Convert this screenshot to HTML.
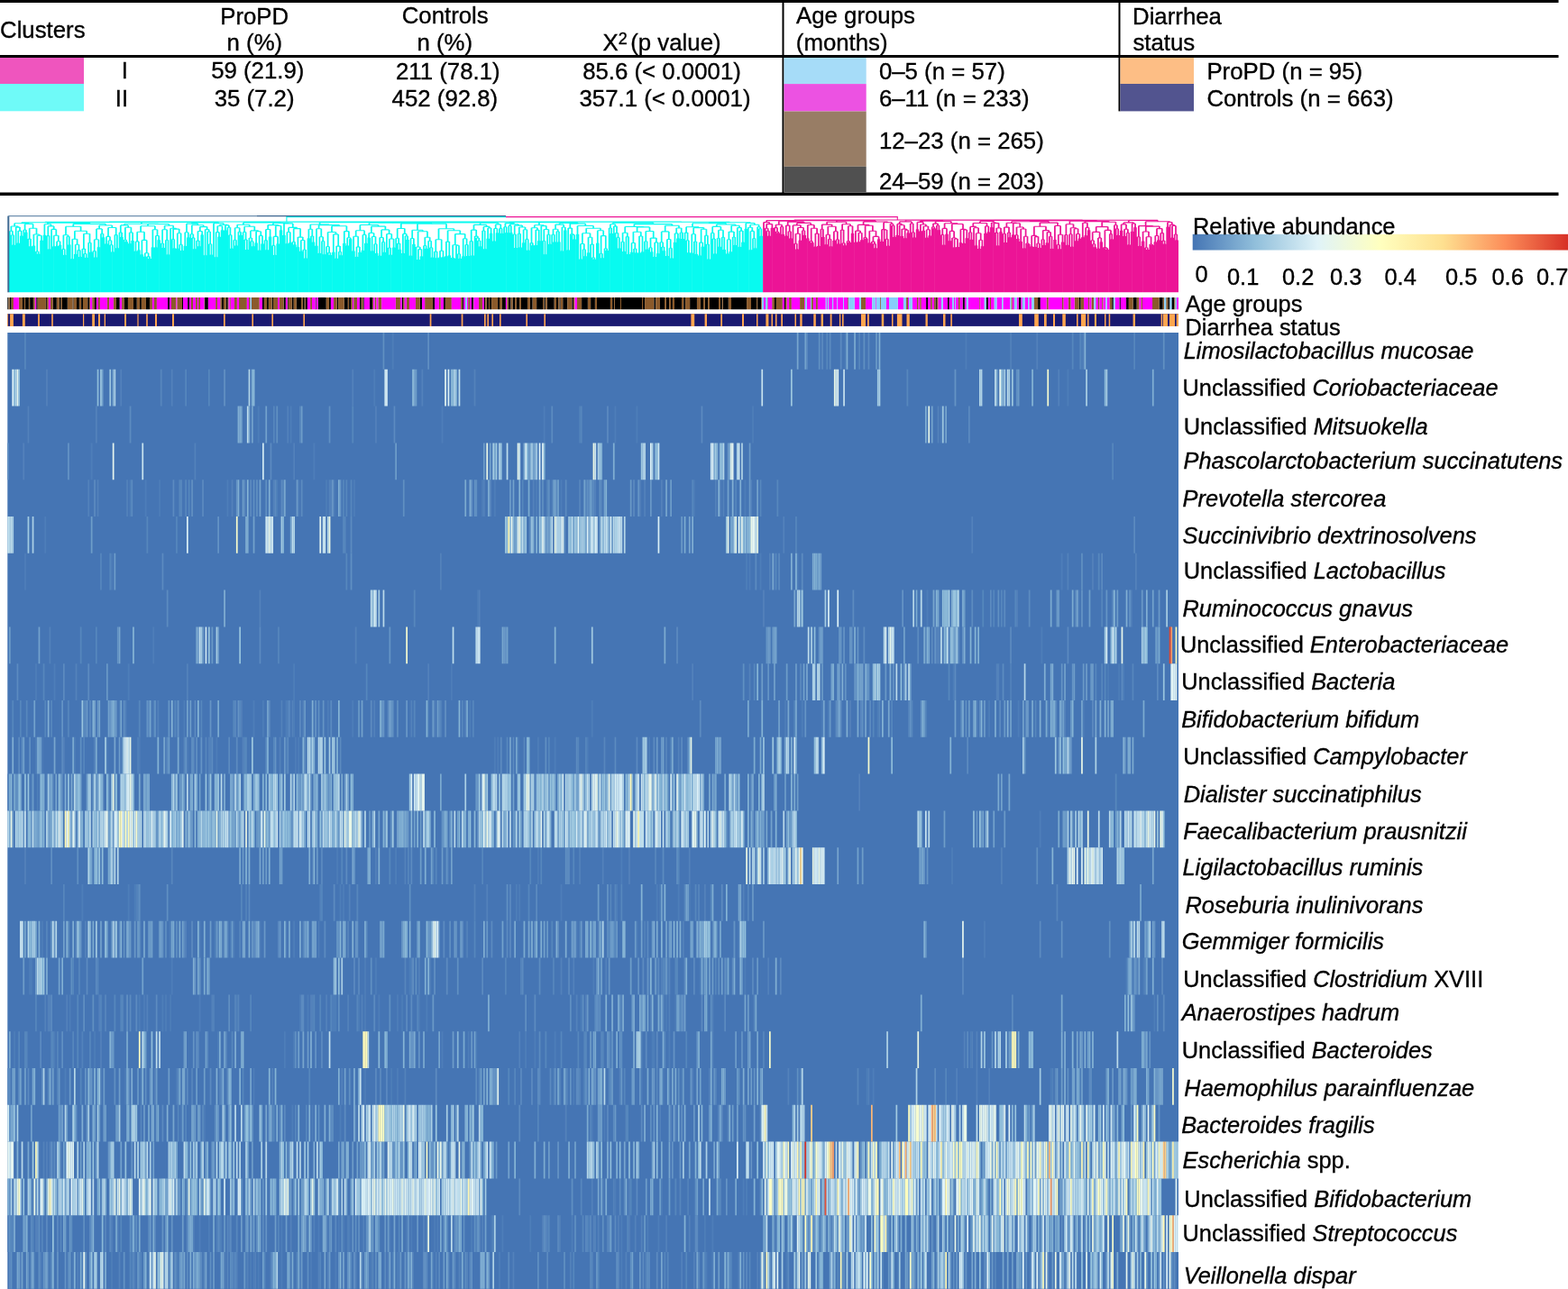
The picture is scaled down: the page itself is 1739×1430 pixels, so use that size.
<!DOCTYPE html>
<html><head><meta charset="utf-8"><title>Heatmap</title>
<style>html,body{margin:0;padding:0;background:#fff;width:1739px;height:1430px;overflow:hidden}svg text{fill:#000;stroke:#000;stroke-width:0.35px}</style>
</head><body>
<svg width="1739" height="1430" viewBox="0 0 1739 1430" style="display:block;font-family:'Liberation Sans',Arial,sans-serif;font-size:25.4px">
<rect x="0.00" y="0.00" width="1739.00" height="1430.00" fill="#fff"/>
<g font-size="25.8">
<rect x="0.00" y="0.00" width="1728.50" height="3.00" fill="#000"/>
<rect x="0.00" y="61.00" width="1728.50" height="3.00" fill="#000"/>
<rect x="0.00" y="213.50" width="1728.50" height="3.50" fill="#000"/>
<rect x="867.50" y="0.00" width="2.00" height="216.00" fill="#000"/>
<rect x="1240.50" y="0.00" width="2.00" height="123.40" fill="#000"/>
<rect x="0.00" y="64.00" width="93.00" height="29.00" fill="#ef55be"/>
<rect x="0.00" y="93.00" width="93.00" height="30.30" fill="#6ffaf8"/>
<rect x="869.50" y="64.00" width="91.20" height="29.10" fill="#a6dcf8"/>
<rect x="869.50" y="93.10" width="91.20" height="30.40" fill="#ec52e2"/>
<rect x="869.50" y="123.50" width="91.20" height="61.30" fill="#987d65"/>
<rect x="869.50" y="184.80" width="91.20" height="28.70" fill="#505050"/>
<rect x="1242.50" y="64.00" width="81.50" height="29.00" fill="#fdbe85"/>
<rect x="1242.50" y="93.00" width="81.50" height="30.40" fill="#52548f"/>
<text x="0.0" y="42.3">Clusters</text>
<text x="282.2" y="26.7" text-anchor="middle">ProPD</text>
<text x="282.4" y="56.0" text-anchor="middle">n (%)</text>
<text x="493.7" y="26.2" text-anchor="middle">Controls</text>
<text x="493.2" y="56.0" text-anchor="middle">n (%)</text>
<text x="668.5" y="56">X<tspan font-size="18" dy="-7.5">2</tspan><tspan dy="7.5" dx="3.5">(p value)</tspan></text>
<text x="138.4" y="87.1" text-anchor="middle">I</text>
<text x="135.0" y="118.2" text-anchor="middle">II</text>
<text x="285.8" y="87.1" text-anchor="middle">59 (21.9)</text>
<text x="282.1" y="118.2" text-anchor="middle">35 (7.2)</text>
<text x="496.8" y="87.8" text-anchor="middle">211 (78.1)</text>
<text x="493.4" y="117.6" text-anchor="middle">452 (92.8)</text>
<text x="734.0" y="87.8" text-anchor="middle">85.6 (&lt; 0.0001)</text>
<text x="737.5" y="117.6" text-anchor="middle">357.1 (&lt; 0.0001)</text>
<text x="883.0" y="26.3">Age groups</text>
<text x="882.8" y="56.2">(months)</text>
<text x="1256.0" y="26.9">Diarrhea</text>
<text x="1256.4" y="56.2">status</text>
<text x="974.9" y="88.0">0–5 (n = 57)</text>
<text x="974.9" y="118.0">6–11 (n = 233)</text>
<text x="974.9" y="164.9">12–23 (n = 265)</text>
<text x="974.9" y="210.0">24–59 (n = 203)</text>
<text x="1338.4" y="87.8">ProPD (n = 95)</text>
<text x="1338.4" y="118.2">Controls (n = 663)</text>
</g>
<path fill="none" stroke="#08faf0" stroke-width="1.75" d="M14.3 324.3V271.8M16.0 324.3V271.8M12.6 324.3V260.7M15.2 271.8V260.7M10.9 324.3V256.3M13.9 260.7V256.3M19.4 324.3V269.8M21.1 324.3V269.8M22.9 324.3V261.7M24.6 324.3V261.7M20.3 269.8V256.1M23.7 261.7V256.1M17.7 324.3V252.1M22.0 256.1V252.1M12.4 256.3V251.0M19.9 252.1V251.0M28.0 324.3V257.7M29.7 324.3V257.7M26.3 324.3V255.0M28.9 257.7V255.0M33.1 324.3V273.3M34.9 324.3V273.3M31.4 324.3V265.1M34.0 273.3V265.1M36.6 324.3V272.8M38.3 324.3V272.8M41.7 324.3V281.8M43.4 324.3V281.8M40.0 324.3V279.0M42.6 281.8V279.0M45.1 324.3V266.8M46.8 324.3V266.8M41.3 279.0V261.2M46.0 266.8V261.2M37.4 272.8V260.0M43.6 261.2V260.0M32.7 265.1V253.3M40.5 260.0V253.3M27.6 255.0V248.4M36.6 253.3V248.4M16.1 251.0V247.8M32.1 248.4V247.8M48.6 324.3V260.9M50.3 324.3V260.9M53.7 324.3V276.5M55.4 324.3V276.5M52.0 324.3V261.6M54.6 276.5V261.6M58.8 324.3V273.4M60.6 324.3V273.4M62.3 324.3V272.9M64.0 324.3V272.9M65.7 324.3V271.9M67.4 324.3V271.9M63.1 272.9V267.8M66.6 271.9V267.8M59.7 273.4V261.2M64.8 267.8V261.2M57.1 324.3V254.4M62.3 261.2V254.4M53.3 261.6V250.9M59.7 254.4V250.9M49.4 260.9V248.7M56.5 250.9V248.7M70.8 324.3V282.9M72.5 324.3V282.9M69.1 324.3V276.4M71.7 282.9V276.4M76.0 324.3V271.6M77.7 324.3V271.6M74.3 324.3V262.3M76.8 271.6V262.3M70.4 276.4V260.8M75.5 262.3V260.8M79.4 324.3V287.3M81.1 324.3V287.3M82.8 324.3V282.1M84.5 324.3V282.1M88.0 324.3V285.0M89.7 324.3V285.0M86.3 324.3V277.6M88.8 285.0V277.6M83.7 282.1V271.3M87.5 277.6V271.3M80.3 287.3V265.3M85.6 271.3V265.3M94.8 324.3V285.9M96.5 324.3V285.9M93.1 324.3V281.5M95.7 285.9V281.5M91.4 324.3V276.1M94.4 281.5V276.1M100.0 324.3V279.8M101.7 324.3V279.8M98.2 324.3V269.3M100.8 279.8V269.3M92.9 276.1V259.3M99.5 269.3V259.3M82.9 265.3V256.2M96.2 259.3V256.2M73.0 260.8V251.2M89.6 256.2V251.2M105.1 324.3V285.6M106.8 324.3V285.6M103.4 324.3V278.6M106.0 285.6V278.6M108.5 324.3V274.2M110.2 324.3V274.2M104.7 278.6V265.8M109.4 274.2V265.8M113.7 324.3V263.6M115.4 324.3V263.6M112.0 324.3V259.2M114.5 263.6V259.2M107.0 265.8V253.9M113.2 259.2V253.9M117.1 324.3V270.6M118.8 324.3V270.6M123.9 324.3V279.6M125.7 324.3V279.6M122.2 324.3V271.8M124.8 279.6V271.8M120.5 324.3V266.8M123.5 271.8V266.8M118.0 270.6V262.4M122.0 266.8V262.4M129.1 324.3V275.3M130.8 324.3V275.3M127.4 324.3V260.6M129.9 275.3V260.6M120.0 262.4V252.5M128.7 260.6V252.5M110.1 253.9V250.0M124.3 252.5V250.0M81.3 251.2V248.4M117.2 250.0V248.4M53.0 248.7V247.1M99.3 248.4V247.1M24.1 247.8V246.8M76.1 247.1V246.8M134.2 324.3V262.9M135.9 324.3V262.9M132.5 324.3V257.9M135.1 262.9V257.9M139.4 324.3V268.2M141.1 324.3V268.2M137.7 324.3V266.0M140.2 268.2V266.0M142.8 324.3V270.3M144.5 324.3V270.3M146.2 324.3V266.9M147.9 324.3V266.9M143.7 270.3V257.9M147.1 266.9V257.9M138.9 266.0V252.3M145.4 257.9V252.3M133.8 257.9V249.9M142.2 252.3V249.9M149.6 324.3V278.8M151.4 324.3V278.8M153.1 324.3V277.4M154.8 324.3V277.4M150.5 278.8V267.9M153.9 277.4V267.9M156.5 324.3V282.5M158.2 324.3V282.5M159.9 324.3V284.7M161.6 324.3V284.7M165.1 324.3V287.1M166.8 324.3V287.1M163.4 324.3V284.6M165.9 287.1V284.6M160.8 284.7V280.7M164.6 284.6V280.7M157.4 282.5V266.4M162.7 280.7V266.4M152.2 267.9V257.2M160.0 266.4V257.2M168.5 324.3V274.6M170.2 324.3V274.6M171.9 324.3V274.4M173.6 324.3V274.4M175.3 324.3V266.3M177.1 324.3V266.3M172.8 274.4V261.5M176.2 266.3V261.5M169.4 274.6V254.7M174.5 261.5V254.7M156.1 257.2V250.8M171.9 254.7V250.8M180.5 324.3V275.1M182.2 324.3V275.1M178.8 324.3V270.0M181.3 275.1V270.0M185.6 324.3V282.4M187.3 324.3V282.4M183.9 324.3V266.2M186.5 282.4V266.2M180.1 270.0V254.8M185.2 266.2V254.8M192.5 324.3V275.5M194.2 324.3V275.5M190.8 324.3V265.4M193.3 275.5V265.4M195.9 324.3V275.8M197.6 324.3V275.8M201.0 324.3V278.0M202.8 324.3V278.0M199.3 324.3V271.2M201.9 278.0V271.2M196.8 275.8V258.8M200.6 271.2V258.8M192.1 265.4V254.1M198.7 258.8V254.1M189.1 324.3V253.2M195.4 254.1V253.2M182.6 254.8V250.2M192.2 253.2V250.2M164.0 250.8V248.5M187.4 250.2V248.5M138.0 249.9V248.2M175.7 248.5V248.2M204.5 324.3V273.0M206.2 324.3V273.0M207.9 324.3V263.6M209.6 324.3V263.6M205.3 273.0V257.8M208.8 263.6V257.8M214.8 324.3V276.3M216.5 324.3V276.3M213.0 324.3V263.9M215.6 276.3V263.9M211.3 324.3V259.7M214.3 263.9V259.7M219.9 324.3V273.2M221.6 324.3V273.2M218.2 324.3V267.1M220.8 273.2V267.1M223.3 324.3V260.5M225.0 324.3V260.5M219.5 267.1V256.5M224.2 260.5V256.5M226.7 324.3V283.2M228.5 324.3V283.2M233.6 324.3V282.7M235.3 324.3V282.7M231.9 324.3V270.8M234.5 282.7V270.8M230.2 324.3V257.0M233.2 270.8V257.0M227.6 283.2V254.6M231.7 257.0V254.6M221.8 256.5V251.6M229.6 254.6V251.6M212.8 259.7V249.7M225.7 251.6V249.7M207.0 257.8V248.1M219.3 249.7V248.1M238.7 324.3V285.2M240.5 324.3V285.2M242.2 324.3V262.7M243.9 324.3V262.7M239.6 285.2V257.6M243.0 262.7V257.6M245.6 324.3V255.5M247.3 324.3V255.5M241.3 257.6V250.8M246.5 255.5V250.8M249.0 324.3V255.5M250.7 324.3V255.5M255.9 324.3V275.7M257.6 324.3V275.7M254.2 324.3V260.8M256.7 275.7V260.8M252.4 324.3V252.3M255.4 260.8V252.3M249.9 255.5V249.9M253.9 252.3V249.9M243.9 250.8V249.3M251.9 249.9V249.3M237.0 324.3V247.8M247.9 249.3V247.8M213.2 248.1V246.9M242.5 247.8V246.9M156.9 248.2V246.5M227.8 246.9V246.5M50.1 246.8V246.4M192.3 246.5V246.4M261.0 324.3V272.4M262.7 324.3V272.4M259.3 324.3V266.3M261.9 272.4V266.3M266.2 324.3V261.1M267.9 324.3V261.1M264.4 324.3V257.3M267.0 261.1V257.3M260.6 266.3V252.7M265.7 257.3V252.7M273.0 324.3V277.0M274.7 324.3V277.0M271.3 324.3V265.9M273.9 277.0V265.9M269.6 324.3V257.4M272.6 265.9V257.4M279.9 324.3V273.2M281.6 324.3V273.2M278.1 324.3V267.8M280.7 273.2V267.8M276.4 324.3V264.0M279.4 267.8V264.0M283.3 324.3V269.4M285.0 324.3V269.4M286.7 324.3V277.7M288.4 324.3V277.7M290.1 324.3V270.5M291.9 324.3V270.5M287.6 277.7V261.4M291.0 270.5V261.4M284.1 269.4V256.8M289.3 261.4V256.8M277.9 264.0V255.9M286.7 256.8V255.9M271.1 257.4V251.3M282.3 255.9V251.3M263.2 252.7V249.3M276.7 251.3V249.3M295.3 324.3V277.3M297.0 324.3V277.3M293.6 324.3V266.6M296.1 277.3V266.6M298.7 324.3V262.8M300.4 324.3V262.8M294.9 266.6V254.5M299.6 262.8V254.5M303.8 324.3V283.0M305.6 324.3V283.0M302.1 324.3V272.4M304.7 283.0V272.4M307.3 324.3V270.4M309.0 324.3V270.4M303.4 272.4V262.4M308.1 270.4V262.4M310.7 324.3V255.6M312.4 324.3V255.6M305.8 262.4V250.5M311.6 255.6V250.5M297.2 254.5V249.6M308.7 250.5V249.6M314.1 324.3V261.0M315.8 324.3V261.0M317.6 324.3V270.2M319.3 324.3V270.2M321.0 324.3V269.2M322.7 324.3V269.2M318.4 270.2V257.5M321.8 269.2V257.5M326.1 324.3V271.4M327.8 324.3V271.4M324.4 324.3V268.3M327.0 271.4V268.3M329.5 324.3V274.3M331.3 324.3V274.3M333.0 324.3V278.7M334.7 324.3V278.7M338.1 324.3V286.6M339.8 324.3V286.6M336.4 324.3V277.0M339.0 286.6V277.0M333.8 278.7V266.5M337.7 277.0V266.5M330.4 274.3V263.1M335.8 266.5V263.1M325.7 268.3V253.6M333.1 263.1V253.6M320.1 257.5V252.4M329.4 253.6V252.4M315.0 261.0V247.9M324.8 252.4V247.9M302.9 249.6V247.5M319.9 247.9V247.5M269.9 249.3V247.0M311.4 247.5V247.0M341.5 324.3V264.6M343.3 324.3V264.6M346.7 324.3V268.8M348.4 324.3V268.8M345.0 324.3V262.0M347.5 268.8V262.0M342.4 264.6V254.2M346.3 262.0V254.2M350.1 324.3V272.7M351.8 324.3V272.7M353.5 324.3V281.1M355.2 324.3V281.1M358.7 324.3V282.3M360.4 324.3V282.3M357.0 324.3V267.4M359.5 282.3V267.4M354.4 281.1V262.8M358.2 267.4V262.8M351.0 272.7V253.8M356.3 262.8V253.8M365.5 324.3V283.1M367.2 324.3V283.1M363.8 324.3V280.3M366.4 283.1V280.3M362.1 324.3V273.5M365.1 280.3V273.5M369.0 324.3V279.7M370.7 324.3V279.7M372.4 324.3V286.7M374.1 324.3V286.7M377.5 324.3V283.3M379.2 324.3V283.3M375.8 324.3V279.2M378.4 283.3V279.2M373.2 286.7V273.1M377.1 279.2V273.1M369.8 279.7V259.9M375.2 273.1V259.9M363.6 273.5V257.5M372.5 259.9V257.5M380.9 324.3V269.9M382.7 324.3V269.9M384.4 324.3V272.6M386.1 324.3V272.6M387.8 324.3V265.2M389.5 324.3V265.2M385.2 272.6V263.7M388.7 265.2V263.7M381.8 269.9V256.6M386.9 263.7V256.6M368.0 257.5V250.7M384.4 256.6V250.7M353.6 253.8V249.6M376.2 250.7V249.6M344.3 254.2V249.0M364.9 249.6V249.0M391.2 324.3V278.5M392.9 324.3V278.5M394.7 324.3V285.1M396.4 324.3V285.1M398.1 324.3V280.0M399.8 324.3V280.0M395.5 285.1V273.9M398.9 280.0V273.9M392.1 278.5V262.2M397.2 273.9V262.2M401.5 324.3V277.9M403.2 324.3V277.9M404.9 324.3V269.9M406.6 324.3V269.9M402.4 277.9V260.4M405.8 269.9V260.4M394.7 262.2V255.7M404.1 260.4V255.7M408.4 324.3V263.8M410.1 324.3V263.8M411.8 324.3V278.6M413.5 324.3V278.6M416.9 324.3V280.9M418.6 324.3V280.9M415.2 324.3V270.7M417.8 280.9V270.7M412.6 278.6V262.5M416.5 270.7V262.5M409.2 263.8V258.5M414.6 262.5V258.5M420.4 324.3V283.8M422.1 324.3V283.8M425.5 324.3V279.9M427.2 324.3V279.9M423.8 324.3V268.4M426.4 279.9V268.4M421.2 283.8V263.5M425.1 268.4V263.5M432.3 324.3V282.8M434.1 324.3V282.8M430.6 324.3V274.9M433.2 282.8V274.9M435.8 324.3V274.8M437.5 324.3V274.8M431.9 274.9V265.0M436.6 274.8V265.0M428.9 324.3V259.5M434.3 265.0V259.5M423.1 263.5V254.9M431.6 259.5V254.9M411.9 258.5V251.1M427.4 254.9V251.1M399.4 255.7V249.5M419.6 251.1V249.5M442.6 324.3V276.9M444.3 324.3V276.9M440.9 324.3V270.1M443.5 276.9V270.1M439.2 324.3V264.2M442.2 270.1V264.2M446.1 324.3V281.0M447.8 324.3V281.0M451.2 324.3V266.1M452.9 324.3V266.1M449.5 324.3V261.8M452.1 266.1V261.8M446.9 281.0V259.4M450.8 261.8V259.4M440.7 264.2V253.5M448.8 259.4V253.5M454.6 324.3V283.7M456.3 324.3V283.7M458.0 324.3V271.1M459.8 324.3V271.1M455.5 283.7V264.5M458.9 271.1V264.5M463.2 324.3V288.0M464.9 324.3V288.0M466.6 324.3V284.5M468.3 324.3V284.5M464.0 288.0V276.6M467.5 284.5V276.6M461.5 324.3V274.0M465.8 276.6V274.0M471.8 324.3V275.9M473.5 324.3V275.9M470.0 324.3V272.5M472.6 275.9V272.5M478.6 324.3V285.7M480.3 324.3V285.7M476.9 324.3V274.8M479.5 285.7V274.8M475.2 324.3V267.3M478.2 274.8V267.3M471.3 272.5V263.2M476.7 267.3V263.2M463.6 274.0V256.8M474.0 263.2V256.8M457.2 264.5V255.3M468.8 256.8V255.3M483.7 324.3V286.2M485.5 324.3V286.2M482.0 324.3V279.1M484.6 286.2V279.1M487.2 324.3V285.4M488.9 324.3V285.4M490.6 324.3V285.3M492.3 324.3V285.3M488.0 285.4V278.3M491.5 285.3V278.3M483.3 279.1V265.8M489.7 278.3V265.8M494.0 324.3V284.2M495.7 324.3V284.2M497.5 324.3V283.5M499.2 324.3V283.5M494.9 284.2V268.1M498.3 283.5V268.1M502.6 324.3V287.0M504.3 324.3V287.0M500.9 324.3V286.1M503.5 287.0V286.1M509.4 324.3V286.9M511.2 324.3V286.9M507.7 324.3V281.7M510.3 286.9V281.7M506.0 324.3V272.3M509.0 281.7V272.3M502.2 286.1V271.7M507.5 272.3V271.7M512.9 324.3V284.4M514.6 324.3V284.4M518.0 324.3V284.1M519.7 324.3V284.1M516.3 324.3V271.5M518.9 284.1V271.5M513.7 284.4V264.8M517.6 271.5V264.8M504.8 271.7V259.6M515.7 264.8V259.6M496.6 268.1V255.8M510.3 259.6V255.8M486.5 265.8V253.8M503.4 255.8V253.8M463.0 255.3V248.3M495.0 253.8V248.3M444.8 253.5V248.0M479.0 248.3V248.0M409.5 249.5V247.3M461.9 248.0V247.3M523.2 324.3V283.6M524.9 324.3V283.6M521.4 324.3V267.6M524.0 283.6V267.6M531.7 324.3V273.6M533.4 324.3V273.6M530.0 324.3V267.0M532.6 273.6V267.0M528.3 324.3V264.0M531.3 267.0V264.0M526.6 324.3V262.1M529.8 264.0V262.1M522.7 267.6V255.1M528.2 262.1V255.1M536.9 324.3V276.2M538.6 324.3V276.2M535.1 324.3V256.0M537.7 276.2V256.0M540.3 324.3V264.7M542.0 324.3V264.7M543.7 324.3V258.9M545.4 324.3V258.9M541.1 264.7V252.9M544.6 258.9V252.9M536.4 256.0V251.4M542.9 252.9V251.4M525.5 255.1V249.4M539.6 251.4V249.4M547.1 324.3V267.5M548.9 324.3V267.5M550.6 324.3V258.6M552.3 324.3V258.6M548.0 267.5V253.5M551.4 258.6V253.5M555.7 324.3V259.0M557.4 324.3V259.0M554.0 324.3V253.4M556.6 259.0V253.4M549.7 253.5V248.9M555.3 253.4V248.9M532.6 249.4V247.2M552.5 248.9V247.2M435.7 247.3V247.0M542.5 247.2V247.0M354.6 249.0V246.6M489.1 247.0V246.6M290.7 247.0V246.2M421.9 246.6V246.2M560.8 324.3V258.2M562.6 324.3V258.2M559.1 324.3V251.8M561.7 258.2V251.8M566.0 324.3V258.2M567.7 324.3V258.2M564.3 324.3V250.4M566.8 258.2V250.4M571.1 324.3V275.0M572.8 324.3V275.0M569.4 324.3V260.0M572.0 275.0V260.0M576.3 324.3V274.5M578.0 324.3V274.5M574.6 324.3V259.3M577.1 274.5V259.3M579.7 324.3V269.4M581.4 324.3V269.4M584.8 324.3V277.8M586.5 324.3V277.8M583.1 324.3V265.4M585.7 277.8V265.4M580.6 269.4V254.8M584.4 265.4V254.8M575.8 259.3V252.0M582.5 254.8V252.0M570.7 260.0V250.1M579.2 252.0V250.1M565.6 250.4V248.7M574.9 250.1V248.7M560.4 251.8V247.6M570.2 248.7V247.6M590.0 324.3V272.2M591.7 324.3V272.2M588.3 324.3V269.6M590.8 272.2V269.6M593.4 324.3V272.0M595.1 324.3V272.0M596.8 324.3V267.2M598.5 324.3V267.2M594.3 272.0V255.1M597.7 267.2V255.1M589.5 269.6V252.8M596.0 255.1V252.8M603.7 324.3V282.2M605.4 324.3V282.2M602.0 324.3V267.3M604.5 282.2V267.3M608.8 324.3V270.9M610.5 324.3V270.9M607.1 324.3V260.3M609.7 270.9V260.3M603.3 267.3V254.5M608.4 260.3V254.5M600.3 324.3V250.6M605.8 254.5V250.6M592.8 252.8V249.8M603.0 250.6V249.8M614.0 324.3V268.6M615.7 324.3V268.6M612.2 324.3V260.2M614.8 268.6V260.2M619.1 324.3V268.5M620.8 324.3V268.5M617.4 324.3V256.7M620.0 268.5V256.7M613.5 260.2V254.2M618.7 256.7V254.2M622.5 324.3V278.4M624.2 324.3V278.4M626.0 324.3V255.4M627.7 324.3V255.4M623.4 278.4V252.0M626.8 255.4V252.0M616.1 254.2V249.1M625.1 252.0V249.1M629.4 324.3V277.5M631.1 324.3V277.5M636.2 324.3V265.6M637.9 324.3V265.6M634.5 324.3V260.4M637.1 265.6V260.4M632.8 324.3V259.8M635.8 260.4V259.8M630.2 277.5V253.1M634.3 259.8V253.1M639.7 324.3V260.1M641.4 324.3V260.1M643.1 324.3V287.4M644.8 324.3V287.4M648.2 324.3V284.3M649.9 324.3V284.3M646.5 324.3V276.8M649.1 284.3V276.8M643.9 287.4V270.5M647.8 276.8V270.5M651.7 324.3V280.6M653.4 324.3V280.6M658.5 324.3V287.8M660.2 324.3V287.8M656.8 324.3V285.8M659.4 287.8V285.8M655.1 324.3V271.1M658.1 285.8V271.1M652.5 280.6V263.3M656.6 271.1V263.3M645.9 270.5V258.7M654.5 263.3V258.7M661.9 324.3V269.7M663.6 324.3V269.7M667.1 324.3V286.3M668.8 324.3V286.3M665.4 324.3V281.3M667.9 286.3V281.3M672.2 324.3V278.1M673.9 324.3V278.1M670.5 324.3V275.8M673.1 278.1V275.8M666.6 281.3V261.6M671.8 275.8V261.6M662.8 269.7V255.8M669.2 261.6V255.8M650.2 258.7V253.2M666.0 255.8V253.2M640.5 260.1V250.5M658.1 253.2V250.5M632.3 253.1V248.1M649.3 250.5V248.1M620.6 249.1V247.4M640.8 248.1V247.4M597.9 249.8V246.7M630.7 247.4V246.7M565.3 247.6V246.4M614.3 246.7V246.4M677.4 324.3V259.1M679.1 324.3V259.1M675.6 324.3V252.9M678.2 259.1V252.9M685.9 324.3V275.6M687.6 324.3V275.6M684.2 324.3V263.4M686.8 275.6V263.4M682.5 324.3V258.6M685.5 263.4V258.6M680.8 324.3V251.1M684.0 258.6V251.1M676.9 252.9V248.8M682.4 251.1V248.8M691.1 324.3V278.9M692.8 324.3V278.9M689.3 324.3V268.3M691.9 278.9V268.3M696.2 324.3V281.9M697.9 324.3V281.9M694.5 324.3V262.6M697.1 281.9V262.6M690.6 268.3V258.3M695.8 262.6V258.3M699.6 324.3V280.1M701.3 324.3V280.1M704.8 324.3V280.5M706.5 324.3V280.5M703.1 324.3V276.0M705.6 280.5V276.0M700.5 280.1V269.5M704.3 276.0V269.5M708.2 324.3V280.4M709.9 324.3V280.4M711.6 324.3V279.4M713.3 324.3V279.4M709.0 280.4V262.0M712.5 279.4V262.0M702.4 269.5V257.2M710.8 262.0V257.2M716.8 324.3V276.7M718.5 324.3V276.7M715.0 324.3V267.7M717.6 276.7V267.7M721.9 324.3V279.5M723.6 324.3V279.5M720.2 324.3V274.7M722.8 279.5V274.7M725.3 324.3V284.9M727.0 324.3V284.9M728.8 324.3V281.2M730.5 324.3V281.2M726.2 284.9V268.9M729.6 281.2V268.9M721.5 274.7V264.1M727.9 268.9V264.1M716.3 267.7V256.5M724.7 264.1V256.5M706.6 257.2V251.9M720.5 256.5V251.9M693.2 258.3V251.5M713.5 251.9V251.5M735.6 324.3V278.2M737.3 324.3V278.2M733.9 324.3V274.0M736.5 278.2V274.0M732.2 324.3V268.8M735.2 274.0V268.8M739.0 324.3V284.0M740.7 324.3V284.0M744.2 324.3V286.5M745.9 324.3V286.5M742.5 324.3V275.2M745.0 286.5V275.2M739.9 284.0V265.5M743.7 275.2V265.5M733.7 268.8V256.9M741.8 265.5V256.9M747.6 324.3V269.0M749.3 324.3V269.0M751.0 324.3V264.4M752.7 324.3V264.4M748.5 269.0V258.9M751.9 264.4V258.9M756.2 324.3V264.9M757.9 324.3V264.9M754.5 324.3V258.0M757.0 264.9V258.0M750.2 258.9V253.0M755.7 258.0V253.0M737.7 256.9V250.2M753.0 253.0V250.2M703.4 251.5V248.6M745.4 250.2V248.6M679.7 248.8V247.3M724.4 248.6V247.3M763.0 324.3V280.2M764.7 324.3V280.2M761.3 324.3V266.7M763.9 280.2V266.7M759.6 324.3V258.1M762.6 266.7V258.1M766.4 324.3V280.8M768.2 324.3V280.8M771.6 324.3V282.0M773.3 324.3V282.0M769.9 324.3V268.0M772.4 282.0V268.0M767.3 280.8V259.7M771.2 268.0V259.7M775.0 324.3V283.4M776.7 324.3V283.4M778.4 324.3V273.7M780.2 324.3V273.7M775.9 283.4V269.1M779.3 273.7V269.1M785.3 324.3V287.6M787.0 324.3V287.6M783.6 324.3V271.0M786.1 287.6V271.0M781.9 324.3V261.3M784.9 271.0V261.3M777.6 269.1V254.3M783.4 261.3V254.3M769.2 259.7V252.6M780.5 254.3V252.6M761.1 258.1V251.7M774.9 252.6V251.7M792.1 324.3V281.6M793.9 324.3V281.6M790.4 324.3V264.9M793.0 281.6V264.9M788.7 324.3V258.4M791.7 264.9V258.4M797.3 324.3V273.8M799.0 324.3V273.8M795.6 324.3V264.3M798.1 273.8V264.3M802.4 324.3V277.1M804.1 324.3V277.1M800.7 324.3V263.2M803.3 277.1V263.2M796.9 264.3V255.2M802.0 263.2V255.2M790.2 258.4V251.4M799.4 255.2V251.4M805.9 324.3V281.4M807.6 324.3V281.4M809.3 324.3V279.3M811.0 324.3V279.3M806.7 281.4V265.7M810.1 279.3V265.7M814.4 324.3V272.1M816.1 324.3V272.1M812.7 324.3V263.0M815.3 272.1V263.0M808.4 265.7V257.1M814.0 263.0V257.1M819.6 324.3V274.1M821.3 324.3V274.1M823.0 324.3V268.7M824.7 324.3V268.7M820.4 274.1V256.1M823.8 268.7V256.1M817.8 324.3V252.6M822.1 256.1V252.6M811.2 257.1V250.3M820.0 252.6V250.3M794.8 251.4V249.0M815.6 250.3V249.0M768.0 251.7V247.7M805.2 249.0V247.7M826.4 324.3V254.0M828.1 324.3V254.0M831.6 324.3V277.2M833.3 324.3V277.2M836.7 324.3V275.4M838.4 324.3V275.4M835.0 324.3V264.5M837.5 275.4V264.5M832.4 277.2V256.4M836.3 264.5V256.4M829.8 324.3V252.2M834.3 256.4V252.2M843.5 324.3V261.9M845.3 324.3V261.9M841.8 324.3V253.7M844.4 261.9V253.7M840.1 324.3V251.7M843.1 253.7V251.7M832.1 252.2V249.2M841.6 251.7V249.2M827.3 254.0V247.5M836.9 249.2V247.5M786.6 247.7V246.7M832.1 247.5V246.7M702.0 247.3V246.3M809.3 246.7V246.3M589.8 246.4V246.1M755.7 246.3V246.1M356.3 246.2V246.1M672.7 246.1V246.1M121.2 246.4V246.0M514.5 246.1V246.0"/>
<path fill="none" stroke="#08faf0" stroke-width="1.1" d="M14.3 271.8H16.0M12.6 260.7H15.2M10.9 256.3H13.9M19.4 269.8H21.1M22.9 261.7H24.6M20.3 256.1H23.7M17.7 252.1H22.0M12.4 251.0H19.9M28.0 257.7H29.7M26.3 255.0H28.9M33.1 273.3H34.9M31.4 265.1H34.0M36.6 272.8H38.3M41.7 281.8H43.4M40.0 279.0H42.6M45.1 266.8H46.8M41.3 261.2H46.0M37.4 260.0H43.6M32.7 253.3H40.5M27.6 248.4H36.6M16.1 247.8H32.1M48.6 260.9H50.3M53.7 276.5H55.4M52.0 261.6H54.6M58.8 273.4H60.6M62.3 272.9H64.0M65.7 271.9H67.4M63.1 267.8H66.6M59.7 261.2H64.8M57.1 254.4H62.3M53.3 250.9H59.7M49.4 248.7H56.5M70.8 282.9H72.5M69.1 276.4H71.7M76.0 271.6H77.7M74.3 262.3H76.8M70.4 260.8H75.5M79.4 287.3H81.1M82.8 282.1H84.5M88.0 285.0H89.7M86.3 277.6H88.8M83.7 271.3H87.5M80.3 265.3H85.6M94.8 285.9H96.5M93.1 281.5H95.7M91.4 276.1H94.4M100.0 279.8H101.7M98.2 269.3H100.8M92.9 259.3H99.5M82.9 256.2H96.2M73.0 251.2H89.6M105.1 285.6H106.8M103.4 278.6H106.0M108.5 274.2H110.2M104.7 265.8H109.4M113.7 263.6H115.4M112.0 259.2H114.5M107.0 253.9H113.2M117.1 270.6H118.8M123.9 279.6H125.7M122.2 271.8H124.8M120.5 266.8H123.5M118.0 262.4H122.0M129.1 275.3H130.8M127.4 260.6H129.9M120.0 252.5H128.7M110.1 250.0H124.3M81.3 248.4H117.2M53.0 247.1H99.3M24.1 246.8H76.1M134.2 262.9H135.9M132.5 257.9H135.1M139.4 268.2H141.1M137.7 266.0H140.2M142.8 270.3H144.5M146.2 266.9H147.9M143.7 257.9H147.1M138.9 252.3H145.4M133.8 249.9H142.2M149.6 278.8H151.4M153.1 277.4H154.8M150.5 267.9H153.9M156.5 282.5H158.2M159.9 284.7H161.6M165.1 287.1H166.8M163.4 284.6H165.9M160.8 280.7H164.6M157.4 266.4H162.7M152.2 257.2H160.0M168.5 274.6H170.2M171.9 274.4H173.6M175.3 266.3H177.1M172.8 261.5H176.2M169.4 254.7H174.5M156.1 250.8H171.9M180.5 275.1H182.2M178.8 270.0H181.3M185.6 282.4H187.3M183.9 266.2H186.5M180.1 254.8H185.2M192.5 275.5H194.2M190.8 265.4H193.3M195.9 275.8H197.6M201.0 278.0H202.8M199.3 271.2H201.9M196.8 258.8H200.6M192.1 254.1H198.7M189.1 253.2H195.4M182.6 250.2H192.2M164.0 248.5H187.4M138.0 248.2H175.7M204.5 273.0H206.2M207.9 263.6H209.6M205.3 257.8H208.8M214.8 276.3H216.5M213.0 263.9H215.6M211.3 259.7H214.3M219.9 273.2H221.6M218.2 267.1H220.8M223.3 260.5H225.0M219.5 256.5H224.2M226.7 283.2H228.5M233.6 282.7H235.3M231.9 270.8H234.5M230.2 257.0H233.2M227.6 254.6H231.7M221.8 251.6H229.6M212.8 249.7H225.7M207.0 248.1H219.3M238.7 285.2H240.5M242.2 262.7H243.9M239.6 257.6H243.0M245.6 255.5H247.3M241.3 250.8H246.5M249.0 255.5H250.7M255.9 275.7H257.6M254.2 260.8H256.7M252.4 252.3H255.4M249.9 249.9H253.9M243.9 249.3H251.9M237.0 247.8H247.9M213.2 246.9H242.5M156.9 246.5H227.8M50.1 246.4H192.3M261.0 272.4H262.7M259.3 266.3H261.9M266.2 261.1H267.9M264.4 257.3H267.0M260.6 252.7H265.7M273.0 277.0H274.7M271.3 265.9H273.9M269.6 257.4H272.6M279.9 273.2H281.6M278.1 267.8H280.7M276.4 264.0H279.4M283.3 269.4H285.0M286.7 277.7H288.4M290.1 270.5H291.9M287.6 261.4H291.0M284.1 256.8H289.3M277.9 255.9H286.7M271.1 251.3H282.3M263.2 249.3H276.7M295.3 277.3H297.0M293.6 266.6H296.1M298.7 262.8H300.4M294.9 254.5H299.6M303.8 283.0H305.6M302.1 272.4H304.7M307.3 270.4H309.0M303.4 262.4H308.1M310.7 255.6H312.4M305.8 250.5H311.6M297.2 249.6H308.7M314.1 261.0H315.8M317.6 270.2H319.3M321.0 269.2H322.7M318.4 257.5H321.8M326.1 271.4H327.8M324.4 268.3H327.0M329.5 274.3H331.3M333.0 278.7H334.7M338.1 286.6H339.8M336.4 277.0H339.0M333.8 266.5H337.7M330.4 263.1H335.8M325.7 253.6H333.1M320.1 252.4H329.4M315.0 247.9H324.8M302.9 247.5H319.9M269.9 247.0H311.4M341.5 264.6H343.3M346.7 268.8H348.4M345.0 262.0H347.5M342.4 254.2H346.3M350.1 272.7H351.8M353.5 281.1H355.2M358.7 282.3H360.4M357.0 267.4H359.5M354.4 262.8H358.2M351.0 253.8H356.3M365.5 283.1H367.2M363.8 280.3H366.4M362.1 273.5H365.1M369.0 279.7H370.7M372.4 286.7H374.1M377.5 283.3H379.2M375.8 279.2H378.4M373.2 273.1H377.1M369.8 259.9H375.2M363.6 257.5H372.5M380.9 269.9H382.7M384.4 272.6H386.1M387.8 265.2H389.5M385.2 263.7H388.7M381.8 256.6H386.9M368.0 250.7H384.4M353.6 249.6H376.2M344.3 249.0H364.9M391.2 278.5H392.9M394.7 285.1H396.4M398.1 280.0H399.8M395.5 273.9H398.9M392.1 262.2H397.2M401.5 277.9H403.2M404.9 269.9H406.6M402.4 260.4H405.8M394.7 255.7H404.1M408.4 263.8H410.1M411.8 278.6H413.5M416.9 280.9H418.6M415.2 270.7H417.8M412.6 262.5H416.5M409.2 258.5H414.6M420.4 283.8H422.1M425.5 279.9H427.2M423.8 268.4H426.4M421.2 263.5H425.1M432.3 282.8H434.1M430.6 274.9H433.2M435.8 274.8H437.5M431.9 265.0H436.6M428.9 259.5H434.3M423.1 254.9H431.6M411.9 251.1H427.4M399.4 249.5H419.6M442.6 276.9H444.3M440.9 270.1H443.5M439.2 264.2H442.2M446.1 281.0H447.8M451.2 266.1H452.9M449.5 261.8H452.1M446.9 259.4H450.8M440.7 253.5H448.8M454.6 283.7H456.3M458.0 271.1H459.8M455.5 264.5H458.9M463.2 288.0H464.9M466.6 284.5H468.3M464.0 276.6H467.5M461.5 274.0H465.8M471.8 275.9H473.5M470.0 272.5H472.6M478.6 285.7H480.3M476.9 274.8H479.5M475.2 267.3H478.2M471.3 263.2H476.7M463.6 256.8H474.0M457.2 255.3H468.8M483.7 286.2H485.5M482.0 279.1H484.6M487.2 285.4H488.9M490.6 285.3H492.3M488.0 278.3H491.5M483.3 265.8H489.7M494.0 284.2H495.7M497.5 283.5H499.2M494.9 268.1H498.3M502.6 287.0H504.3M500.9 286.1H503.5M509.4 286.9H511.2M507.7 281.7H510.3M506.0 272.3H509.0M502.2 271.7H507.5M512.9 284.4H514.6M518.0 284.1H519.7M516.3 271.5H518.9M513.7 264.8H517.6M504.8 259.6H515.7M496.6 255.8H510.3M486.5 253.8H503.4M463.0 248.3H495.0M444.8 248.0H479.0M409.5 247.3H461.9M523.2 283.6H524.9M521.4 267.6H524.0M531.7 273.6H533.4M530.0 267.0H532.6M528.3 264.0H531.3M526.6 262.1H529.8M522.7 255.1H528.2M536.9 276.2H538.6M535.1 256.0H537.7M540.3 264.7H542.0M543.7 258.9H545.4M541.1 252.9H544.6M536.4 251.4H542.9M525.5 249.4H539.6M547.1 267.5H548.9M550.6 258.6H552.3M548.0 253.5H551.4M555.7 259.0H557.4M554.0 253.4H556.6M549.7 248.9H555.3M532.6 247.2H552.5M435.7 247.0H542.5M354.6 246.6H489.1M290.7 246.2H421.9M560.8 258.2H562.6M559.1 251.8H561.7M566.0 258.2H567.7M564.3 250.4H566.8M571.1 275.0H572.8M569.4 260.0H572.0M576.3 274.5H578.0M574.6 259.3H577.1M579.7 269.4H581.4M584.8 277.8H586.5M583.1 265.4H585.7M580.6 254.8H584.4M575.8 252.0H582.5M570.7 250.1H579.2M565.6 248.7H574.9M560.4 247.6H570.2M590.0 272.2H591.7M588.3 269.6H590.8M593.4 272.0H595.1M596.8 267.2H598.5M594.3 255.1H597.7M589.5 252.8H596.0M603.7 282.2H605.4M602.0 267.3H604.5M608.8 270.9H610.5M607.1 260.3H609.7M603.3 254.5H608.4M600.3 250.6H605.8M592.8 249.8H603.0M614.0 268.6H615.7M612.2 260.2H614.8M619.1 268.5H620.8M617.4 256.7H620.0M613.5 254.2H618.7M622.5 278.4H624.2M626.0 255.4H627.7M623.4 252.0H626.8M616.1 249.1H625.1M629.4 277.5H631.1M636.2 265.6H637.9M634.5 260.4H637.1M632.8 259.8H635.8M630.2 253.1H634.3M639.7 260.1H641.4M643.1 287.4H644.8M648.2 284.3H649.9M646.5 276.8H649.1M643.9 270.5H647.8M651.7 280.6H653.4M658.5 287.8H660.2M656.8 285.8H659.4M655.1 271.1H658.1M652.5 263.3H656.6M645.9 258.7H654.5M661.9 269.7H663.6M667.1 286.3H668.8M665.4 281.3H667.9M672.2 278.1H673.9M670.5 275.8H673.1M666.6 261.6H671.8M662.8 255.8H669.2M650.2 253.2H666.0M640.5 250.5H658.1M632.3 248.1H649.3M620.6 247.4H640.8M597.9 246.7H630.7M565.3 246.4H614.3M677.4 259.1H679.1M675.6 252.9H678.2M685.9 275.6H687.6M684.2 263.4H686.8M682.5 258.6H685.5M680.8 251.1H684.0M676.9 248.8H682.4M691.1 278.9H692.8M689.3 268.3H691.9M696.2 281.9H697.9M694.5 262.6H697.1M690.6 258.3H695.8M699.6 280.1H701.3M704.8 280.5H706.5M703.1 276.0H705.6M700.5 269.5H704.3M708.2 280.4H709.9M711.6 279.4H713.3M709.0 262.0H712.5M702.4 257.2H710.8M716.8 276.7H718.5M715.0 267.7H717.6M721.9 279.5H723.6M720.2 274.7H722.8M725.3 284.9H727.0M728.8 281.2H730.5M726.2 268.9H729.6M721.5 264.1H727.9M716.3 256.5H724.7M706.6 251.9H720.5M693.2 251.5H713.5M735.6 278.2H737.3M733.9 274.0H736.5M732.2 268.8H735.2M739.0 284.0H740.7M744.2 286.5H745.9M742.5 275.2H745.0M739.9 265.5H743.7M733.7 256.9H741.8M747.6 269.0H749.3M751.0 264.4H752.7M748.5 258.9H751.9M756.2 264.9H757.9M754.5 258.0H757.0M750.2 253.0H755.7M737.7 250.2H753.0M703.4 248.6H745.4M679.7 247.3H724.4M763.0 280.2H764.7M761.3 266.7H763.9M759.6 258.1H762.6M766.4 280.8H768.2M771.6 282.0H773.3M769.9 268.0H772.4M767.3 259.7H771.2M775.0 283.4H776.7M778.4 273.7H780.2M775.9 269.1H779.3M785.3 287.6H787.0M783.6 271.0H786.1M781.9 261.3H784.9M777.6 254.3H783.4M769.2 252.6H780.5M761.1 251.7H774.9M792.1 281.6H793.9M790.4 264.9H793.0M788.7 258.4H791.7M797.3 273.8H799.0M795.6 264.3H798.1M802.4 277.1H804.1M800.7 263.2H803.3M796.9 255.2H802.0M790.2 251.4H799.4M805.9 281.4H807.6M809.3 279.3H811.0M806.7 265.7H810.1M814.4 272.1H816.1M812.7 263.0H815.3M808.4 257.1H814.0M819.6 274.1H821.3M823.0 268.7H824.7M820.4 256.1H823.8M817.8 252.6H822.1M811.2 250.3H820.0M794.8 249.0H815.6M768.0 247.7H805.2M826.4 254.0H828.1M831.6 277.2H833.3M836.7 275.4H838.4M835.0 264.5H837.5M832.4 256.4H836.3M829.8 252.2H834.3M843.5 261.9H845.3M841.8 253.7H844.4M840.1 251.7H843.1M832.1 249.2H841.6M827.3 247.5H836.9M786.6 246.7H832.1M702.0 246.3H809.3M589.8 246.1H755.7M356.3 246.1H672.7M121.2 246.0H514.5"/>
<path fill="none" stroke="#ec1496" stroke-width="1.75" d="M852.1 324.3V261.8M853.8 324.3V261.8M850.4 324.3V256.2M853.0 261.8V256.2M848.7 324.3V253.2M851.7 256.2V253.2M855.5 324.3V253.1M857.3 324.3V253.1M850.2 253.2V248.6M856.4 253.1V248.6M847.0 324.3V246.6M853.3 248.6V246.6M862.4 324.3V258.5M864.1 324.3V258.5M860.7 324.3V256.9M863.2 258.5V256.9M859.0 324.3V252.6M862.0 256.9V252.6M867.5 324.3V260.0M869.2 324.3V260.0M865.8 324.3V251.5M868.4 260.0V251.5M860.5 252.6V249.2M867.1 251.5V249.2M871.0 324.3V261.7M872.7 324.3V261.7M876.1 324.3V264.5M877.8 324.3V264.5M874.4 324.3V256.7M877.0 264.5V256.7M871.8 261.7V250.1M875.7 256.7V250.1M883.0 324.3V276.5M884.7 324.3V276.5M881.2 324.3V270.3M883.8 276.5V270.3M886.4 324.3V266.8M888.1 324.3V266.8M882.5 270.3V259.2M887.2 266.8V259.2M891.5 324.3V261.0M893.2 324.3V261.0M889.8 324.3V255.8M892.4 261.0V255.8M884.9 259.2V252.5M891.1 255.8V252.5M879.5 324.3V249.9M888.0 252.5V249.9M894.9 324.3V264.4M896.7 324.3V264.4M900.1 324.3V269.3M901.8 324.3V269.3M898.4 324.3V267.5M900.9 269.3V267.5M903.5 324.3V273.7M905.2 324.3V273.7M906.9 324.3V272.9M908.7 324.3V272.9M904.4 273.7V259.1M907.8 272.9V259.1M899.7 267.5V253.3M906.1 259.1V253.3M895.8 264.4V249.5M902.9 253.3V249.5M883.8 249.9V247.4M899.3 249.5V247.4M873.7 250.1V246.1M891.5 247.4V246.1M863.8 249.2V245.2M882.6 246.1V245.2M912.1 324.3V263.0M913.8 324.3V263.0M910.4 324.3V254.3M912.9 263.0V254.3M915.5 324.3V271.3M917.2 324.3V271.3M920.6 324.3V273.5M922.4 324.3V273.5M918.9 324.3V265.3M921.5 273.5V265.3M916.4 271.3V260.2M920.2 265.3V260.2M924.1 324.3V266.9M925.8 324.3V266.9M929.2 324.3V270.4M930.9 324.3V270.4M927.5 324.3V265.8M930.1 270.4V265.8M924.9 266.9V256.8M928.8 265.8V256.8M918.3 260.2V251.3M926.9 256.8V251.3M911.7 254.3V249.1M922.6 251.3V249.1M936.1 324.3V272.3M937.8 324.3V272.3M934.4 324.3V269.7M936.9 272.3V269.7M932.6 324.3V255.1M935.6 269.7V255.1M941.2 324.3V268.9M942.9 324.3V268.9M939.5 324.3V267.6M942.1 268.9V267.6M944.6 324.3V259.0M946.3 324.3V259.0M940.8 267.6V250.7M945.5 259.0V250.7M934.1 255.1V248.8M943.1 250.7V248.8M917.1 249.1V246.2M938.6 248.8V246.2M948.1 324.3V268.7M949.8 324.3V268.7M951.5 324.3V268.3M953.2 324.3V268.3M954.9 324.3V266.2M956.6 324.3V266.2M952.3 268.3V258.2M955.8 266.2V258.2M948.9 268.7V256.1M954.1 258.2V256.1M960.1 324.3V264.7M961.8 324.3V264.7M958.3 324.3V263.5M960.9 264.7V263.5M963.5 324.3V269.6M965.2 324.3V269.6M970.3 324.3V275.2M972.0 324.3V275.2M968.6 324.3V270.6M971.2 275.2V270.6M966.9 324.3V268.1M969.9 270.6V268.1M973.8 324.3V265.4M975.5 324.3V265.4M968.4 268.1V262.4M974.6 265.4V262.4M964.3 269.6V256.3M971.5 262.4V256.3M959.6 263.5V250.2M967.9 256.3V250.2M951.5 256.1V249.4M963.8 250.2V249.4M977.2 324.3V268.0M978.9 324.3V268.0M984.0 324.3V272.7M985.8 324.3V272.7M982.3 324.3V265.2M984.9 272.7V265.2M980.6 324.3V255.0M983.6 265.2V255.0M978.0 268.0V254.6M982.1 255.0V254.6M990.9 324.3V262.9M992.6 324.3V262.9M989.2 324.3V250.3M991.7 262.9V250.3M987.5 324.3V248.3M990.5 250.3V248.3M980.1 254.6V246.8M989.0 248.3V246.8M957.6 249.4V246.0M984.5 246.8V246.0M927.9 246.2V244.9M971.1 246.0V244.9M873.2 245.2V244.7M949.5 244.9V244.7M850.1 246.6V244.6M911.3 244.7V244.6M994.3 324.3V261.1M996.0 324.3V261.1M999.5 324.3V262.0M1001.2 324.3V262.0M1002.9 324.3V264.3M1004.6 324.3V264.3M1006.3 324.3V258.4M1008.0 324.3V258.4M1003.7 264.3V255.2M1007.2 258.4V255.2M1000.3 262.0V254.1M1005.5 255.2V254.1M997.7 324.3V249.8M1002.9 254.1V249.8M995.2 261.1V248.4M1000.3 249.8V248.4M1013.2 324.3V263.4M1014.9 324.3V263.4M1011.5 324.3V257.8M1014.0 263.4V257.8M1009.7 324.3V247.9M1012.7 257.8V247.9M997.7 248.4V245.9M1011.2 247.9V245.9M1016.6 324.3V254.5M1018.3 324.3V254.5M1020.0 324.3V256.6M1021.7 324.3V256.6M1023.4 324.3V256.0M1025.2 324.3V256.0M1026.9 324.3V263.7M1028.6 324.3V263.7M1030.3 324.3V261.6M1032.0 324.3V261.6M1027.7 263.7V254.7M1031.2 261.6V254.7M1024.3 256.0V251.0M1029.4 254.7V251.0M1020.9 256.6V249.0M1026.9 251.0V249.0M1017.4 254.5V246.4M1023.9 249.0V246.4M1035.4 324.3V253.5M1037.2 324.3V253.5M1033.7 324.3V251.7M1036.3 253.5V251.7M1040.6 324.3V255.3M1042.3 324.3V255.3M1038.9 324.3V250.0M1041.4 255.3V250.0M1035.0 251.7V248.1M1040.1 250.0V248.1M1045.7 324.3V271.7M1047.4 324.3V271.7M1044.0 324.3V260.4M1046.6 271.7V260.4M1049.1 324.3V259.8M1050.9 324.3V259.8M1045.3 260.4V253.4M1050.0 259.8V253.4M1052.6 324.3V267.3M1054.3 324.3V267.3M1057.7 324.3V274.5M1059.4 324.3V274.5M1061.1 324.3V274.0M1062.9 324.3V274.0M1058.6 274.5V265.0M1062.0 274.0V265.0M1056.0 324.3V264.0M1060.3 265.0V264.0M1053.4 267.3V256.4M1058.1 264.0V256.4M1064.6 324.3V269.2M1066.3 324.3V269.2M1068.0 324.3V269.9M1069.7 324.3V269.9M1071.4 324.3V264.2M1073.1 324.3V264.2M1068.8 269.9V254.9M1072.3 264.2V254.9M1065.4 269.2V254.4M1070.6 254.9V254.4M1055.8 256.4V248.5M1068.0 254.4V248.5M1047.6 253.4V247.7M1061.9 248.5V247.7M1037.6 248.1V245.5M1054.8 247.7V245.5M1020.7 246.4V245.1M1046.2 245.5V245.1M1004.5 245.9V244.3M1033.4 245.1V244.3M1076.6 324.3V265.9M1078.3 324.3V265.9M1074.8 324.3V257.7M1077.4 265.9V257.7M1081.7 324.3V272.4M1083.4 324.3V272.4M1085.1 324.3V275.9M1086.8 324.3V275.9M1088.6 324.3V273.2M1090.3 324.3V273.2M1086.0 275.9V266.3M1089.4 273.2V266.3M1082.6 272.4V258.8M1087.7 266.3V258.8M1080.0 324.3V252.8M1085.1 258.8V252.8M1076.1 257.7V251.4M1082.6 252.8V251.4M1092.0 324.3V258.9M1093.7 324.3V258.9M1095.4 324.3V257.5M1097.1 324.3V257.5M1092.8 258.9V250.9M1096.3 257.5V250.9M1079.3 251.4V247.5M1094.5 250.9V247.5M1098.8 324.3V252.2M1100.5 324.3V252.2M1105.7 324.3V272.6M1107.4 324.3V272.6M1104.0 324.3V258.1M1106.5 272.6V258.1M1109.1 324.3V257.2M1110.8 324.3V257.2M1105.3 258.1V253.0M1110.0 257.2V253.0M1102.3 324.3V247.6M1107.6 253.0V247.6M1099.7 252.2V247.0M1104.9 247.6V247.0M1086.9 247.5V245.4M1102.3 247.0V245.4M1114.3 324.3V269.1M1116.0 324.3V269.1M1112.5 324.3V259.3M1115.1 269.1V259.3M1119.4 324.3V263.3M1121.1 324.3V263.3M1117.7 324.3V257.9M1120.2 263.3V257.9M1113.8 259.3V252.1M1119.0 257.9V252.1M1122.8 324.3V260.6M1124.5 324.3V260.6M1128.0 324.3V264.9M1129.7 324.3V264.9M1126.2 324.3V260.8M1128.8 264.9V260.8M1131.4 324.3V267.9M1133.1 324.3V267.9M1134.8 324.3V275.5M1136.5 324.3V275.5M1140.0 324.3V271.0M1141.7 324.3V271.0M1138.2 324.3V270.1M1140.8 271.0V270.1M1135.7 275.5V262.3M1139.5 270.1V262.3M1132.2 267.9V254.0M1137.6 262.3V254.0M1127.5 260.8V252.0M1134.9 254.0V252.0M1123.7 260.6V247.8M1131.2 252.0V247.8M1116.4 252.1V247.2M1127.4 247.8V247.2M1143.4 324.3V273.4M1145.1 324.3V273.4M1146.8 324.3V274.1M1148.5 324.3V274.1M1151.9 324.3V275.0M1153.7 324.3V275.0M1150.2 324.3V270.0M1152.8 275.0V270.0M1147.7 274.1V262.6M1151.5 270.0V262.6M1144.2 273.4V261.4M1149.6 262.6V261.4M1157.1 324.3V272.1M1158.8 324.3V272.1M1155.4 324.3V265.7M1157.9 272.1V265.7M1160.5 324.3V269.5M1162.2 324.3V269.5M1165.7 324.3V276.1M1167.4 324.3V276.1M1163.9 324.3V262.2M1166.5 276.1V262.2M1161.4 269.5V257.6M1165.2 262.2V257.6M1156.7 265.7V255.6M1163.3 257.6V255.6M1146.9 261.4V251.2M1160.0 255.6V251.2M1169.1 324.3V266.0M1170.8 324.3V266.0M1174.2 324.3V276.3M1175.9 324.3V276.3M1172.5 324.3V271.4M1175.1 276.3V271.4M1177.6 324.3V268.8M1179.4 324.3V268.8M1173.8 271.4V260.3M1178.5 268.8V260.3M1169.9 266.0V250.5M1176.1 260.3V250.5M1153.4 251.2V247.1M1173.0 250.5V247.1M1121.9 247.2V245.8M1163.2 247.1V245.8M1182.8 324.3V271.9M1184.5 324.3V271.9M1181.1 324.3V260.5M1183.6 271.9V260.5M1187.9 324.3V273.8M1189.6 324.3V273.8M1186.2 324.3V259.7M1188.8 273.8V259.7M1193.1 324.3V267.2M1194.8 324.3V267.2M1196.5 324.3V264.8M1198.2 324.3V264.8M1193.9 267.2V259.5M1197.3 264.8V259.5M1191.4 324.3V253.7M1195.6 259.5V253.7M1187.5 259.7V252.7M1193.5 253.7V252.7M1182.4 260.5V248.7M1190.5 252.7V248.7M1199.9 324.3V263.2M1201.6 324.3V263.2M1203.3 324.3V261.2M1205.1 324.3V261.2M1206.8 324.3V255.5M1208.5 324.3V255.5M1204.2 261.2V252.4M1207.6 255.5V252.4M1200.8 263.2V247.3M1205.9 252.4V247.3M1213.6 324.3V274.3M1215.3 324.3V274.3M1211.9 324.3V270.8M1214.5 274.3V270.8M1210.2 324.3V266.7M1213.2 270.8V266.7M1217.1 324.3V275.7M1218.8 324.3V275.7M1220.5 324.3V268.4M1222.2 324.3V268.4M1217.9 275.7V263.9M1221.3 268.4V263.9M1211.7 266.7V257.4M1219.6 263.9V257.4M1227.3 324.3V276.7M1229.0 324.3V276.7M1225.6 324.3V275.3M1228.2 276.7V275.3M1223.9 324.3V274.6M1226.9 275.3V274.6M1232.5 324.3V265.5M1234.2 324.3V265.5M1230.8 324.3V259.6M1233.3 265.5V259.6M1225.4 274.6V255.4M1232.0 259.6V255.4M1215.7 257.4V251.6M1228.7 255.4V251.6M1239.3 324.3V260.9M1241.0 324.3V260.9M1237.6 324.3V253.8M1240.2 260.9V253.8M1235.9 324.3V249.7M1238.9 253.8V249.7M1222.2 251.6V246.3M1237.4 249.7V246.3M1203.3 247.3V245.6M1229.8 246.3V245.6M1186.4 248.7V245.3M1216.6 245.6V245.3M1142.6 245.8V244.8M1201.5 245.3V244.8M1094.6 245.4V244.5M1172.0 244.8V244.5M1242.8 324.3V255.9M1244.5 324.3V255.9M1246.2 324.3V262.1M1247.9 324.3V262.1M1251.3 324.3V271.6M1253.0 324.3V271.6M1249.6 324.3V258.3M1252.2 271.6V258.3M1247.0 262.1V254.2M1250.9 258.3V254.2M1243.6 255.9V248.9M1249.0 254.2V248.9M1254.7 324.3V257.1M1256.5 324.3V257.1M1258.2 324.3V252.3M1259.9 324.3V252.3M1255.6 257.1V248.0M1259.0 252.3V248.0M1246.3 248.9V246.9M1257.3 248.0V246.9M1263.3 324.3V273.0M1265.0 324.3V273.0M1261.6 324.3V262.8M1264.2 273.0V262.8M1266.7 324.3V267.7M1268.5 324.3V267.7M1271.9 324.3V277.0M1273.6 324.3V277.0M1270.2 324.3V274.8M1272.7 277.0V274.8M1277.0 324.3V272.0M1278.7 324.3V272.0M1275.3 324.3V271.1M1277.9 272.0V271.1M1271.4 274.8V262.7M1276.6 271.1V262.7M1267.6 267.7V257.0M1274.0 262.7V257.0M1280.4 324.3V268.5M1282.2 324.3V268.5M1283.9 324.3V266.4M1285.6 324.3V266.4M1281.3 268.5V261.5M1284.7 266.4V261.5M1290.7 324.3V270.7M1292.4 324.3V270.7M1289.0 324.3V267.1M1291.6 270.7V267.1M1287.3 324.3V258.6M1290.3 267.1V258.6M1283.0 261.5V253.6M1288.8 258.6V253.6M1270.8 257.0V251.1M1285.9 253.6V251.1M1262.9 262.8V250.6M1278.4 251.1V250.6M1294.2 324.3V251.8M1295.9 324.3V251.8M1299.3 324.3V263.8M1301.0 324.3V263.8M1304.4 324.3V266.6M1306.1 324.3V266.6M1302.7 324.3V259.9M1305.3 266.6V259.9M1300.1 263.8V250.4M1304.0 259.9V250.4M1297.6 324.3V249.3M1302.1 250.4V249.3M1295.0 251.8V246.5M1299.8 249.3V246.5M1270.6 250.6V245.7M1297.4 246.5V245.7M1251.8 246.9V244.4M1284.0 245.7V244.4M1133.3 244.5V244.2M1267.9 244.4V244.2M1019.0 244.3V244.1M1200.6 244.2V244.1M880.7 244.6V244.0M1109.8 244.1V244.0"/>
<path fill="none" stroke="#ec1496" stroke-width="1.1" d="M852.1 261.8H853.8M850.4 256.2H853.0M848.7 253.2H851.7M855.5 253.1H857.3M850.2 248.6H856.4M847.0 246.6H853.3M862.4 258.5H864.1M860.7 256.9H863.2M859.0 252.6H862.0M867.5 260.0H869.2M865.8 251.5H868.4M860.5 249.2H867.1M871.0 261.7H872.7M876.1 264.5H877.8M874.4 256.7H877.0M871.8 250.1H875.7M883.0 276.5H884.7M881.2 270.3H883.8M886.4 266.8H888.1M882.5 259.2H887.2M891.5 261.0H893.2M889.8 255.8H892.4M884.9 252.5H891.1M879.5 249.9H888.0M894.9 264.4H896.7M900.1 269.3H901.8M898.4 267.5H900.9M903.5 273.7H905.2M906.9 272.9H908.7M904.4 259.1H907.8M899.7 253.3H906.1M895.8 249.5H902.9M883.8 247.4H899.3M873.7 246.1H891.5M863.8 245.2H882.6M912.1 263.0H913.8M910.4 254.3H912.9M915.5 271.3H917.2M920.6 273.5H922.4M918.9 265.3H921.5M916.4 260.2H920.2M924.1 266.9H925.8M929.2 270.4H930.9M927.5 265.8H930.1M924.9 256.8H928.8M918.3 251.3H926.9M911.7 249.1H922.6M936.1 272.3H937.8M934.4 269.7H936.9M932.6 255.1H935.6M941.2 268.9H942.9M939.5 267.6H942.1M944.6 259.0H946.3M940.8 250.7H945.5M934.1 248.8H943.1M917.1 246.2H938.6M948.1 268.7H949.8M951.5 268.3H953.2M954.9 266.2H956.6M952.3 258.2H955.8M948.9 256.1H954.1M960.1 264.7H961.8M958.3 263.5H960.9M963.5 269.6H965.2M970.3 275.2H972.0M968.6 270.6H971.2M966.9 268.1H969.9M973.8 265.4H975.5M968.4 262.4H974.6M964.3 256.3H971.5M959.6 250.2H967.9M951.5 249.4H963.8M977.2 268.0H978.9M984.0 272.7H985.8M982.3 265.2H984.9M980.6 255.0H983.6M978.0 254.6H982.1M990.9 262.9H992.6M989.2 250.3H991.7M987.5 248.3H990.5M980.1 246.8H989.0M957.6 246.0H984.5M927.9 244.9H971.1M873.2 244.7H949.5M850.1 244.6H911.3M994.3 261.1H996.0M999.5 262.0H1001.2M1002.9 264.3H1004.6M1006.3 258.4H1008.0M1003.7 255.2H1007.2M1000.3 254.1H1005.5M997.7 249.8H1002.9M995.2 248.4H1000.3M1013.2 263.4H1014.9M1011.5 257.8H1014.0M1009.7 247.9H1012.7M997.7 245.9H1011.2M1016.6 254.5H1018.3M1020.0 256.6H1021.7M1023.4 256.0H1025.2M1026.9 263.7H1028.6M1030.3 261.6H1032.0M1027.7 254.7H1031.2M1024.3 251.0H1029.4M1020.9 249.0H1026.9M1017.4 246.4H1023.9M1035.4 253.5H1037.2M1033.7 251.7H1036.3M1040.6 255.3H1042.3M1038.9 250.0H1041.4M1035.0 248.1H1040.1M1045.7 271.7H1047.4M1044.0 260.4H1046.6M1049.1 259.8H1050.9M1045.3 253.4H1050.0M1052.6 267.3H1054.3M1057.7 274.5H1059.4M1061.1 274.0H1062.9M1058.6 265.0H1062.0M1056.0 264.0H1060.3M1053.4 256.4H1058.1M1064.6 269.2H1066.3M1068.0 269.9H1069.7M1071.4 264.2H1073.1M1068.8 254.9H1072.3M1065.4 254.4H1070.6M1055.8 248.5H1068.0M1047.6 247.7H1061.9M1037.6 245.5H1054.8M1020.7 245.1H1046.2M1004.5 244.3H1033.4M1076.6 265.9H1078.3M1074.8 257.7H1077.4M1081.7 272.4H1083.4M1085.1 275.9H1086.8M1088.6 273.2H1090.3M1086.0 266.3H1089.4M1082.6 258.8H1087.7M1080.0 252.8H1085.1M1076.1 251.4H1082.6M1092.0 258.9H1093.7M1095.4 257.5H1097.1M1092.8 250.9H1096.3M1079.3 247.5H1094.5M1098.8 252.2H1100.5M1105.7 272.6H1107.4M1104.0 258.1H1106.5M1109.1 257.2H1110.8M1105.3 253.0H1110.0M1102.3 247.6H1107.6M1099.7 247.0H1104.9M1086.9 245.4H1102.3M1114.3 269.1H1116.0M1112.5 259.3H1115.1M1119.4 263.3H1121.1M1117.7 257.9H1120.2M1113.8 252.1H1119.0M1122.8 260.6H1124.5M1128.0 264.9H1129.7M1126.2 260.8H1128.8M1131.4 267.9H1133.1M1134.8 275.5H1136.5M1140.0 271.0H1141.7M1138.2 270.1H1140.8M1135.7 262.3H1139.5M1132.2 254.0H1137.6M1127.5 252.0H1134.9M1123.7 247.8H1131.2M1116.4 247.2H1127.4M1143.4 273.4H1145.1M1146.8 274.1H1148.5M1151.9 275.0H1153.7M1150.2 270.0H1152.8M1147.7 262.6H1151.5M1144.2 261.4H1149.6M1157.1 272.1H1158.8M1155.4 265.7H1157.9M1160.5 269.5H1162.2M1165.7 276.1H1167.4M1163.9 262.2H1166.5M1161.4 257.6H1165.2M1156.7 255.6H1163.3M1146.9 251.2H1160.0M1169.1 266.0H1170.8M1174.2 276.3H1175.9M1172.5 271.4H1175.1M1177.6 268.8H1179.4M1173.8 260.3H1178.5M1169.9 250.5H1176.1M1153.4 247.1H1173.0M1121.9 245.8H1163.2M1182.8 271.9H1184.5M1181.1 260.5H1183.6M1187.9 273.8H1189.6M1186.2 259.7H1188.8M1193.1 267.2H1194.8M1196.5 264.8H1198.2M1193.9 259.5H1197.3M1191.4 253.7H1195.6M1187.5 252.7H1193.5M1182.4 248.7H1190.5M1199.9 263.2H1201.6M1203.3 261.2H1205.1M1206.8 255.5H1208.5M1204.2 252.4H1207.6M1200.8 247.3H1205.9M1213.6 274.3H1215.3M1211.9 270.8H1214.5M1210.2 266.7H1213.2M1217.1 275.7H1218.8M1220.5 268.4H1222.2M1217.9 263.9H1221.3M1211.7 257.4H1219.6M1227.3 276.7H1229.0M1225.6 275.3H1228.2M1223.9 274.6H1226.9M1232.5 265.5H1234.2M1230.8 259.6H1233.3M1225.4 255.4H1232.0M1215.7 251.6H1228.7M1239.3 260.9H1241.0M1237.6 253.8H1240.2M1235.9 249.7H1238.9M1222.2 246.3H1237.4M1203.3 245.6H1229.8M1186.4 245.3H1216.6M1142.6 244.8H1201.5M1094.6 244.5H1172.0M1242.8 255.9H1244.5M1246.2 262.1H1247.9M1251.3 271.6H1253.0M1249.6 258.3H1252.2M1247.0 254.2H1250.9M1243.6 248.9H1249.0M1254.7 257.1H1256.5M1258.2 252.3H1259.9M1255.6 248.0H1259.0M1246.3 246.9H1257.3M1263.3 273.0H1265.0M1261.6 262.8H1264.2M1266.7 267.7H1268.5M1271.9 277.0H1273.6M1270.2 274.8H1272.7M1277.0 272.0H1278.7M1275.3 271.1H1277.9M1271.4 262.7H1276.6M1267.6 257.0H1274.0M1280.4 268.5H1282.2M1283.9 266.4H1285.6M1281.3 261.5H1284.7M1290.7 270.7H1292.4M1289.0 267.1H1291.6M1287.3 258.6H1290.3M1283.0 253.6H1288.8M1270.8 251.1H1285.9M1262.9 250.6H1278.4M1294.2 251.8H1295.9M1299.3 263.8H1301.0M1304.4 266.6H1306.1M1302.7 259.9H1305.3M1300.1 250.4H1304.0M1297.6 249.3H1302.1M1295.0 246.5H1299.8M1270.6 245.7H1297.4M1251.8 244.4H1284.0M1133.3 244.2H1267.9M1019.0 244.1H1200.6M880.7 244.0H1109.8"/>
<path fill="none" stroke="#08faf0" stroke-width="1.1" d="M317.9 246.0V240.6H561"/>
<path fill="none" stroke="#ec1496" stroke-width="1.1" d="M561 240.6H995.3V244.0"/>
<path fill="none" stroke="#3f6a92" stroke-width="2" d="M9.3 324.3V239.6"/>
<path fill="none" stroke="#3d6590" stroke-width="1.1" d="M285 239.6H561"/>
<path fill="none" stroke="#6f8fae" stroke-width="1.2" d="M9.2 239.6H285"/>
<path fill="#000000" d="M8.3 330h1.19v13.2h-1.19zM10.8 330h1.90v13.2h-1.90zM24.9 330h2.02v13.2h-2.02zM28.1 330h3.80v13.2h-3.80zM33.1 330h3.80v13.2h-3.80zM40.2 330h1.52v13.2h-1.52zM51.0 330h0.89v13.2h-0.89zM58.8 330h4.05v13.2h-4.05zM65.8 330h1.90v13.2h-1.90zM68.9 330h5.95v13.2h-5.95zM80.6 330h1.01v13.2h-1.01zM85.0 330h2.91v13.2h-2.91zM90.1 330h1.90v13.2h-1.90zM97.2 330h1.90v13.2h-1.90zM105.0 330h1.90v13.2h-1.90zM129.0 330h3.80v13.2h-3.80zM137.9 330h4.05v13.2h-4.05zM148.0 330h3.80v13.2h-3.80zM155.0 330h1.90v13.2h-1.90zM161.9 330h4.05v13.2h-4.05zM186.0 330h2.15v13.2h-2.15zM202.0 330h1.01v13.2h-1.01zM208.1 330h1.90v13.2h-1.90zM227.1 330h3.80v13.2h-3.80zM245.8 330h2.15v13.2h-2.15zM250.7 330h2.02v13.2h-2.02zM291.0 330h1.90v13.2h-1.90zM296.0 330h1.90v13.2h-1.90zM301.7 330h1.27v13.2h-1.27zM314.7 330h2.15v13.2h-2.15zM318.8 330h1.01v13.2h-1.01zM323.9 330h1.90v13.2h-1.90zM328.9 330h5.06v13.2h-5.06zM335.9 330h1.90v13.2h-1.90zM338.8 330h2.15v13.2h-2.15zM349.8 330h0.89v13.2h-0.89zM352.7 330h9.11v13.2h-9.11zM365.0 330h1.90v13.2h-1.90zM373.8 330h1.27v13.2h-1.27zM381.8 330h4.05v13.2h-4.05zM387.1 330h1.90v13.2h-1.90zM398.7 330h2.02v13.2h-2.02zM402.5 330h1.27v13.2h-1.27zM409.9 330h3.16v13.2h-3.16zM445.8 330h1.27v13.2h-1.27zM465.8 330h2.15v13.2h-2.15zM480.0 330h2.15v13.2h-2.15zM492.0 330h1.90v13.2h-1.90zM512.9 330h1.27v13.2h-1.27zM523.0 330h1.90v13.2h-1.90zM536.9 330h1.27v13.2h-1.27zM539.8 330h2.15v13.2h-2.15zM543.0 330h2.15v13.2h-2.15zM552.1 330h1.90v13.2h-1.90zM556.9 330h4.05v13.2h-4.05zM563.8 330h2.78v13.2h-2.78zM568.5 330h2.53v13.2h-2.53zM572.9 330h3.16v13.2h-3.16zM578.0 330h6.96v13.2h-6.96zM587.9 330h2.78v13.2h-2.78zM595.1 330h6.96v13.2h-6.96zM603.3 330h1.52v13.2h-1.52zM606.9 330h7.84v13.2h-7.84zM617.0 330h2.15v13.2h-2.15zM620.4 330h1.27v13.2h-1.27zM624.2 330h5.06v13.2h-5.06zM634.3 330h1.64v13.2h-1.64zM645.1 330h4.93v13.2h-4.93zM650.0 330h1.90v13.2h-1.90zM655.1 330h4.81v13.2h-4.81zM662.0 330h14.93v13.2h-14.93zM679.1 330h1.90v13.2h-1.90zM681.9 330h6.07v13.2h-6.07zM689.0 330h23.02v13.2h-23.02zM713.0 330h2.15v13.2h-2.15zM725.3 330h1.90v13.2h-1.90zM732.0 330h5.06v13.2h-5.06zM738.9 330h3.16v13.2h-3.16zM744.0 330h1.90v13.2h-1.90zM748.0 330h7.97v13.2h-7.97zM758.2 330h1.90v13.2h-1.90zM765.1 330h7.84v13.2h-7.84zM776.9 330h3.16v13.2h-3.16zM781.9 330h3.16v13.2h-3.16zM787.0 330h9.99v13.2h-9.99zM799.0 330h1.90v13.2h-1.90zM801.8 330h6.07v13.2h-6.07zM811.0 330h17.08v13.2h-17.08zM833.0 330h6.07v13.2h-6.07zM840.1 330h4.05v13.2h-4.05zM859.0 330h1.90v13.2h-1.90zM870.0 330h1.01v13.2h-1.01zM1027.1 330h1.90v13.2h-1.90zM1037.6 330h1.27v13.2h-1.27zM1050.9 330h1.90v13.2h-1.90zM1067.6 330h2.28v13.2h-2.28zM1093.8 330h2.07v13.2h-2.07zM1129.7 330h2.48v13.2h-2.48zM1151.1 330h2.76v13.2h-2.76zM1196.6 330h2.07v13.2h-2.07zM1233.2 330h1.66v13.2h-1.66zM1241.5 330h1.38v13.2h-1.38zM1249.1 330h2.76v13.2h-2.76zM1256.6 330h4.14v13.2h-4.14zM1285.6 330h4.14v13.2h-4.14zM1295.3 330h2.07v13.2h-2.07zM1299.4 330h2.76v13.2h-2.76z"/>
<path fill="#8b5a2b" d="M9.5 330h1.27v13.2h-1.27zM12.7 330h2.28v13.2h-2.28zM20.9 330h4.05v13.2h-4.05zM26.9 330h1.14v13.2h-1.14zM31.9 330h1.27v13.2h-1.27zM36.9 330h1.90v13.2h-1.90zM41.7 330h9.23v13.2h-9.23zM51.9 330h1.90v13.2h-1.90zM55.9 330h2.91v13.2h-2.91zM62.9 330h2.91v13.2h-2.91zM67.7 330h1.27v13.2h-1.27zM74.9 330h5.69v13.2h-5.69zM81.6 330h3.42v13.2h-3.42zM87.9 330h2.15v13.2h-2.15zM92.0 330h5.19v13.2h-5.19zM99.1 330h0.89v13.2h-0.89zM102.2 330h2.78v13.2h-2.78zM109.0 330h1.90v13.2h-1.90zM118.9 330h2.15v13.2h-2.15zM125.9 330h3.16v13.2h-3.16zM135.1 330h2.78v13.2h-2.78zM141.9 330h6.07v13.2h-6.07zM151.8 330h3.16v13.2h-3.16zM156.9 330h5.06v13.2h-5.06zM166.0 330h2.91v13.2h-2.91zM171.0 330h2.91v13.2h-2.91zM190.0 330h5.44v13.2h-5.44zM196.3 330h5.69v13.2h-5.69zM211.9 330h2.15v13.2h-2.15zM217.0 330h1.90v13.2h-1.90zM220.1 330h1.90v13.2h-1.90zM226.4 330h0.63v13.2h-0.63zM239.1 330h1.90v13.2h-1.90zM244.2 330h1.64v13.2h-1.64zM248.0 330h2.78v13.2h-2.78zM252.8 330h0.89v13.2h-0.89zM254.9 330h0.89v13.2h-0.89zM260.0 330h2.91v13.2h-2.91zM265.0 330h8.86v13.2h-8.86zM276.0 330h1.64v13.2h-1.64zM278.9 330h8.86v13.2h-8.86zM292.9 330h3.16v13.2h-3.16zM297.9 330h3.80v13.2h-3.80zM303.0 330h5.06v13.2h-5.06zM309.9 330h4.81v13.2h-4.81zM319.8 330h4.05v13.2h-4.05zM325.7 330h3.16v13.2h-3.16zM334.0 330h1.90v13.2h-1.90zM337.8 330h1.01v13.2h-1.01zM344.1 330h1.90v13.2h-1.90zM361.8 330h3.16v13.2h-3.16zM370.0 330h3.80v13.2h-3.80zM375.1 330h6.70v13.2h-6.70zM385.8 330h1.27v13.2h-1.27zM389.0 330h1.90v13.2h-1.90zM392.2 330h3.80v13.2h-3.80zM400.8 330h1.77v13.2h-1.77zM413.0 330h0.89v13.2h-0.89zM415.6 330h1.90v13.2h-1.90zM419.4 330h3.80v13.2h-3.80zM438.9 330h5.06v13.2h-5.06zM447.1 330h1.64v13.2h-1.64zM450.9 330h3.16v13.2h-3.16zM461.0 330h4.81v13.2h-4.81zM471.1 330h8.86v13.2h-8.86zM486.9 330h1.90v13.2h-1.90zM493.9 330h6.96v13.2h-6.96zM511.0 330h1.90v13.2h-1.90zM519.2 330h1.90v13.2h-1.90zM524.9 330h0.63v13.2h-0.63zM530.9 330h4.05v13.2h-4.05zM538.2 330h1.64v13.2h-1.64zM542.0 330h1.01v13.2h-1.01zM545.1 330h6.96v13.2h-6.96zM554.0 330h2.91v13.2h-2.91zM562.2 330h1.64v13.2h-1.64zM566.6 330h1.90v13.2h-1.90zM571.0 330h1.90v13.2h-1.90zM576.1 330h1.90v13.2h-1.90zM585.0 330h2.91v13.2h-2.91zM590.7 330h4.43v13.2h-4.43zM602.0 330h1.27v13.2h-1.27zM604.8 330h2.02v13.2h-2.02zM614.7 330h2.28v13.2h-2.28zM619.1 330h1.27v13.2h-1.27zM621.7 330h2.53v13.2h-2.53zM629.2 330h5.06v13.2h-5.06zM635.9 330h1.52v13.2h-1.52zM640.0 330h5.06v13.2h-5.06zM651.9 330h3.16v13.2h-3.16zM659.9 330h2.15v13.2h-2.15zM676.9 330h2.15v13.2h-2.15zM681.0 330h0.89v13.2h-0.89zM688.0 330h1.01v13.2h-1.01zM712.0 330h1.01v13.2h-1.01zM715.1 330h10.12v13.2h-10.12zM727.2 330h4.81v13.2h-4.81zM737.0 330h1.90v13.2h-1.90zM742.1 330h1.90v13.2h-1.90zM745.9 330h2.15v13.2h-2.15zM756.0 330h2.15v13.2h-2.15zM760.1 330h5.06v13.2h-5.06zM773.0 330h3.92v13.2h-3.92zM780.0 330h1.90v13.2h-1.90zM785.1 330h1.90v13.2h-1.90zM797.0 330h2.02v13.2h-2.02zM800.9 330h0.89v13.2h-0.89zM807.9 330h3.16v13.2h-3.16zM828.1 330h4.93v13.2h-4.93zM839.1 330h1.01v13.2h-1.01zM844.2 330h0.89v13.2h-0.89zM851.1 330h0.63v13.2h-0.63zM856.2 330h2.78v13.2h-2.78zM860.9 330h6.96v13.2h-6.96zM871.0 330h1.77v13.2h-1.77zM875.1 330h2.78v13.2h-2.78zM887.1 330h5.06v13.2h-5.06zM900.0 330h1.90v13.2h-1.90zM905.0 330h1.90v13.2h-1.90zM940.2 330h0.89v13.2h-0.89zM955.0 330h5.06v13.2h-5.06zM976.0 330h0.89v13.2h-0.89zM1005.1 330h1.90v13.2h-1.90zM1017.0 330h1.64v13.2h-1.64zM1020.2 330h1.64v13.2h-1.64zM1031.9 330h1.90v13.2h-1.90zM1036.0 330h1.64v13.2h-1.64zM1038.9 330h1.64v13.2h-1.64zM1062.9 330h1.90v13.2h-1.90zM1086.2 330h0.97v13.2h-0.97zM1097.9 330h1.10v13.2h-1.10zM1121.4 330h1.38v13.2h-1.38zM1146.9 330h4.14v13.2h-4.14zM1160.7 330h2.07v13.2h-2.07zM1178.0 330h1.66v13.2h-1.66zM1184.9 330h2.76v13.2h-2.76zM1191.8 330h4.83v13.2h-4.83zM1198.7 330h3.45v13.2h-3.45zM1207.0 330h1.38v13.2h-1.38zM1210.4 330h2.76v13.2h-2.76zM1218.0 330h1.38v13.2h-1.38zM1222.1 330h1.38v13.2h-1.38zM1230.4 330h2.76v13.2h-2.76zM1251.8 330h4.83v13.2h-4.83zM1260.8 330h2.76v13.2h-2.76zM1265.6 330h1.38v13.2h-1.38zM1278.0 330h7.59v13.2h-7.59zM1289.8 330h1.38v13.2h-1.38zM1293.2 330h2.07v13.2h-2.07zM1302.2 330h1.38v13.2h-1.38z"/>
<path fill="#ff00ff" d="M14.9 330h5.95v13.2h-5.95zM38.8 330h1.39v13.2h-1.39zM53.8 330h2.15v13.2h-2.15zM99.9 330h2.28v13.2h-2.28zM106.9 330h2.15v13.2h-2.15zM110.9 330h7.97v13.2h-7.97zM121.1 330h4.81v13.2h-4.81zM132.8 330h2.28v13.2h-2.28zM168.9 330h2.15v13.2h-2.15zM173.9 330h12.02v13.2h-12.02zM188.1 330h1.90v13.2h-1.90zM195.4 330h0.89v13.2h-0.89zM203.0 330h5.06v13.2h-5.06zM210.0 330h0.01v13.2h-0.01zM210.0 330h1.90v13.2h-1.90zM214.0 330h2.91v13.2h-2.91zM218.9 330h1.27v13.2h-1.27zM222.0 330h4.43v13.2h-4.43zM230.9 330h8.22v13.2h-8.22zM241.0 330h3.16v13.2h-3.16zM253.6 330h1.27v13.2h-1.27zM255.8 330h4.17v13.2h-4.17zM262.9 330h2.15v13.2h-2.15zM273.9 330h2.15v13.2h-2.15zM287.8 330h3.16v13.2h-3.16zM308.0 330h1.90v13.2h-1.90zM316.9 330h1.90v13.2h-1.90zM340.9 330h3.16v13.2h-3.16zM346.0 330h3.80v13.2h-3.80zM350.7 330h2.02v13.2h-2.02zM366.9 330h3.16v13.2h-3.16zM390.9 330h1.27v13.2h-1.27zM396.0 330h2.78v13.2h-2.78zM403.8 330h6.07v13.2h-6.07zM413.9 330h1.64v13.2h-1.64zM417.5 330h1.90v13.2h-1.90zM423.2 330h6.83v13.2h-6.83zM430.0 330h8.86v13.2h-8.86zM443.9 330h1.90v13.2h-1.90zM448.7 330h2.15v13.2h-2.15zM454.0 330h6.96v13.2h-6.96zM468.0 330h3.16v13.2h-3.16zM482.1 330h4.81v13.2h-4.81zM488.8 330h3.16v13.2h-3.16zM500.8 330h10.12v13.2h-10.12zM514.1 330h1.90v13.2h-1.90zM517.9 330h1.27v13.2h-1.27zM521.1 330h1.90v13.2h-1.90zM525.5 330h5.44v13.2h-5.44zM535.0 330h1.90v13.2h-1.90zM560.9 330h1.27v13.2h-1.27zM637.5 330h2.53v13.2h-2.53zM847.0 330h2.02v13.2h-2.02zM851.8 330h4.43v13.2h-4.43zM867.8 330h2.15v13.2h-2.15zM872.8 330h2.28v13.2h-2.28zM877.8 330h9.23v13.2h-9.23zM892.1 330h0.89v13.2h-0.89zM894.9 330h4.17v13.2h-4.17zM901.9 330h3.16v13.2h-3.16zM906.9 330h8.86v13.2h-8.86zM917.1 330h1.01v13.2h-1.01zM919.1 330h4.05v13.2h-4.05zM924.1 330h4.05v13.2h-4.05zM928.8 330h6.33v13.2h-6.33zM936.0 330h4.17v13.2h-4.17zM947.8 330h5.31v13.2h-5.31zM960.1 330h7.08v13.2h-7.08zM971.2 330h0.76v13.2h-0.76zM983.0 330h3.04v13.2h-3.04zM995.9 330h6.07v13.2h-6.07zM1007.0 330h1.14v13.2h-1.14zM1011.9 330h5.06v13.2h-5.06zM1018.6 330h1.52v13.2h-1.52zM1021.8 330h5.31v13.2h-5.31zM1029.0 330h2.91v13.2h-2.91zM1033.8 330h2.15v13.2h-2.15zM1040.5 330h3.42v13.2h-3.42zM1045.8 330h5.06v13.2h-5.06zM1052.8 330h3.16v13.2h-3.16zM1057.9 330h1.27v13.2h-1.27zM1060.0 330h2.91v13.2h-2.91zM1064.8 330h2.78v13.2h-2.78zM1069.9 330h1.90v13.2h-1.90zM1073.7 330h6.33v13.2h-6.33zM1080.0 330h6.21v13.2h-6.21zM1087.2 330h4.55v13.2h-4.55zM1095.9 330h2.07v13.2h-2.07zM1099.0 330h3.73v13.2h-3.73zM1105.5 330h5.52v13.2h-5.52zM1112.4 330h7.59v13.2h-7.59zM1122.8 330h2.07v13.2h-2.07zM1127.6 330h2.07v13.2h-2.07zM1132.2 330h1.66v13.2h-1.66zM1136.6 330h3.45v13.2h-3.45zM1141.4 330h2.76v13.2h-2.76zM1153.8 330h6.90v13.2h-6.90zM1162.8 330h15.18v13.2h-15.18zM1179.6 330h5.24v13.2h-5.24zM1187.6 330h4.14v13.2h-4.14zM1202.1 330h4.83v13.2h-4.83zM1208.3 330h2.07v13.2h-2.07zM1215.2 330h2.76v13.2h-2.76zM1219.4 330h2.76v13.2h-2.76zM1223.5 330h2.76v13.2h-2.76zM1227.7 330h2.76v13.2h-2.76zM1236.6 330h4.83v13.2h-4.83zM1242.8 330h6.21v13.2h-6.21zM1263.5 330h2.07v13.2h-2.07zM1267.0 330h11.04v13.2h-11.04zM1305.0 330h2.05v13.2h-2.05z"/>
<path fill="#87cefa" d="M277.7 330h1.27v13.2h-1.27zM516.0 330h1.90v13.2h-1.90zM845.1 330h1.90v13.2h-1.90zM849.0 330h2.15v13.2h-2.15zM893.0 330h1.90v13.2h-1.90zM899.1 330h0.89v13.2h-0.89zM915.8 330h1.27v13.2h-1.27zM918.1 330h1.01v13.2h-1.01zM923.1 330h1.01v13.2h-1.01zM928.2 330h0.63v13.2h-0.63zM935.1 330h0.89v13.2h-0.89zM941.1 330h6.70v13.2h-6.70zM953.1 330h1.90v13.2h-1.90zM967.2 330h4.05v13.2h-4.05zM972.0 330h4.05v13.2h-4.05zM976.9 330h6.07v13.2h-6.07zM986.0 330h9.87v13.2h-9.87zM1001.9 330h3.16v13.2h-3.16zM1008.1 330h3.80v13.2h-3.80zM1043.9 330h1.90v13.2h-1.90zM1056.0 330h1.90v13.2h-1.90zM1059.1 330h0.89v13.2h-0.89zM1071.8 330h1.90v13.2h-1.90zM1091.7 330h2.07v13.2h-2.07zM1102.8 330h2.76v13.2h-2.76zM1111.1 330h1.38v13.2h-1.38zM1120.0 330h1.38v13.2h-1.38zM1124.9 330h2.76v13.2h-2.76zM1133.8 330h2.76v13.2h-2.76zM1140.0 330h1.38v13.2h-1.38zM1144.2 330h2.76v13.2h-2.76zM1213.2 330h2.07v13.2h-2.07zM1226.3 330h1.38v13.2h-1.38zM1234.8 330h1.79v13.2h-1.79zM1291.2 330h2.07v13.2h-2.07zM1297.4 330h2.07v13.2h-2.07zM1303.6 330h1.38v13.2h-1.38z"/>
<rect x="8.30" y="348.20" width="1298.70" height="13.70" fill="#191970"/>
<path fill="#ffa54f" d="M8.2 348.2h0.90v13.7h-0.90zM11.1 348.2h3.80v13.7h-3.80zM24.9 348.2h2.90v13.7h-2.90zM42.1 348.2h1.80v13.7h-1.80zM57.2 348.2h1.60v13.7h-1.60zM92.0 348.2h1.20v13.7h-1.20zM102.2 348.2h2.80v13.7h-2.80zM109.0 348.2h2.00v13.7h-2.00zM115.7 348.2h1.30v13.7h-1.30zM138.1 348.2h1.90v13.7h-1.90zM152.4 348.2h1.20v13.7h-1.20zM162.2 348.2h1.60v13.7h-1.60zM172.0 348.2h2.00v13.7h-2.00zM191.0 348.2h2.00v13.7h-2.00zM248.0 348.2h1.70v13.7h-1.70zM279.4 348.2h1.60v13.7h-1.60zM301.4 348.2h1.60v13.7h-1.60zM336.4 348.2h1.60v13.7h-1.60zM476.7 348.2h1.70v13.7h-1.70zM511.7 348.2h1.70v13.7h-1.70zM537.0 348.2h1.70v13.7h-1.70zM540.4 348.2h1.60v13.7h-1.60zM545.4 348.2h1.60v13.7h-1.60zM554.0 348.2h1.60v13.7h-1.60zM583.4 348.2h1.60v13.7h-1.60zM603.4 348.2h1.60v13.7h-1.60zM766.4 348.2h3.80v13.7h-3.80zM781.6 348.2h2.40v13.7h-2.40zM799.3 348.2h1.70v13.7h-1.70zM823.0 348.2h2.00v13.7h-2.00zM839.0 348.2h1.50v13.7h-1.50zM849.4 348.2h3.00v13.7h-3.00zM855.5 348.2h1.50v13.7h-1.50zM860.0 348.2h1.50v13.7h-1.50zM866.3 348.2h1.70v13.7h-1.70zM881.5 348.2h1.50v13.7h-1.50zM887.3 348.2h2.30v13.7h-2.30zM902.3 348.2h2.50v13.7h-2.50zM910.6 348.2h2.40v13.7h-2.40zM920.7 348.2h1.80v13.7h-1.80zM930.9 348.2h1.40v13.7h-1.40zM934.0 348.2h1.60v13.7h-1.60zM955.0 348.2h5.00v13.7h-5.00zM962.0 348.2h1.80v13.7h-1.80zM977.7 348.2h2.50v13.7h-2.50zM989.0 348.2h1.50v13.7h-1.50zM994.9 348.2h5.60v13.7h-5.60zM1005.5 348.2h3.30v13.7h-3.30zM1026.5 348.2h2.30v13.7h-2.30zM1046.0 348.2h2.50v13.7h-2.50zM1054.3 348.2h1.60v13.7h-1.60zM1130.0 348.2h3.80v13.7h-3.80zM1147.2 348.2h4.60v13.7h-4.60zM1158.0 348.2h2.70v13.7h-2.70zM1168.0 348.2h2.00v13.7h-2.00zM1178.3 348.2h3.50v13.7h-3.50zM1194.0 348.2h1.60v13.7h-1.60zM1199.0 348.2h5.20v13.7h-5.20zM1206.0 348.2h1.50v13.7h-1.50zM1213.9 348.2h2.10v13.7h-2.10zM1225.0 348.2h1.50v13.7h-1.50zM1229.7 348.2h1.50v13.7h-1.50zM1256.6 348.2h2.40v13.7h-2.40zM1287.7 348.2h1.50v13.7h-1.50zM1290.0 348.2h5.00v13.7h-5.00zM1297.0 348.2h6.00v13.7h-6.00zM1304.7 348.2h2.30v13.7h-2.30z"/>
<rect x="8.30" y="369.00" width="1298.70" height="1061.00" fill="#4575B4"/>
<defs><filter id="hb" x="0" y="0" width="1" height="1"><feGaussianBlur stdDeviation="0.6 0"/></filter></defs>
<g filter="url(#hb)">
<path fill="#4e7eb9" d="M434.9 369.0h1.71v40.8h-1.71zM936.9 369.0h1.71v40.8h-1.71zM1070.6 369.0h1.71v40.8h-1.71zM1199.1 369.0h1.71v40.8h-1.71zM414.4 409.8h1.71v40.8h-1.71zM1183.6 409.8h1.71v40.8h-1.71zM285.9 450.6h1.71v40.8h-1.71zM321.8 450.6h1.71v40.8h-1.71zM489.7 450.6h1.71v40.8h-1.71zM602.8 450.6h1.71v40.8h-1.71zM681.6 450.6h1.71v40.8h-1.71zM705.6 450.6h1.71v40.8h-1.71zM834.1 450.6h1.71v40.8h-1.71zM1043.1 450.6h1.71v40.8h-1.71zM100.8 491.4h1.71v40.8h-1.71zM347.5 491.4h1.71v40.8h-1.71zM143.7 532.2h1.71v40.8h-1.71zM160.8 532.2h1.71v40.8h-1.71zM176.2 532.2h1.71v40.8h-1.71zM251.6 532.2h1.71v40.8h-1.71zM306.4 532.2h1.71v40.8h-1.71zM330.4 532.2h1.71v40.8h-1.71zM361.2 532.2h1.71v40.8h-1.71zM369.8 532.2h1.71v40.8h-1.71zM392.1 532.2h1.71v40.8h-1.71zM534.3 532.2h1.71v40.8h-1.71zM548.0 532.2h1.71v40.8h-1.71zM594.3 532.2h1.71v40.8h-1.71zM611.4 532.2h1.71v40.8h-1.71zM621.7 532.2h1.71v40.8h-1.71zM769.0 532.2h1.71v40.8h-1.71zM825.6 532.2h1.71v40.8h-1.71zM49.4 573.0h1.71v40.8h-1.71zM27.1 613.8h1.71v40.8h-1.71zM123.1 613.8h1.71v40.8h-1.71zM827.3 613.8h1.71v40.8h-1.71zM830.7 613.8h1.71v40.8h-1.71zM842.7 613.8h1.71v40.8h-1.71zM858.1 613.8h1.71v40.8h-1.71zM883.8 613.8h1.71v40.8h-1.71zM1176.8 613.8h1.71v40.8h-1.71zM529.2 654.6h1.71v40.8h-1.71zM1019.2 654.6h1.71v40.8h-1.71zM1027.7 654.6h1.71v40.8h-1.71zM1195.6 654.6h1.71v40.8h-1.71zM169.4 695.4h1.71v40.8h-1.71zM1154.5 695.4h1.71v40.8h-1.71zM39.1 736.2h1.71v40.8h-1.71zM59.7 736.2h1.71v40.8h-1.71zM141.9 736.2h1.71v40.8h-1.71zM325.3 736.2h1.71v40.8h-1.71zM500.0 736.2h1.71v40.8h-1.71zM1056.9 736.2h1.71v40.8h-1.71zM1228.2 736.2h1.71v40.8h-1.71zM1240.2 736.2h1.71v40.8h-1.71zM1245.3 736.2h1.71v40.8h-1.71zM131.7 777.0h1.71v40.8h-1.71zM169.4 777.0h1.71v40.8h-1.71zM195.1 777.0h1.71v40.8h-1.71zM203.6 777.0h1.71v40.8h-1.71zM280.7 777.0h1.71v40.8h-1.71zM291.0 777.0h1.71v40.8h-1.71zM316.7 777.0h1.71v40.8h-1.71zM325.3 777.0h1.71v40.8h-1.71zM363.0 777.0h1.71v40.8h-1.71zM390.4 777.0h1.71v40.8h-1.71zM474.3 777.0h1.71v40.8h-1.71zM520.6 777.0h1.71v40.8h-1.71zM655.9 777.0h1.71v40.8h-1.71zM870.1 777.0h1.71v40.8h-1.71zM888.9 777.0h1.71v40.8h-1.71zM911.2 777.0h1.71v40.8h-1.71zM918.1 777.0h1.71v40.8h-1.71zM972.9 777.0h1.71v40.8h-1.71zM1096.3 777.0h1.71v40.8h-1.71zM1128.8 777.0h1.71v40.8h-1.71zM1161.4 777.0h1.71v40.8h-1.71zM1200.8 777.0h1.71v40.8h-1.71zM39.1 817.8h1.71v40.8h-1.71zM46.0 817.8h1.71v40.8h-1.71zM82.0 817.8h1.71v40.8h-1.71zM118.0 817.8h1.71v40.8h-1.71zM153.9 817.8h1.71v40.8h-1.71zM183.1 817.8h1.71v40.8h-1.71zM207.0 817.8h1.71v40.8h-1.71zM239.6 817.8h1.71v40.8h-1.71zM316.7 817.8h1.71v40.8h-1.71zM327.0 817.8h1.71v40.8h-1.71zM330.4 817.8h1.71v40.8h-1.71zM548.0 817.8h1.71v40.8h-1.71zM551.4 817.8h1.71v40.8h-1.71zM573.7 817.8h1.71v40.8h-1.71zM596.0 817.8h1.71v40.8h-1.71zM614.8 817.8h1.71v40.8h-1.71zM650.8 817.8h1.71v40.8h-1.71zM719.3 817.8h1.71v40.8h-1.71zM34.0 858.6h1.71v40.8h-1.71zM40.9 858.6h1.71v40.8h-1.71zM51.1 858.6h1.71v40.8h-1.71zM1152.8 899.4h1.71v40.8h-1.71zM373.2 940.2h1.71v40.8h-1.71zM438.3 940.2h1.71v40.8h-1.71zM493.2 940.2h1.71v40.8h-1.71zM496.6 940.2h1.71v40.8h-1.71zM596.0 940.2h1.71v40.8h-1.71zM688.5 940.2h1.71v40.8h-1.71zM1055.1 940.2h1.71v40.8h-1.71zM90.5 981.0h1.71v40.8h-1.71zM141.9 981.0h1.71v40.8h-1.71zM148.8 981.0h1.71v40.8h-1.71zM376.7 981.0h1.71v40.8h-1.71zM380.1 981.0h1.71v40.8h-1.71zM572.0 981.0h1.71v40.8h-1.71zM575.4 981.0h1.71v40.8h-1.71zM621.7 981.0h1.71v40.8h-1.71zM683.3 981.0h1.71v40.8h-1.71zM727.9 981.0h1.71v40.8h-1.71zM731.3 981.0h1.71v40.8h-1.71zM751.9 981.0h1.71v40.8h-1.71zM763.9 981.0h1.71v40.8h-1.71zM46.0 1021.8h1.71v40.8h-1.71zM220.8 1021.8h1.71v40.8h-1.71zM237.9 1021.8h1.71v40.8h-1.71zM255.0 1021.8h1.71v40.8h-1.71zM258.4 1021.8h1.71v40.8h-1.71zM287.6 1021.8h1.71v40.8h-1.71zM316.7 1021.8h1.71v40.8h-1.71zM325.3 1021.8h1.71v40.8h-1.71zM352.7 1021.8h1.71v40.8h-1.71zM587.4 1021.8h1.71v40.8h-1.71zM638.8 1021.8h1.71v40.8h-1.71zM705.6 1021.8h1.71v40.8h-1.71zM818.7 1021.8h1.71v40.8h-1.71zM1091.1 1021.8h1.71v40.8h-1.71zM32.3 1062.6h3.43v40.8h-3.43zM189.9 1062.6h1.71v40.8h-1.71zM404.1 1062.6h1.71v40.8h-1.71zM416.1 1062.6h1.71v40.8h-1.71zM453.8 1062.6h1.71v40.8h-1.71zM657.6 1062.6h1.71v40.8h-1.71zM664.5 1062.6h1.71v40.8h-1.71zM719.3 1062.6h1.71v40.8h-1.71zM727.9 1062.6h1.71v40.8h-1.71zM739.9 1062.6h1.71v40.8h-1.71zM775.9 1062.6h1.71v40.8h-1.71zM825.6 1062.6h1.71v40.8h-1.71zM1248.7 1062.6h1.71v40.8h-1.71zM1267.6 1062.6h1.71v40.8h-1.71zM76.8 1103.4h1.71v40.8h-1.71zM153.9 1103.4h1.71v40.8h-1.71zM159.1 1103.4h1.71v40.8h-1.71zM179.6 1103.4h1.71v40.8h-1.71zM183.1 1103.4h1.71v40.8h-1.71zM188.2 1103.4h1.71v40.8h-1.71zM220.8 1103.4h1.71v40.8h-1.71zM261.9 1103.4h1.71v40.8h-1.71zM332.1 1103.4h1.71v40.8h-1.71zM340.7 1103.4h1.71v40.8h-1.71zM368.1 1103.4h5.14v40.8h-5.14zM397.2 1103.4h1.71v40.8h-1.71zM404.1 1103.4h1.71v40.8h-1.71zM419.5 1103.4h1.71v40.8h-1.71zM440.1 1103.4h1.71v40.8h-1.71zM445.2 1103.4h1.71v40.8h-1.71zM464.0 1103.4h1.71v40.8h-1.71zM472.6 1103.4h1.71v40.8h-1.71zM643.9 1103.4h1.71v40.8h-1.71zM738.2 1103.4h1.71v40.8h-1.71zM748.5 1103.4h1.71v40.8h-1.71zM1279.6 1103.4h1.71v40.8h-1.71zM15.2 1144.2h1.71v40.8h-1.71zM59.7 1144.2h1.71v40.8h-1.71zM104.2 1144.2h1.71v40.8h-1.71zM241.3 1144.2h1.71v40.8h-1.71zM315.0 1144.2h1.71v40.8h-1.71zM325.3 1144.2h1.71v40.8h-1.71zM489.7 1144.2h1.71v40.8h-1.71zM518.9 1144.2h1.71v40.8h-1.71zM527.4 1144.2h1.71v40.8h-1.71zM582.3 1144.2h1.71v40.8h-1.71zM592.5 1144.2h1.71v40.8h-1.71zM614.8 1144.2h1.71v40.8h-1.71zM676.5 1144.2h1.71v40.8h-1.71zM722.8 1144.2h3.43v40.8h-3.43zM741.6 1144.2h1.71v40.8h-1.71zM1075.7 1144.2h1.71v40.8h-1.71zM71.7 1185.0h1.71v40.8h-1.71zM138.5 1185.0h1.71v40.8h-1.71zM155.6 1185.0h1.71v40.8h-1.71zM195.1 1185.0h1.71v40.8h-1.71zM280.7 1185.0h1.71v40.8h-1.71zM404.1 1185.0h1.71v40.8h-1.71zM433.2 1185.0h1.71v40.8h-1.71zM440.1 1185.0h1.71v40.8h-1.71zM613.1 1185.0h1.71v40.8h-1.71zM635.4 1185.0h1.71v40.8h-1.71zM650.8 1185.0h1.71v40.8h-1.71zM710.8 1185.0h1.71v40.8h-1.71zM734.7 1185.0h1.71v40.8h-1.71zM755.3 1185.0h1.71v40.8h-1.71zM960.9 1185.0h1.71v40.8h-1.71zM967.8 1185.0h1.71v40.8h-1.71zM1164.8 1185.0h1.71v40.8h-1.71zM1197.3 1185.0h1.71v40.8h-1.71zM200.2 1225.8h1.71v40.8h-1.71zM225.9 1225.8h1.71v40.8h-1.71zM323.6 1225.8h1.71v40.8h-1.71zM345.8 1225.8h1.71v40.8h-1.71zM376.7 1225.8h1.71v40.8h-1.71zM655.9 1225.8h1.71v40.8h-1.71zM669.6 1225.8h1.71v40.8h-1.71zM42.6 1266.6h1.71v40.8h-1.71zM58.0 1266.6h1.71v40.8h-1.71zM71.7 1266.6h1.71v40.8h-1.71zM681.6 1307.4h1.71v40.8h-1.71zM733.0 1307.4h1.71v40.8h-1.71zM823.8 1307.4h1.71v40.8h-1.71zM827.3 1307.4h1.71v40.8h-1.71zM220.8 1348.2h1.71v40.8h-1.71zM231.0 1348.2h1.71v40.8h-1.71zM239.6 1348.2h1.71v40.8h-1.71zM244.7 1348.2h1.71v40.8h-1.71zM311.6 1348.2h1.71v40.8h-1.71zM352.7 1348.2h1.71v40.8h-1.71zM375.0 1348.2h1.71v40.8h-1.71zM380.1 1348.2h1.71v40.8h-1.71zM386.9 1348.2h1.71v40.8h-1.71zM431.5 1348.2h1.71v40.8h-1.71zM450.3 1348.2h1.71v40.8h-1.71zM455.5 1348.2h1.71v40.8h-1.71zM481.2 1348.2h1.71v40.8h-1.71zM484.6 1348.2h1.71v40.8h-1.71zM522.3 1348.2h1.71v40.8h-1.71zM544.6 1348.2h1.71v40.8h-1.71zM556.6 1348.2h1.71v40.8h-1.71zM587.4 1348.2h1.71v40.8h-1.71zM633.7 1348.2h1.71v40.8h-1.71zM652.5 1348.2h1.71v40.8h-1.71zM688.5 1348.2h1.71v40.8h-1.71zM717.6 1348.2h1.71v40.8h-1.71zM729.6 1348.2h1.71v40.8h-1.71zM781.0 1348.2h1.71v40.8h-1.71zM789.6 1348.2h1.71v40.8h-1.71zM1034.6 1348.2h1.71v40.8h-1.71zM1135.7 1348.2h1.71v40.8h-1.71zM1152.8 1348.2h1.71v40.8h-1.71zM37.4 1389.0h1.71v40.8h-1.71zM80.3 1389.0h1.71v40.8h-1.71zM90.5 1389.0h1.71v40.8h-1.71zM123.1 1389.0h1.71v40.8h-1.71zM145.4 1389.0h1.71v40.8h-1.71zM148.8 1389.0h1.71v40.8h-1.71zM272.2 1389.0h1.71v40.8h-1.71zM277.3 1389.0h1.71v40.8h-1.71zM280.7 1389.0h1.71v40.8h-1.71zM285.9 1389.0h1.71v40.8h-1.71zM311.6 1389.0h1.71v40.8h-1.71zM332.1 1389.0h1.71v40.8h-1.71zM344.1 1389.0h1.71v40.8h-1.71zM371.5 1389.0h1.71v40.8h-1.71zM410.9 1389.0h1.71v40.8h-1.71zM434.9 1389.0h1.71v40.8h-1.71zM440.1 1389.0h3.43v40.8h-3.43zM450.3 1389.0h1.71v40.8h-1.71zM479.5 1389.0h1.71v40.8h-1.71zM510.3 1389.0h1.71v40.8h-1.71zM553.1 1389.0h1.71v40.8h-1.71zM688.5 1389.0h1.71v40.8h-1.71zM782.7 1389.0h1.71v40.8h-1.71zM789.6 1389.0h1.71v40.8h-1.71zM871.8 1389.0h1.71v40.8h-1.71zM890.7 1389.0h1.71v40.8h-1.71zM947.2 1389.0h1.71v40.8h-1.71zM995.2 1389.0h1.71v40.8h-1.71zM1068.8 1389.0h1.71v40.8h-1.71zM1157.9 1389.0h1.71v40.8h-1.71zM1193.9 1389.0h1.71v40.8h-1.71zM1295.0 1389.0h1.71v40.8h-1.71z"/>
<path fill="#5382bb" d="M1120.2 369.0h1.71v40.8h-1.71zM1149.4 369.0h1.71v40.8h-1.71zM1200.8 369.0h1.71v40.8h-1.71zM51.1 409.8h1.71v40.8h-1.71zM133.4 409.8h1.71v40.8h-1.71zM189.9 409.8h1.71v40.8h-1.71zM390.4 409.8h1.71v40.8h-1.71zM467.5 409.8h1.71v40.8h-1.71zM525.7 409.8h1.71v40.8h-1.71zM1173.4 409.8h1.71v40.8h-1.71zM30.6 450.6h1.71v40.8h-1.71zM106.0 450.6h1.71v40.8h-1.71zM318.4 450.6h1.71v40.8h-1.71zM416.1 450.6h1.71v40.8h-1.71zM642.2 450.6h1.71v40.8h-1.71zM1039.7 450.6h1.71v40.8h-1.71zM25.4 491.4h1.71v40.8h-1.71zM215.6 491.4h1.71v40.8h-1.71zM325.3 491.4h1.71v40.8h-1.71zM97.4 532.2h1.71v40.8h-1.71zM107.7 532.2h1.71v40.8h-1.71zM140.2 532.2h1.71v40.8h-1.71zM256.7 532.2h1.71v40.8h-1.71zM303.0 532.2h1.71v40.8h-1.71zM364.7 532.2h3.43v40.8h-3.43zM536.0 532.2h1.71v40.8h-1.71zM590.8 532.2h1.71v40.8h-1.71zM659.4 532.2h1.71v40.8h-1.71zM709.0 532.2h1.71v40.8h-1.71zM714.2 532.2h1.71v40.8h-1.71zM733.0 532.2h1.71v40.8h-1.71zM793.0 532.2h1.71v40.8h-1.71zM798.1 532.2h1.71v40.8h-1.71zM801.6 532.2h1.71v40.8h-1.71zM832.4 532.2h1.71v40.8h-1.71zM868.4 573.0h1.71v40.8h-1.71zM1077.4 573.0h1.71v40.8h-1.71zM488.0 613.8h1.71v40.8h-1.71zM853.0 613.8h1.71v40.8h-1.71zM1183.6 613.8h1.71v40.8h-1.71zM1211.1 613.8h1.71v40.8h-1.71zM1259.0 613.8h1.71v40.8h-1.71zM287.6 654.6h1.71v40.8h-1.71zM530.9 654.6h1.71v40.8h-1.71zM846.1 654.6h1.71v40.8h-1.71zM1036.3 654.6h1.71v40.8h-1.71zM1127.1 654.6h1.71v40.8h-1.71zM1253.9 654.6h1.71v40.8h-1.71zM54.6 695.4h1.71v40.8h-1.71zM393.8 695.4h1.71v40.8h-1.71zM1038.0 695.4h5.14v40.8h-5.14zM83.7 736.2h1.71v40.8h-1.71zM207.0 736.2h1.71v40.8h-1.71zM474.3 736.2h1.71v40.8h-1.71zM767.3 736.2h1.71v40.8h-1.71zM830.7 736.2h1.71v40.8h-1.71zM1104.8 736.2h3.43v40.8h-3.43zM1120.2 736.2h1.71v40.8h-1.71zM138.5 777.0h1.71v40.8h-1.71zM174.5 777.0h1.71v40.8h-1.71zM267.0 777.0h1.71v40.8h-1.71zM311.6 777.0h1.71v40.8h-1.71zM318.4 777.0h1.71v40.8h-1.71zM323.6 777.0h1.71v40.8h-1.71zM335.5 777.0h1.71v40.8h-1.71zM414.4 777.0h1.71v40.8h-1.71zM455.5 777.0h1.71v40.8h-1.71zM481.2 777.0h1.71v40.8h-1.71zM515.4 777.0h1.71v40.8h-1.71zM942.1 777.0h1.71v40.8h-1.71zM1082.6 777.0h1.71v40.8h-1.71zM1180.2 777.0h1.71v40.8h-1.71zM70.0 817.8h1.71v40.8h-1.71zM152.2 817.8h1.71v40.8h-1.71zM231.0 817.8h3.43v40.8h-3.43zM268.7 817.8h1.71v40.8h-1.71zM309.8 817.8h1.71v40.8h-1.71zM751.9 817.8h1.71v40.8h-1.71zM8.3 858.6h1.71v40.8h-1.71zM952.3 858.6h1.71v40.8h-1.71zM27.1 940.2h1.71v40.8h-1.71zM345.8 940.2h1.71v40.8h-1.71zM416.1 940.2h1.71v40.8h-1.71zM448.6 940.2h1.71v40.8h-1.71zM642.2 940.2h1.71v40.8h-1.71zM667.9 940.2h1.71v40.8h-1.71zM697.1 940.2h1.71v40.8h-1.71zM763.9 940.2h1.71v40.8h-1.71zM1110.0 940.2h1.71v40.8h-1.71zM150.5 981.0h1.71v40.8h-1.71zM272.2 981.0h1.71v40.8h-1.71zM354.4 981.0h1.71v40.8h-1.71zM386.9 981.0h1.71v40.8h-1.71zM525.7 981.0h1.71v40.8h-1.71zM539.4 981.0h1.71v40.8h-1.71zM781.0 981.0h1.71v40.8h-1.71zM823.8 981.0h1.71v40.8h-1.71zM94.0 1021.8h1.71v40.8h-1.71zM188.2 1021.8h1.71v40.8h-1.71zM205.3 1021.8h1.71v40.8h-1.71zM517.2 1021.8h1.71v40.8h-1.71zM642.2 1021.8h1.71v40.8h-1.71zM662.8 1021.8h1.71v40.8h-1.71zM714.2 1021.8h1.71v40.8h-1.71zM757.0 1021.8h1.71v40.8h-1.71zM455.5 1062.6h1.71v40.8h-1.71zM464.0 1062.6h1.71v40.8h-1.71zM476.0 1062.6h1.71v40.8h-1.71zM621.7 1062.6h1.71v40.8h-1.71zM635.4 1062.6h1.71v40.8h-1.71zM671.4 1062.6h1.71v40.8h-1.71zM733.0 1062.6h1.71v40.8h-1.71zM851.3 1062.6h1.71v40.8h-1.71zM1260.7 1062.6h1.71v40.8h-1.71zM49.4 1103.4h1.71v40.8h-1.71zM52.8 1103.4h3.43v40.8h-3.43zM73.4 1103.4h1.71v40.8h-1.71zM109.4 1103.4h1.71v40.8h-1.71zM162.5 1103.4h1.71v40.8h-1.71zM234.5 1103.4h3.43v40.8h-3.43zM344.1 1103.4h3.43v40.8h-3.43zM361.2 1103.4h1.71v40.8h-1.71zM385.2 1103.4h1.71v40.8h-1.71zM400.7 1103.4h1.71v40.8h-1.71zM638.8 1103.4h1.71v40.8h-1.71zM649.1 1103.4h1.71v40.8h-1.71zM688.5 1103.4h1.71v40.8h-1.71zM721.0 1103.4h1.71v40.8h-1.71zM741.6 1103.4h1.71v40.8h-1.71zM789.6 1103.4h1.71v40.8h-1.71zM90.5 1144.2h1.71v40.8h-1.71zM111.1 1144.2h1.71v40.8h-1.71zM575.4 1144.2h1.71v40.8h-1.71zM710.8 1144.2h1.71v40.8h-1.71zM789.6 1144.2h1.71v40.8h-1.71zM1068.8 1144.2h1.71v40.8h-1.71zM1077.4 1144.2h1.71v40.8h-1.71zM1082.6 1144.2h1.71v40.8h-1.71zM56.3 1185.0h1.71v40.8h-1.71zM111.1 1185.0h1.71v40.8h-1.71zM171.1 1185.0h1.71v40.8h-1.71zM243.0 1185.0h1.71v40.8h-1.71zM301.3 1185.0h1.71v40.8h-1.71zM378.4 1185.0h1.71v40.8h-1.71zM448.6 1185.0h1.71v40.8h-1.71zM628.5 1185.0h1.71v40.8h-1.71zM686.8 1185.0h1.71v40.8h-1.71zM767.3 1185.0h1.71v40.8h-1.71zM786.1 1185.0h1.71v40.8h-1.71zM873.5 1185.0h1.71v40.8h-1.71zM962.6 1185.0h1.71v40.8h-1.71zM1060.3 1185.0h1.71v40.8h-1.71zM1082.6 1185.0h1.71v40.8h-1.71zM1096.3 1185.0h1.71v40.8h-1.71zM1166.5 1185.0h1.71v40.8h-1.71zM393.8 1225.8h1.71v40.8h-1.71zM626.8 1225.8h1.71v40.8h-1.71zM731.3 1225.8h1.71v40.8h-1.71zM743.3 1225.8h1.71v40.8h-1.71zM748.5 1225.8h1.71v40.8h-1.71zM806.7 1225.8h1.71v40.8h-1.71zM47.7 1266.6h1.71v40.8h-1.71zM51.1 1266.6h1.71v40.8h-1.71zM54.6 1266.6h1.71v40.8h-1.71zM66.6 1266.6h1.71v40.8h-1.71zM655.9 1307.4h1.71v40.8h-1.71zM667.9 1307.4h1.71v40.8h-1.71zM679.9 1307.4h1.71v40.8h-1.71zM697.1 1307.4h1.71v40.8h-1.71zM762.2 1307.4h1.71v40.8h-1.71zM8.3 1348.2h1.71v40.8h-1.71zM39.1 1348.2h3.43v40.8h-3.43zM123.1 1348.2h1.71v40.8h-1.71zM129.9 1348.2h1.71v40.8h-1.71zM148.8 1348.2h1.71v40.8h-1.71zM213.9 1348.2h1.71v40.8h-1.71zM253.3 1348.2h1.71v40.8h-1.71zM321.8 1348.2h1.71v40.8h-1.71zM347.5 1348.2h1.71v40.8h-1.71zM385.2 1348.2h1.71v40.8h-1.71zM402.4 1348.2h1.71v40.8h-1.71zM527.4 1348.2h1.71v40.8h-1.71zM534.3 1348.2h1.71v40.8h-1.71zM601.1 1348.2h1.71v40.8h-1.71zM606.3 1348.2h1.71v40.8h-1.71zM620.0 1348.2h1.71v40.8h-1.71zM657.6 1348.2h3.43v40.8h-3.43zM662.8 1348.2h1.71v40.8h-1.71zM685.1 1348.2h1.71v40.8h-1.71zM697.1 1348.2h1.71v40.8h-1.71zM703.9 1348.2h1.71v40.8h-1.71zM710.8 1348.2h1.71v40.8h-1.71zM738.2 1348.2h1.71v40.8h-1.71zM763.9 1348.2h1.71v40.8h-1.71zM921.5 1348.2h1.71v40.8h-1.71zM22.0 1389.0h1.71v40.8h-1.71zM44.3 1389.0h1.71v40.8h-1.71zM52.8 1389.0h1.71v40.8h-1.71zM85.4 1389.0h1.71v40.8h-1.71zM131.7 1389.0h1.71v40.8h-1.71zM155.6 1389.0h1.71v40.8h-1.71zM164.2 1389.0h1.71v40.8h-1.71zM248.2 1389.0h1.71v40.8h-1.71zM258.4 1389.0h1.71v40.8h-1.71zM261.9 1389.0h1.71v40.8h-1.71zM273.9 1389.0h1.71v40.8h-1.71zM282.4 1389.0h1.71v40.8h-1.71zM299.6 1389.0h1.71v40.8h-1.71zM352.7 1389.0h1.71v40.8h-1.71zM363.0 1389.0h1.71v40.8h-1.71zM393.8 1389.0h1.71v40.8h-1.71zM429.8 1389.0h1.71v40.8h-1.71zM457.2 1389.0h1.71v40.8h-1.71zM482.9 1389.0h1.71v40.8h-1.71zM508.6 1389.0h1.71v40.8h-1.71zM568.6 1389.0h1.71v40.8h-1.71zM632.0 1389.0h1.71v40.8h-1.71zM693.6 1389.0h1.71v40.8h-1.71zM755.3 1389.0h1.71v40.8h-1.71zM769.0 1389.0h1.71v40.8h-1.71zM818.7 1389.0h1.71v40.8h-1.71zM839.3 1389.0h1.71v40.8h-1.71zM1007.2 1389.0h1.71v40.8h-1.71zM1229.9 1389.0h1.71v40.8h-1.71zM1300.1 1389.0h1.71v40.8h-1.71z"/>
<path fill="#5787bd" d="M27.1 369.0h1.71v40.8h-1.71zM916.4 369.0h1.71v40.8h-1.71zM952.3 369.0h1.71v40.8h-1.71zM1188.8 369.0h1.71v40.8h-1.71zM1197.3 369.0h1.71v40.8h-1.71zM1257.3 369.0h1.71v40.8h-1.71zM177.9 409.8h1.71v40.8h-1.71zM205.3 409.8h1.71v40.8h-1.71zM231.0 409.8h1.71v40.8h-1.71zM1005.5 409.8h1.71v40.8h-1.71zM303.0 450.6h1.71v40.8h-1.71zM332.1 450.6h1.71v40.8h-1.71zM390.4 450.6h1.71v40.8h-1.71zM643.9 450.6h1.71v40.8h-1.71zM1233.3 491.4h1.71v40.8h-1.71zM198.5 532.2h3.43v40.8h-3.43zM205.3 532.2h1.71v40.8h-1.71zM208.8 532.2h1.71v40.8h-1.71zM313.3 532.2h1.71v40.8h-1.71zM380.1 532.2h1.71v40.8h-1.71zM383.5 532.2h1.71v40.8h-1.71zM388.7 532.2h1.71v40.8h-1.71zM578.8 532.2h1.71v40.8h-1.71zM606.3 532.2h1.71v40.8h-1.71zM642.2 532.2h1.71v40.8h-1.71zM649.1 532.2h1.71v40.8h-1.71zM666.2 532.2h1.71v40.8h-1.71zM767.3 532.2h1.71v40.8h-1.71zM815.3 532.2h1.71v40.8h-1.71zM842.7 532.2h1.71v40.8h-1.71zM861.5 532.2h1.71v40.8h-1.71zM162.5 573.0h1.71v40.8h-1.71zM195.1 573.0h1.71v40.8h-1.71zM380.1 573.0h3.43v40.8h-3.43zM882.1 573.0h1.71v40.8h-1.71zM111.1 613.8h1.71v40.8h-1.71zM121.4 613.8h1.71v40.8h-1.71zM383.5 613.8h1.71v40.8h-1.71zM859.8 613.8h1.71v40.8h-1.71zM1217.9 613.8h1.71v40.8h-1.71zM458.9 654.6h1.71v40.8h-1.71zM1089.4 654.6h1.71v40.8h-1.71zM1101.4 654.6h1.71v40.8h-1.71zM1110.0 654.6h1.71v40.8h-1.71zM1125.4 654.6h1.71v40.8h-1.71zM1221.3 654.6h1.71v40.8h-1.71zM88.8 695.4h1.71v40.8h-1.71zM106.0 695.4h1.71v40.8h-1.71zM308.1 695.4h1.71v40.8h-1.71zM1026.0 695.4h1.71v40.8h-1.71zM47.7 736.2h1.71v40.8h-1.71zM405.8 736.2h1.71v40.8h-1.71zM835.8 736.2h1.71v40.8h-1.71zM1051.7 736.2h1.71v40.8h-1.71zM1214.5 736.2h1.71v40.8h-1.71zM1221.3 736.2h1.71v40.8h-1.71zM1224.8 736.2h1.71v40.8h-1.71zM1255.6 736.2h1.71v40.8h-1.71zM13.4 777.0h1.71v40.8h-1.71zM22.0 777.0h1.71v40.8h-1.71zM28.9 777.0h1.71v40.8h-1.71zM49.4 777.0h1.71v40.8h-1.71zM56.3 777.0h1.71v40.8h-1.71zM75.1 777.0h1.71v40.8h-1.71zM92.3 777.0h1.71v40.8h-1.71zM153.9 777.0h1.71v40.8h-1.71zM193.3 777.0h1.71v40.8h-1.71zM222.5 777.0h1.71v40.8h-1.71zM258.4 777.0h1.71v40.8h-1.71zM265.3 777.0h1.71v40.8h-1.71zM458.9 777.0h1.71v40.8h-1.71zM488.0 777.0h1.71v40.8h-1.71zM512.0 777.0h1.71v40.8h-1.71zM524.0 777.0h1.71v40.8h-1.71zM880.4 777.0h1.71v40.8h-1.71zM967.8 777.0h1.71v40.8h-1.71zM974.6 777.0h1.71v40.8h-1.71zM988.3 777.0h1.71v40.8h-1.71zM1007.2 777.0h1.71v40.8h-1.71zM1010.6 777.0h1.71v40.8h-1.71zM1026.0 777.0h1.71v40.8h-1.71zM1147.7 777.0h1.71v40.8h-1.71zM92.3 817.8h1.71v40.8h-1.71zM104.2 817.8h1.71v40.8h-1.71zM203.6 817.8h1.71v40.8h-1.71zM227.6 817.8h1.71v40.8h-1.71zM270.4 817.8h3.43v40.8h-3.43zM303.0 817.8h1.71v40.8h-1.71zM561.7 817.8h1.71v40.8h-1.71zM580.6 817.8h1.71v40.8h-1.71zM608.0 817.8h1.71v40.8h-1.71zM640.5 817.8h1.71v40.8h-1.71zM649.1 817.8h1.71v40.8h-1.71zM669.6 817.8h1.71v40.8h-1.71zM738.2 817.8h1.71v40.8h-1.71zM743.3 817.8h1.71v40.8h-1.71zM80.3 858.6h1.71v40.8h-1.71zM1236.8 858.6h1.71v40.8h-1.71zM189.9 940.2h1.71v40.8h-1.71zM378.4 940.2h1.71v40.8h-1.71zM431.5 940.2h1.71v40.8h-1.71zM452.1 940.2h1.71v40.8h-1.71zM479.5 940.2h1.71v40.8h-1.71zM482.9 940.2h1.71v40.8h-1.71zM534.3 940.2h1.71v40.8h-1.71zM587.4 940.2h1.71v40.8h-1.71zM599.4 940.2h1.71v40.8h-1.71zM635.4 940.2h1.71v40.8h-1.71zM726.2 940.2h1.71v40.8h-1.71zM751.9 940.2h1.71v40.8h-1.71zM70.0 981.0h1.71v40.8h-1.71zM152.2 981.0h1.71v40.8h-1.71zM267.0 981.0h1.71v40.8h-1.71zM356.1 981.0h1.71v40.8h-1.71zM395.5 981.0h1.71v40.8h-1.71zM585.7 981.0h1.71v40.8h-1.71zM676.5 981.0h1.71v40.8h-1.71zM681.6 981.0h1.71v40.8h-1.71zM688.5 981.0h1.71v40.8h-1.71zM758.7 981.0h1.71v40.8h-1.71zM770.7 981.0h1.71v40.8h-1.71zM774.2 981.0h1.71v40.8h-1.71zM787.9 981.0h1.71v40.8h-1.71zM829.0 981.0h1.71v40.8h-1.71zM1171.6 981.0h1.71v40.8h-1.71zM25.4 1021.8h1.71v40.8h-1.71zM51.1 1021.8h1.71v40.8h-1.71zM241.3 1021.8h1.71v40.8h-1.71zM265.3 1021.8h1.71v40.8h-1.71zM335.5 1021.8h1.71v40.8h-1.71zM385.2 1021.8h1.71v40.8h-1.71zM525.7 1021.8h1.71v40.8h-1.71zM611.4 1021.8h1.71v40.8h-1.71zM674.8 1021.8h1.71v40.8h-1.71zM681.6 1021.8h1.71v40.8h-1.71zM789.6 1021.8h1.71v40.8h-1.71zM794.7 1021.8h1.71v40.8h-1.71zM80.3 1062.6h1.71v40.8h-1.71zM87.1 1062.6h1.71v40.8h-1.71zM107.7 1062.6h1.71v40.8h-1.71zM448.6 1062.6h1.71v40.8h-1.71zM560.0 1062.6h1.71v40.8h-1.71zM577.1 1062.6h1.71v40.8h-1.71zM613.1 1062.6h1.71v40.8h-1.71zM734.7 1062.6h3.43v40.8h-3.43zM741.6 1062.6h1.71v40.8h-1.71zM748.5 1062.6h3.43v40.8h-3.43zM779.3 1062.6h1.71v40.8h-1.71zM793.0 1062.6h1.71v40.8h-1.71zM805.0 1062.6h1.71v40.8h-1.71zM1269.3 1062.6h1.71v40.8h-1.71zM39.1 1103.4h1.71v40.8h-1.71zM85.4 1103.4h1.71v40.8h-1.71zM111.1 1103.4h1.71v40.8h-1.71zM116.2 1103.4h1.71v40.8h-1.71zM126.5 1103.4h1.71v40.8h-1.71zM133.4 1103.4h3.43v40.8h-3.43zM260.2 1103.4h1.71v40.8h-1.71zM263.6 1103.4h1.71v40.8h-1.71zM277.3 1103.4h1.71v40.8h-1.71zM347.5 1103.4h1.71v40.8h-1.71zM354.4 1103.4h1.71v40.8h-1.71zM366.4 1103.4h1.71v40.8h-1.71zM395.5 1103.4h1.71v40.8h-1.71zM462.3 1103.4h1.71v40.8h-1.71zM731.3 1103.4h1.71v40.8h-1.71zM753.6 1103.4h1.71v40.8h-1.71zM835.8 1103.4h1.71v40.8h-1.71zM20.3 1144.2h1.71v40.8h-1.71zM27.1 1144.2h3.43v40.8h-3.43zM56.3 1144.2h3.43v40.8h-3.43zM63.1 1144.2h1.71v40.8h-1.71zM80.3 1144.2h1.71v40.8h-1.71zM85.4 1144.2h1.71v40.8h-1.71zM99.1 1144.2h1.71v40.8h-1.71zM256.7 1144.2h1.71v40.8h-1.71zM604.5 1144.2h1.71v40.8h-1.71zM621.7 1144.2h1.71v40.8h-1.71zM640.5 1144.2h1.71v40.8h-1.71zM647.4 1144.2h3.43v40.8h-3.43zM666.2 1144.2h3.43v40.8h-3.43zM736.5 1144.2h1.71v40.8h-1.71zM760.4 1144.2h1.71v40.8h-1.71zM846.1 1144.2h1.71v40.8h-1.71zM52.8 1185.0h1.71v40.8h-1.71zM63.1 1185.0h1.71v40.8h-1.71zM88.8 1185.0h1.71v40.8h-1.71zM212.2 1185.0h1.71v40.8h-1.71zM268.7 1185.0h1.71v40.8h-1.71zM342.4 1185.0h1.71v40.8h-1.71zM530.9 1185.0h1.71v40.8h-1.71zM563.4 1185.0h1.71v40.8h-1.71zM570.3 1185.0h1.71v40.8h-1.71zM620.0 1185.0h1.71v40.8h-1.71zM642.2 1185.0h1.71v40.8h-1.71zM647.4 1185.0h1.71v40.8h-1.71zM674.8 1185.0h1.71v40.8h-1.71zM691.9 1185.0h1.71v40.8h-1.71zM727.9 1185.0h1.71v40.8h-1.71zM741.6 1185.0h1.71v40.8h-1.71zM793.0 1185.0h1.71v40.8h-1.71zM887.2 1185.0h1.71v40.8h-1.71zM950.6 1185.0h1.71v40.8h-1.71zM1048.3 1185.0h1.71v40.8h-1.71zM155.6 1225.8h1.71v40.8h-1.71zM196.8 1225.8h1.71v40.8h-1.71zM205.3 1225.8h1.71v40.8h-1.71zM301.3 1225.8h3.43v40.8h-3.43zM327.0 1225.8h1.71v40.8h-1.71zM339.0 1225.8h1.71v40.8h-1.71zM596.0 1225.8h1.71v40.8h-1.71zM654.2 1225.8h1.71v40.8h-1.71zM693.6 1225.8h3.43v40.8h-3.43zM643.9 1307.4h1.71v40.8h-1.71zM698.8 1307.4h1.71v40.8h-1.71zM748.5 1307.4h1.71v40.8h-1.71zM753.6 1307.4h1.71v40.8h-1.71zM796.4 1307.4h3.43v40.8h-3.43zM11.7 1348.2h3.43v40.8h-3.43zM35.7 1348.2h1.71v40.8h-1.71zM46.0 1348.2h1.71v40.8h-1.71zM66.6 1348.2h1.71v40.8h-1.71zM116.2 1348.2h1.71v40.8h-1.71zM133.4 1348.2h1.71v40.8h-1.71zM145.4 1348.2h1.71v40.8h-1.71zM243.0 1348.2h1.71v40.8h-1.71zM251.6 1348.2h1.71v40.8h-1.71zM261.9 1348.2h1.71v40.8h-1.71zM279.0 1348.2h1.71v40.8h-1.71zM308.1 1348.2h1.71v40.8h-1.71zM441.8 1348.2h1.71v40.8h-1.71zM469.2 1348.2h1.71v40.8h-1.71zM472.6 1348.2h1.71v40.8h-1.71zM546.3 1348.2h1.71v40.8h-1.71zM608.0 1348.2h1.71v40.8h-1.71zM645.7 1348.2h1.71v40.8h-1.71zM650.8 1348.2h1.71v40.8h-1.71zM673.1 1348.2h1.71v40.8h-1.71zM695.3 1348.2h1.71v40.8h-1.71zM878.7 1348.2h1.71v40.8h-1.71zM907.8 1348.2h3.43v40.8h-3.43zM1075.7 1348.2h1.71v40.8h-1.71zM143.7 1389.0h1.71v40.8h-1.71zM195.1 1389.0h1.71v40.8h-1.71zM251.6 1389.0h1.71v40.8h-1.71zM292.7 1389.0h1.71v40.8h-1.71zM328.7 1389.0h1.71v40.8h-1.71zM354.4 1389.0h1.71v40.8h-1.71zM388.7 1389.0h1.71v40.8h-1.71zM400.7 1389.0h1.71v40.8h-1.71zM412.6 1389.0h1.71v40.8h-1.71zM517.2 1389.0h1.71v40.8h-1.71zM635.4 1389.0h1.71v40.8h-1.71zM655.9 1389.0h1.71v40.8h-1.71zM662.8 1389.0h1.71v40.8h-1.71zM715.9 1389.0h1.71v40.8h-1.71zM736.5 1389.0h1.71v40.8h-1.71zM739.9 1389.0h1.71v40.8h-1.71zM760.4 1389.0h1.71v40.8h-1.71zM774.2 1389.0h1.71v40.8h-1.71zM781.0 1389.0h1.71v40.8h-1.71zM805.0 1389.0h1.71v40.8h-1.71zM810.1 1389.0h1.71v40.8h-1.71zM830.7 1389.0h1.71v40.8h-1.71zM928.4 1389.0h1.71v40.8h-1.71zM978.0 1389.0h1.71v40.8h-1.71zM1038.0 1389.0h1.71v40.8h-1.71zM1103.1 1389.0h1.71v40.8h-1.71zM1151.1 1389.0h1.71v40.8h-1.71z"/>
<path fill="#5c8bc0" d="M894.1 369.0h1.71v40.8h-1.71zM911.2 369.0h1.71v40.8h-1.71zM919.8 369.0h1.71v40.8h-1.71zM931.8 369.0h1.71v40.8h-1.71zM962.6 369.0h1.71v40.8h-1.71zM143.7 450.6h1.71v40.8h-1.71zM436.6 450.6h1.71v40.8h-1.71zM611.4 450.6h1.71v40.8h-1.71zM673.1 450.6h1.71v40.8h-1.71zM777.6 450.6h1.71v40.8h-1.71zM1074.0 450.6h1.71v40.8h-1.71zM8.3 491.4h1.71v40.8h-1.71zM299.6 491.4h1.71v40.8h-1.71zM104.2 532.2h1.71v40.8h-1.71zM145.4 532.2h1.71v40.8h-1.71zM191.6 532.2h1.71v40.8h-1.71zM224.2 532.2h1.71v40.8h-1.71zM270.4 532.2h1.71v40.8h-1.71zM277.3 532.2h1.71v40.8h-1.71zM304.7 532.2h1.71v40.8h-1.71zM311.6 532.2h1.71v40.8h-1.71zM333.8 532.2h1.71v40.8h-1.71zM542.9 532.2h1.71v40.8h-1.71zM616.5 532.2h1.71v40.8h-1.71zM626.8 532.2h1.71v40.8h-1.71zM652.5 532.2h1.71v40.8h-1.71zM657.6 532.2h1.71v40.8h-1.71zM702.2 532.2h1.71v40.8h-1.71zM388.7 573.0h1.71v40.8h-1.71zM1257.3 573.0h1.71v40.8h-1.71zM179.6 613.8h1.71v40.8h-1.71zM837.5 613.8h1.71v40.8h-1.71zM863.2 613.8h1.71v40.8h-1.71zM888.9 613.8h1.71v40.8h-1.71zM1221.3 613.8h1.71v40.8h-1.71zM184.8 654.6h1.71v40.8h-1.71zM945.5 654.6h1.71v40.8h-1.71zM1077.4 654.6h1.71v40.8h-1.71zM1098.0 654.6h1.71v40.8h-1.71zM1113.4 654.6h1.71v40.8h-1.71zM1140.8 654.6h1.71v40.8h-1.71zM1192.2 654.6h1.71v40.8h-1.71zM1233.3 654.6h1.71v40.8h-1.71zM287.6 695.4h1.71v40.8h-1.71zM750.2 695.4h1.71v40.8h-1.71zM957.5 695.4h1.71v40.8h-1.71zM1017.4 695.4h1.71v40.8h-1.71zM1032.9 695.4h1.71v40.8h-1.71zM1120.2 695.4h1.71v40.8h-1.71zM1183.6 695.4h1.71v40.8h-1.71zM18.6 736.2h1.71v40.8h-1.71zM70.0 736.2h1.71v40.8h-1.71zM97.4 736.2h1.71v40.8h-1.71zM887.2 736.2h1.71v40.8h-1.71zM1058.6 736.2h1.71v40.8h-1.71zM1111.7 736.2h1.71v40.8h-1.71zM1243.6 736.2h1.71v40.8h-1.71zM1283.0 736.2h1.71v40.8h-1.71zM94.0 777.0h1.71v40.8h-1.71zM99.1 777.0h1.71v40.8h-1.71zM164.2 777.0h1.71v40.8h-1.71zM215.6 777.0h1.71v40.8h-1.71zM260.2 777.0h1.71v40.8h-1.71zM297.9 777.0h1.71v40.8h-1.71zM320.1 777.0h1.71v40.8h-1.71zM332.1 777.0h1.71v40.8h-1.71zM366.4 777.0h1.71v40.8h-1.71zM410.9 777.0h1.71v40.8h-1.71zM429.8 777.0h1.71v40.8h-1.71zM486.3 777.0h1.71v40.8h-1.71zM775.9 777.0h1.71v40.8h-1.71zM926.6 777.0h1.71v40.8h-1.71zM931.8 777.0h1.71v40.8h-1.71zM954.1 777.0h1.71v40.8h-1.71zM964.3 777.0h1.71v40.8h-1.71zM1086.0 777.0h1.71v40.8h-1.71zM1108.3 777.0h1.71v40.8h-1.71zM1211.1 777.0h1.71v40.8h-1.71zM20.3 817.8h1.71v40.8h-1.71zM23.7 817.8h1.71v40.8h-1.71zM68.3 817.8h1.71v40.8h-1.71zM184.8 817.8h1.71v40.8h-1.71zM213.9 817.8h1.71v40.8h-1.71zM234.5 817.8h1.71v40.8h-1.71zM253.3 817.8h1.71v40.8h-1.71zM261.9 817.8h1.71v40.8h-1.71zM294.4 817.8h1.71v40.8h-1.71zM318.4 817.8h1.71v40.8h-1.71zM337.3 817.8h1.71v40.8h-1.71zM376.7 817.8h1.71v40.8h-1.71zM554.9 817.8h1.71v40.8h-1.71zM568.6 817.8h1.71v40.8h-1.71zM638.8 817.8h1.71v40.8h-1.71zM681.6 817.8h1.71v40.8h-1.71zM705.6 817.8h1.71v40.8h-1.71zM724.5 817.8h1.71v40.8h-1.71zM755.3 817.8h1.71v40.8h-1.71zM762.2 817.8h1.71v40.8h-1.71zM1072.3 817.8h1.71v40.8h-1.71zM58.0 858.6h1.71v40.8h-1.71zM68.3 858.6h1.71v40.8h-1.71zM356.1 940.2h1.71v40.8h-1.71zM383.5 940.2h1.71v40.8h-1.71zM455.5 940.2h1.71v40.8h-1.71zM628.5 940.2h3.43v40.8h-3.43zM734.7 940.2h1.71v40.8h-1.71zM275.6 981.0h1.71v40.8h-1.71zM369.8 981.0h1.71v40.8h-1.71zM565.1 981.0h1.71v40.8h-1.71zM594.3 981.0h1.71v40.8h-1.71zM799.9 981.0h1.71v40.8h-1.71zM83.7 1021.8h1.71v40.8h-1.71zM131.7 1021.8h1.71v40.8h-1.71zM203.6 1021.8h1.71v40.8h-1.71zM212.2 1021.8h1.71v40.8h-1.71zM251.6 1021.8h1.71v40.8h-1.71zM280.7 1021.8h1.71v40.8h-1.71zM308.1 1021.8h1.71v40.8h-1.71zM359.5 1021.8h1.71v40.8h-1.71zM405.8 1021.8h1.71v40.8h-1.71zM491.5 1021.8h1.71v40.8h-1.71zM544.6 1021.8h1.71v40.8h-1.71zM561.7 1021.8h1.71v40.8h-1.71zM565.1 1021.8h1.71v40.8h-1.71zM655.9 1021.8h1.71v40.8h-1.71zM717.6 1021.8h1.71v40.8h-1.71zM1152.8 1021.8h1.71v40.8h-1.71zM95.7 1062.6h1.71v40.8h-1.71zM106.0 1062.6h1.71v40.8h-1.71zM392.1 1062.6h1.71v40.8h-1.71zM397.2 1062.6h1.71v40.8h-1.71zM494.9 1062.6h1.71v40.8h-1.71zM534.3 1062.6h1.71v40.8h-1.71zM578.8 1062.6h1.71v40.8h-1.71zM597.7 1062.6h1.71v40.8h-1.71zM630.2 1062.6h1.71v40.8h-1.71zM712.5 1062.6h1.71v40.8h-1.71zM729.6 1062.6h1.71v40.8h-1.71zM758.7 1062.6h1.71v40.8h-1.71zM769.0 1062.6h1.71v40.8h-1.71zM811.8 1062.6h1.71v40.8h-1.71zM834.1 1062.6h1.71v40.8h-1.71zM865.0 1062.6h1.71v40.8h-1.71zM1067.1 1062.6h1.71v40.8h-1.71zM1288.2 1062.6h1.71v40.8h-1.71zM56.3 1103.4h1.71v40.8h-1.71zM143.7 1103.4h1.71v40.8h-1.71zM150.5 1103.4h1.71v40.8h-1.71zM172.8 1103.4h1.71v40.8h-1.71zM333.8 1103.4h3.43v40.8h-3.43zM414.4 1103.4h1.71v40.8h-1.71zM450.3 1103.4h1.71v40.8h-1.71zM455.5 1103.4h1.71v40.8h-1.71zM592.5 1103.4h1.71v40.8h-1.71zM659.4 1103.4h1.71v40.8h-1.71zM662.8 1103.4h1.71v40.8h-1.71zM734.7 1103.4h1.71v40.8h-1.71zM757.0 1103.4h1.71v40.8h-1.71zM777.6 1103.4h1.71v40.8h-1.71zM803.3 1103.4h1.71v40.8h-1.71zM1122.0 1103.4h1.71v40.8h-1.71zM1289.9 1103.4h1.71v40.8h-1.71zM44.3 1144.2h1.71v40.8h-1.71zM219.0 1144.2h1.71v40.8h-1.71zM229.3 1144.2h1.71v40.8h-1.71zM249.9 1144.2h1.71v40.8h-1.71zM356.1 1144.2h1.71v40.8h-1.71zM597.7 1144.2h1.71v40.8h-1.71zM715.9 1144.2h1.71v40.8h-1.71zM727.9 1144.2h1.71v40.8h-1.71zM1072.3 1144.2h1.71v40.8h-1.71zM8.3 1185.0h3.43v40.8h-3.43zM30.6 1185.0h1.71v40.8h-1.71zM46.0 1185.0h1.71v40.8h-1.71zM196.8 1185.0h1.71v40.8h-1.71zM207.0 1185.0h1.71v40.8h-1.71zM232.7 1185.0h1.71v40.8h-1.71zM244.7 1185.0h1.71v40.8h-1.71zM251.6 1185.0h1.71v40.8h-1.71zM416.1 1185.0h1.71v40.8h-1.71zM421.2 1185.0h1.71v40.8h-1.71zM428.1 1185.0h1.71v40.8h-1.71zM482.9 1185.0h1.71v40.8h-1.71zM527.4 1185.0h1.71v40.8h-1.71zM577.1 1185.0h1.71v40.8h-1.71zM589.1 1185.0h1.71v40.8h-1.71zM596.0 1185.0h3.43v40.8h-3.43zM609.7 1185.0h1.71v40.8h-1.71zM638.8 1185.0h3.43v40.8h-3.43zM1036.3 1185.0h1.71v40.8h-1.71zM1169.9 1185.0h1.71v40.8h-1.71zM1207.6 1185.0h3.43v40.8h-3.43zM179.6 1225.8h1.71v40.8h-1.71zM224.2 1225.8h1.71v40.8h-1.71zM237.9 1225.8h1.71v40.8h-1.71zM309.8 1225.8h1.71v40.8h-1.71zM315.0 1225.8h1.71v40.8h-1.71zM366.4 1225.8h1.71v40.8h-1.71zM381.8 1225.8h1.71v40.8h-1.71zM575.4 1225.8h1.71v40.8h-1.71zM673.1 1225.8h1.71v40.8h-1.71zM679.9 1225.8h1.71v40.8h-1.71zM710.8 1225.8h1.71v40.8h-1.71zM796.4 1225.8h1.71v40.8h-1.71zM799.9 1225.8h1.71v40.8h-1.71zM842.7 1225.8h1.71v40.8h-1.71zM59.7 1266.6h1.71v40.8h-1.71zM575.4 1307.4h1.71v40.8h-1.71zM686.8 1307.4h1.71v40.8h-1.71zM691.9 1307.4h1.71v40.8h-1.71zM705.6 1307.4h1.71v40.8h-1.71zM842.7 1307.4h1.71v40.8h-1.71zM34.0 1348.2h1.71v40.8h-1.71zM51.1 1348.2h1.71v40.8h-1.71zM63.1 1348.2h1.71v40.8h-1.71zM99.1 1348.2h1.71v40.8h-1.71zM121.4 1348.2h1.71v40.8h-1.71zM164.2 1348.2h1.71v40.8h-1.71zM171.1 1348.2h1.71v40.8h-1.71zM207.0 1348.2h1.71v40.8h-1.71zM241.3 1348.2h1.71v40.8h-1.71zM255.0 1348.2h1.71v40.8h-1.71zM291.0 1348.2h1.71v40.8h-1.71zM339.0 1348.2h1.71v40.8h-1.71zM371.5 1348.2h1.71v40.8h-1.71zM503.5 1348.2h1.71v40.8h-1.71zM530.9 1348.2h1.71v40.8h-1.71zM604.5 1348.2h1.71v40.8h-1.71zM618.2 1348.2h1.71v40.8h-1.71zM649.1 1348.2h1.71v40.8h-1.71zM654.2 1348.2h1.71v40.8h-1.71zM674.8 1348.2h1.71v40.8h-1.71zM681.6 1348.2h1.71v40.8h-1.71zM770.7 1348.2h3.43v40.8h-3.43zM858.1 1348.2h1.71v40.8h-1.71zM895.8 1348.2h1.71v40.8h-1.71zM948.9 1348.2h1.71v40.8h-1.71zM1176.8 1348.2h1.71v40.8h-1.71zM1202.5 1348.2h1.71v40.8h-1.71zM10.0 1389.0h1.71v40.8h-1.71zM147.1 1389.0h1.71v40.8h-1.71zM153.9 1389.0h1.71v40.8h-1.71zM207.0 1389.0h1.71v40.8h-1.71zM222.5 1389.0h1.71v40.8h-1.71zM225.9 1389.0h1.71v40.8h-1.71zM256.7 1389.0h1.71v40.8h-1.71zM260.2 1389.0h1.71v40.8h-1.71zM426.4 1389.0h1.71v40.8h-1.71zM472.6 1389.0h1.71v40.8h-1.71zM486.3 1389.0h1.71v40.8h-1.71zM496.6 1389.0h1.71v40.8h-1.71zM503.5 1389.0h1.71v40.8h-1.71zM515.4 1389.0h1.71v40.8h-1.71zM520.6 1389.0h1.71v40.8h-1.71zM563.4 1389.0h1.71v40.8h-1.71zM606.3 1389.0h1.71v40.8h-1.71zM654.2 1389.0h1.71v40.8h-1.71zM685.1 1389.0h1.71v40.8h-1.71zM712.5 1389.0h1.71v40.8h-1.71zM719.3 1389.0h1.71v40.8h-1.71zM727.9 1389.0h1.71v40.8h-1.71zM808.4 1389.0h1.71v40.8h-1.71zM827.3 1389.0h1.71v40.8h-1.71zM873.5 1389.0h1.71v40.8h-1.71zM882.1 1389.0h1.71v40.8h-1.71zM986.6 1389.0h1.71v40.8h-1.71zM1091.1 1389.0h3.43v40.8h-3.43zM1142.5 1389.0h1.71v40.8h-1.71zM1161.4 1389.0h1.71v40.8h-1.71zM1301.9 1389.0h1.71v40.8h-1.71z"/>
<path fill="#6190c2" d="M424.6 369.0h1.71v40.8h-1.71zM474.3 369.0h1.71v40.8h-1.71zM907.8 369.0h1.71v40.8h-1.71zM957.5 369.0h1.71v40.8h-1.71zM1289.9 369.0h1.71v40.8h-1.71zM248.2 409.8h1.71v40.8h-1.71zM306.4 450.6h1.71v40.8h-1.71zM364.7 450.6h1.71v40.8h-1.71zM212.2 532.2h1.71v40.8h-1.71zM280.7 532.2h1.71v40.8h-1.71zM284.1 532.2h1.71v40.8h-1.71zM294.4 532.2h1.71v40.8h-1.71zM446.9 532.2h1.71v40.8h-1.71zM525.7 532.2h3.43v40.8h-3.43zM601.1 532.2h1.71v40.8h-1.71zM608.0 532.2h1.71v40.8h-1.71zM650.8 532.2h1.71v40.8h-1.71zM655.9 532.2h1.71v40.8h-1.71zM664.5 532.2h1.71v40.8h-1.71zM388.7 613.8h1.71v40.8h-1.71zM1199.1 613.8h1.71v40.8h-1.71zM1106.5 654.6h1.71v40.8h-1.71zM823.8 736.2h1.71v40.8h-1.71zM136.8 777.0h1.71v40.8h-1.71zM352.7 777.0h1.71v40.8h-1.71zM434.9 777.0h1.71v40.8h-1.71zM440.1 777.0h1.71v40.8h-1.71zM493.2 777.0h1.71v40.8h-1.71zM955.8 777.0h1.71v40.8h-1.71zM1065.4 777.0h1.71v40.8h-1.71zM1070.6 777.0h1.71v40.8h-1.71zM32.3 817.8h1.71v40.8h-1.71zM88.8 817.8h1.71v40.8h-1.71zM212.2 817.8h1.71v40.8h-1.71zM217.3 817.8h1.71v40.8h-1.71zM604.5 817.8h1.71v40.8h-1.71zM16.9 858.6h3.43v40.8h-3.43zM56.3 940.2h1.71v40.8h-1.71zM85.4 940.2h1.71v40.8h-1.71zM626.8 940.2h1.71v40.8h-1.71zM750.2 940.2h1.71v40.8h-1.71zM1149.4 940.2h1.71v40.8h-1.71zM153.9 981.0h1.71v40.8h-1.71zM184.8 981.0h1.71v40.8h-1.71zM453.8 981.0h1.71v40.8h-1.71zM561.7 981.0h1.71v40.8h-1.71zM75.1 1021.8h1.71v40.8h-1.71zM136.8 1021.8h1.71v40.8h-1.71zM183.1 1021.8h1.71v40.8h-1.71zM195.1 1021.8h1.71v40.8h-1.71zM375.0 1021.8h1.71v40.8h-1.71zM486.3 1021.8h1.71v40.8h-1.71zM498.3 1021.8h1.71v40.8h-1.71zM618.2 1021.8h1.71v40.8h-1.71zM673.1 1021.8h1.71v40.8h-1.71zM1229.9 1021.8h1.71v40.8h-1.71zM78.5 1062.6h1.71v40.8h-1.71zM410.9 1062.6h1.71v40.8h-1.71zM457.2 1062.6h1.71v40.8h-1.71zM460.6 1062.6h1.71v40.8h-1.71zM481.2 1062.6h1.71v40.8h-1.71zM506.9 1062.6h1.71v40.8h-1.71zM796.4 1062.6h1.71v40.8h-1.71zM803.3 1062.6h1.71v40.8h-1.71zM92.3 1103.4h1.71v40.8h-1.71zM102.5 1103.4h1.71v40.8h-1.71zM140.2 1103.4h1.71v40.8h-1.71zM253.3 1103.4h1.71v40.8h-1.71zM375.0 1103.4h1.71v40.8h-1.71zM431.5 1103.4h1.71v40.8h-1.71zM582.3 1103.4h1.71v40.8h-1.71zM632.0 1103.4h1.71v40.8h-1.71zM645.7 1103.4h1.71v40.8h-1.71zM664.5 1103.4h1.71v40.8h-1.71zM686.8 1103.4h1.71v40.8h-1.71zM787.9 1103.4h1.71v40.8h-1.71zM1257.3 1103.4h1.71v40.8h-1.71zM1283.0 1103.4h1.71v40.8h-1.71zM68.3 1144.2h1.71v40.8h-1.71zM217.3 1144.2h1.71v40.8h-1.71zM327.0 1144.2h1.71v40.8h-1.71zM674.8 1144.2h1.71v40.8h-1.71zM688.5 1144.2h1.71v40.8h-1.71zM20.3 1185.0h1.71v40.8h-1.71zM126.5 1185.0h1.71v40.8h-1.71zM160.8 1185.0h1.71v40.8h-1.71zM386.9 1185.0h1.71v40.8h-1.71zM626.8 1185.0h1.71v40.8h-1.71zM676.5 1185.0h1.71v40.8h-1.71zM751.9 1185.0h1.71v40.8h-1.71zM818.7 1185.0h1.71v40.8h-1.71zM883.8 1185.0h1.71v40.8h-1.71zM1183.6 1185.0h1.71v40.8h-1.71zM352.7 1225.8h1.71v40.8h-1.71zM368.1 1225.8h1.71v40.8h-1.71zM721.0 1225.8h1.71v40.8h-1.71zM755.3 1225.8h1.71v40.8h-1.71zM825.6 1225.8h1.71v40.8h-1.71zM56.3 1266.6h1.71v40.8h-1.71zM633.7 1307.4h1.71v40.8h-1.71zM770.7 1307.4h1.71v40.8h-1.71zM10.0 1348.2h1.71v40.8h-1.71zM42.6 1348.2h1.71v40.8h-1.71zM78.5 1348.2h1.71v40.8h-1.71zM92.3 1348.2h1.71v40.8h-1.71zM143.7 1348.2h1.71v40.8h-1.71zM150.5 1348.2h1.71v40.8h-1.71zM284.1 1348.2h1.71v40.8h-1.71zM364.7 1348.2h1.71v40.8h-1.71zM378.4 1348.2h1.71v40.8h-1.71zM393.8 1348.2h1.71v40.8h-1.71zM397.2 1348.2h1.71v40.8h-1.71zM419.5 1348.2h1.71v40.8h-1.71zM491.5 1348.2h1.71v40.8h-1.71zM494.9 1348.2h1.71v40.8h-1.71zM506.9 1348.2h1.71v40.8h-1.71zM513.7 1348.2h1.71v40.8h-1.71zM525.7 1348.2h1.71v40.8h-1.71zM602.8 1348.2h1.71v40.8h-1.71zM637.1 1348.2h1.71v40.8h-1.71zM667.9 1348.2h1.71v40.8h-1.71zM984.9 1348.2h1.71v40.8h-1.71zM1053.4 1348.2h1.71v40.8h-1.71zM11.7 1389.0h1.71v40.8h-1.71zM30.6 1389.0h1.71v40.8h-1.71zM42.6 1389.0h1.71v40.8h-1.71zM56.3 1389.0h1.71v40.8h-1.71zM75.1 1389.0h1.71v40.8h-1.71zM193.3 1389.0h1.71v40.8h-1.71zM232.7 1389.0h1.71v40.8h-1.71zM255.0 1389.0h1.71v40.8h-1.71zM340.7 1389.0h1.71v40.8h-1.71zM416.1 1389.0h1.71v40.8h-1.71zM453.8 1389.0h1.71v40.8h-1.71zM469.2 1389.0h1.71v40.8h-1.71zM596.0 1389.0h1.71v40.8h-1.71zM625.1 1389.0h1.71v40.8h-1.71zM683.3 1389.0h1.71v40.8h-1.71zM698.8 1389.0h1.71v40.8h-1.71zM717.6 1389.0h1.71v40.8h-1.71zM842.7 1389.0h1.71v40.8h-1.71zM933.5 1389.0h1.71v40.8h-1.71zM1014.0 1389.0h1.71v40.8h-1.71zM1056.9 1389.0h1.71v40.8h-1.71z"/>
<path fill="#6594c5" d="M1058.6 409.8h1.71v40.8h-1.71zM1127.1 409.8h1.71v40.8h-1.71zM75.1 491.4h1.71v40.8h-1.71zM585.7 491.4h1.71v40.8h-1.71zM806.7 491.4h1.71v40.8h-1.71zM261.9 532.2h1.71v40.8h-1.71zM376.7 532.2h1.71v40.8h-1.71zM522.3 532.2h1.71v40.8h-1.71zM707.3 532.2h1.71v40.8h-1.71zM241.3 573.0h1.71v40.8h-1.71zM1000.3 654.6h1.71v40.8h-1.71zM1199.1 654.6h1.71v40.8h-1.71zM1226.5 654.6h1.71v40.8h-1.71zM1252.2 654.6h1.71v40.8h-1.71zM129.9 695.4h1.71v40.8h-1.71zM431.5 695.4h1.71v40.8h-1.71zM560.0 695.4h1.71v40.8h-1.71zM849.5 695.4h1.71v40.8h-1.71zM907.8 695.4h1.71v40.8h-1.71zM930.1 695.4h3.43v40.8h-3.43zM935.2 695.4h1.71v40.8h-1.71zM943.8 695.4h1.71v40.8h-1.71zM950.6 695.4h1.71v40.8h-1.71zM1036.3 695.4h1.71v40.8h-1.71zM1062.0 695.4h1.71v40.8h-1.71zM1067.1 695.4h1.71v40.8h-1.71zM1283.0 695.4h1.71v40.8h-1.71zM851.3 736.2h1.71v40.8h-1.71zM936.9 736.2h1.71v40.8h-1.71zM947.2 736.2h3.43v40.8h-3.43zM962.6 736.2h1.71v40.8h-1.71zM990.0 736.2h1.71v40.8h-1.71zM1002.0 736.2h1.71v40.8h-1.71zM1176.8 736.2h1.71v40.8h-1.71zM1188.8 736.2h1.71v40.8h-1.71zM68.3 777.0h1.71v40.8h-1.71zM107.7 777.0h1.71v40.8h-1.71zM121.4 777.0h1.71v40.8h-1.71zM128.2 777.0h1.71v40.8h-1.71zM162.5 777.0h1.71v40.8h-1.71zM171.1 777.0h1.71v40.8h-1.71zM186.5 777.0h1.71v40.8h-1.71zM196.8 777.0h1.71v40.8h-1.71zM232.7 777.0h1.71v40.8h-1.71zM263.6 777.0h1.71v40.8h-1.71zM349.3 777.0h1.71v40.8h-1.71zM357.8 777.0h1.71v40.8h-1.71zM422.9 777.0h3.43v40.8h-3.43zM892.4 777.0h1.71v40.8h-1.71zM1008.9 777.0h1.71v40.8h-1.71zM1020.9 777.0h1.71v40.8h-1.71zM1169.9 777.0h1.71v40.8h-1.71zM205.3 817.8h1.71v40.8h-1.71zM222.5 817.8h1.71v40.8h-1.71zM304.7 817.8h1.71v40.8h-1.71zM1173.4 817.8h1.71v40.8h-1.71zM1187.1 817.8h1.71v40.8h-1.71zM119.7 858.6h1.71v40.8h-1.71zM126.5 858.6h1.71v40.8h-1.71zM198.5 858.6h1.71v40.8h-1.71zM203.6 858.6h1.71v40.8h-1.71zM231.0 858.6h1.71v40.8h-1.71zM258.4 858.6h1.71v40.8h-1.71zM323.6 858.6h1.71v40.8h-1.71zM344.1 858.6h1.71v40.8h-1.71zM832.4 858.6h1.71v40.8h-1.71zM124.8 899.4h1.71v40.8h-1.71zM172.8 899.4h1.71v40.8h-1.71zM323.6 899.4h1.71v40.8h-1.71zM375.0 899.4h1.71v40.8h-1.71zM433.2 899.4h1.71v40.8h-1.71zM452.1 899.4h1.71v40.8h-1.71zM489.7 899.4h1.71v40.8h-1.71zM498.3 899.4h1.71v40.8h-1.71zM529.2 899.4h1.71v40.8h-1.71zM691.9 899.4h1.71v40.8h-1.71zM745.0 899.4h1.71v40.8h-1.71zM808.4 899.4h1.71v40.8h-1.71zM1082.6 899.4h1.71v40.8h-1.71zM1087.7 899.4h1.71v40.8h-1.71zM494.9 940.2h1.71v40.8h-1.71zM1024.3 940.2h1.71v40.8h-1.71zM1027.7 940.2h1.71v40.8h-1.71zM673.1 981.0h1.71v40.8h-1.71zM59.7 1021.8h1.71v40.8h-1.71zM88.8 1021.8h1.71v40.8h-1.71zM123.1 1021.8h1.71v40.8h-1.71zM153.9 1021.8h1.71v40.8h-1.71zM179.6 1021.8h1.71v40.8h-1.71zM282.4 1021.8h1.71v40.8h-1.71zM393.8 1021.8h3.43v40.8h-3.43zM476.0 1021.8h1.71v40.8h-1.71zM505.2 1021.8h1.71v40.8h-1.71zM512.0 1021.8h1.71v40.8h-1.71zM666.2 1021.8h1.71v40.8h-1.71zM679.9 1021.8h1.71v40.8h-1.71zM813.6 1021.8h1.71v40.8h-1.71zM1176.8 1021.8h1.71v40.8h-1.71zM1271.0 1021.8h1.71v40.8h-1.71zM1279.6 1021.8h1.71v40.8h-1.71zM215.6 1062.6h1.71v40.8h-1.71zM220.8 1062.6h1.71v40.8h-1.71zM661.1 1062.6h1.71v40.8h-1.71zM707.3 1062.6h1.71v40.8h-1.71zM717.6 1062.6h1.71v40.8h-1.71zM1257.3 1062.6h3.43v40.8h-3.43zM661.1 1103.4h1.71v40.8h-1.71zM755.3 1103.4h1.71v40.8h-1.71zM213.9 1144.2h1.71v40.8h-1.71zM349.3 1144.2h1.71v40.8h-1.71zM455.5 1144.2h3.43v40.8h-3.43zM464.0 1144.2h1.71v40.8h-1.71zM678.2 1144.2h1.71v40.8h-1.71zM686.8 1144.2h1.71v40.8h-1.71zM746.7 1144.2h1.71v40.8h-1.71zM772.4 1144.2h1.71v40.8h-1.71zM822.1 1144.2h1.71v40.8h-1.71zM1099.7 1144.2h1.71v40.8h-1.71zM1269.3 1144.2h1.71v40.8h-1.71zM1274.4 1144.2h1.71v40.8h-1.71zM94.0 1185.0h1.71v40.8h-1.71zM99.1 1185.0h3.43v40.8h-3.43zM546.3 1185.0h3.43v40.8h-3.43zM614.8 1185.0h1.71v40.8h-1.71zM632.0 1185.0h1.71v40.8h-1.71zM649.1 1185.0h1.71v40.8h-1.71zM659.4 1185.0h1.71v40.8h-1.71zM791.3 1185.0h1.71v40.8h-1.71zM835.8 1185.0h1.71v40.8h-1.71zM1248.7 1185.0h1.71v40.8h-1.71zM1281.3 1185.0h1.71v40.8h-1.71zM10.0 1225.8h1.71v40.8h-1.71zM66.6 1225.8h1.71v40.8h-1.71zM83.7 1225.8h1.71v40.8h-1.71zM95.7 1225.8h1.71v40.8h-1.71zM241.3 1225.8h1.71v40.8h-1.71zM270.4 1225.8h1.71v40.8h-1.71zM275.6 1225.8h1.71v40.8h-1.71zM724.5 1225.8h1.71v40.8h-1.71zM823.8 1225.8h1.71v40.8h-1.71zM1139.1 1225.8h1.71v40.8h-1.71zM1253.9 1225.8h1.71v40.8h-1.71zM1284.7 1225.8h1.71v40.8h-1.71zM145.4 1266.6h1.71v40.8h-1.71zM248.2 1266.6h1.71v40.8h-1.71zM434.9 1266.6h3.43v40.8h-3.43zM443.5 1266.6h3.43v40.8h-3.43zM477.8 1266.6h3.43v40.8h-3.43zM498.3 1266.6h1.71v40.8h-1.71zM618.2 1266.6h1.71v40.8h-1.71zM745.0 1266.6h1.71v40.8h-1.71zM753.6 1266.6h1.71v40.8h-1.71zM832.4 1266.6h1.71v40.8h-1.71zM954.1 1266.6h1.71v40.8h-1.71zM1169.9 1266.6h1.71v40.8h-1.71zM1252.2 1266.6h1.71v40.8h-1.71zM1296.7 1266.6h1.71v40.8h-1.71zM10.0 1307.4h1.71v40.8h-1.71zM34.0 1307.4h1.71v40.8h-1.71zM39.1 1307.4h1.71v40.8h-1.71zM63.1 1307.4h1.71v40.8h-1.71zM193.3 1307.4h1.71v40.8h-1.71zM196.8 1307.4h3.43v40.8h-3.43zM210.5 1307.4h1.71v40.8h-1.71zM232.7 1307.4h1.71v40.8h-1.71zM291.0 1307.4h1.71v40.8h-1.71zM366.4 1307.4h1.71v40.8h-1.71zM805.0 1307.4h1.71v40.8h-1.71zM1015.7 1307.4h1.71v40.8h-1.71zM1056.9 1307.4h1.71v40.8h-1.71zM1094.5 1307.4h1.71v40.8h-1.71zM179.6 1348.2h1.71v40.8h-1.71zM189.9 1348.2h1.71v40.8h-1.71zM294.4 1348.2h1.71v40.8h-1.71zM361.2 1348.2h1.71v40.8h-1.71zM390.4 1348.2h1.71v40.8h-1.71zM405.8 1348.2h1.71v40.8h-1.71zM452.1 1348.2h1.71v40.8h-1.71zM902.7 1348.2h1.71v40.8h-1.71zM928.4 1348.2h1.71v40.8h-1.71zM1029.4 1348.2h1.71v40.8h-1.71zM1032.9 1348.2h1.71v40.8h-1.71zM1055.1 1348.2h1.71v40.8h-1.71zM1116.8 1348.2h1.71v40.8h-1.71zM1183.6 1348.2h1.71v40.8h-1.71zM1197.3 1348.2h1.71v40.8h-1.71zM1269.3 1348.2h1.71v40.8h-1.71zM47.7 1389.0h1.71v40.8h-1.71zM63.1 1389.0h1.71v40.8h-1.71zM71.7 1389.0h1.71v40.8h-1.71zM136.8 1389.0h1.71v40.8h-1.71zM181.3 1389.0h1.71v40.8h-1.71zM198.5 1389.0h1.71v40.8h-1.71zM201.9 1389.0h1.71v40.8h-1.71zM215.6 1389.0h1.71v40.8h-1.71zM375.0 1389.0h1.71v40.8h-1.71zM392.1 1389.0h1.71v40.8h-1.71zM448.6 1389.0h1.71v40.8h-1.71zM470.9 1389.0h1.71v40.8h-1.71zM522.3 1389.0h1.71v40.8h-1.71zM823.8 1389.0h1.71v40.8h-1.71zM935.2 1389.0h1.71v40.8h-1.71zM1019.2 1389.0h1.71v40.8h-1.71zM1070.6 1389.0h1.71v40.8h-1.71zM1132.2 1389.0h1.71v40.8h-1.71zM1137.4 1389.0h1.71v40.8h-1.71zM1284.7 1389.0h1.71v40.8h-1.71zM1289.9 1389.0h1.71v40.8h-1.71z"/>
<path fill="#6a99c7" d="M971.2 369.0h1.71v40.8h-1.71zM1128.8 409.8h1.71v40.8h-1.71zM830.7 491.4h1.71v40.8h-1.71zM368.1 532.2h1.71v40.8h-1.71zM698.8 532.2h1.71v40.8h-1.71zM721.0 532.2h1.71v40.8h-1.71zM830.7 532.2h1.71v40.8h-1.71zM587.4 573.0h1.71v40.8h-1.71zM604.5 573.0h1.71v40.8h-1.71zM608.0 573.0h1.71v40.8h-1.71zM625.1 573.0h1.71v40.8h-1.71zM664.5 573.0h1.71v40.8h-1.71zM674.8 573.0h1.71v40.8h-1.71zM755.3 573.0h1.71v40.8h-1.71zM887.2 654.6h1.71v40.8h-1.71zM1171.6 654.6h3.43v40.8h-3.43zM1265.9 654.6h1.71v40.8h-1.71zM1284.7 654.6h1.71v40.8h-1.71zM234.5 695.4h1.71v40.8h-1.71zM558.3 695.4h1.71v40.8h-1.71zM853.0 695.4h1.71v40.8h-1.71zM856.4 695.4h1.71v40.8h-1.71zM942.1 695.4h1.71v40.8h-1.71zM118.0 736.2h1.71v40.8h-1.71zM911.2 736.2h1.71v40.8h-1.71zM981.5 736.2h1.71v40.8h-1.71zM1200.8 736.2h1.71v40.8h-1.71zM1209.3 736.2h1.71v40.8h-1.71zM95.7 777.0h1.71v40.8h-1.71zM337.3 777.0h1.71v40.8h-1.71zM397.2 777.0h1.71v40.8h-1.71zM433.2 777.0h1.71v40.8h-1.71zM450.3 777.0h1.71v40.8h-1.71zM919.8 777.0h1.71v40.8h-1.71zM928.4 777.0h1.71v40.8h-1.71zM1113.4 777.0h1.71v40.8h-1.71zM1137.4 777.0h1.71v40.8h-1.71zM1176.8 777.0h1.71v40.8h-1.71zM1187.1 777.0h1.71v40.8h-1.71zM315.0 817.8h1.71v40.8h-1.71zM727.9 817.8h1.71v40.8h-1.71zM733.0 817.8h1.71v40.8h-1.71zM1135.7 817.8h1.71v40.8h-1.71zM1247.0 817.8h1.71v40.8h-1.71zM102.5 858.6h1.71v40.8h-1.71zM106.0 858.6h1.71v40.8h-1.71zM332.1 858.6h1.71v40.8h-1.71zM363.0 858.6h1.71v40.8h-1.71zM381.8 858.6h1.71v40.8h-1.71zM527.4 858.6h1.71v40.8h-1.71zM608.0 858.6h1.71v40.8h-1.71zM753.6 858.6h1.71v40.8h-1.71zM791.3 858.6h1.71v40.8h-1.71zM13.4 899.4h1.71v40.8h-1.71zM25.4 899.4h1.71v40.8h-1.71zM34.0 899.4h1.71v40.8h-1.71zM207.0 899.4h1.71v40.8h-1.71zM284.1 899.4h1.71v40.8h-1.71zM297.9 899.4h1.71v40.8h-1.71zM356.1 899.4h1.71v40.8h-1.71zM409.2 899.4h1.71v40.8h-1.71zM426.4 899.4h1.71v40.8h-1.71zM465.8 899.4h1.71v40.8h-1.71zM568.6 899.4h1.71v40.8h-1.71zM625.1 899.4h1.71v40.8h-1.71zM664.5 899.4h1.71v40.8h-1.71zM805.0 899.4h1.71v40.8h-1.71zM834.1 899.4h1.71v40.8h-1.71zM875.2 899.4h1.71v40.8h-1.71zM1113.4 899.4h1.71v40.8h-1.71zM1181.9 899.4h1.71v40.8h-1.71zM1188.8 899.4h1.71v40.8h-1.71zM1236.8 899.4h1.71v40.8h-1.71zM268.7 940.2h1.71v40.8h-1.71zM351.0 940.2h1.71v40.8h-1.71zM392.1 940.2h1.71v40.8h-1.71zM834.1 981.0h1.71v40.8h-1.71zM56.3 1021.8h1.71v40.8h-1.71zM143.7 1021.8h1.71v40.8h-1.71zM148.8 1021.8h1.71v40.8h-1.71zM164.2 1021.8h1.71v40.8h-1.71zM239.6 1021.8h1.71v40.8h-1.71zM279.0 1021.8h1.71v40.8h-1.71zM292.7 1021.8h1.71v40.8h-1.71zM309.8 1021.8h1.71v40.8h-1.71zM339.0 1021.8h1.71v40.8h-1.71zM373.2 1021.8h1.71v40.8h-1.71zM445.2 1021.8h1.71v40.8h-1.71zM474.3 1021.8h1.71v40.8h-1.71zM503.5 1021.8h1.71v40.8h-1.71zM539.4 1021.8h1.71v40.8h-1.71zM592.5 1021.8h1.71v40.8h-1.71zM606.3 1021.8h1.71v40.8h-1.71zM635.4 1021.8h1.71v40.8h-1.71zM643.9 1021.8h1.71v40.8h-1.71zM683.3 1021.8h1.71v40.8h-1.71zM774.2 1021.8h1.71v40.8h-1.71zM846.1 1021.8h1.71v40.8h-1.71zM1026.0 1021.8h1.71v40.8h-1.71zM674.8 1062.6h1.71v40.8h-1.71zM839.3 1062.6h1.71v40.8h-1.71zM479.5 1103.4h1.71v40.8h-1.71zM650.8 1103.4h1.71v40.8h-1.71zM710.8 1103.4h1.71v40.8h-1.71zM123.1 1144.2h3.43v40.8h-3.43zM522.3 1144.2h1.71v40.8h-1.71zM673.1 1144.2h1.71v40.8h-1.71zM829.0 1144.2h1.71v40.8h-1.71zM64.8 1185.0h1.71v40.8h-1.71zM76.8 1185.0h1.71v40.8h-1.71zM141.9 1185.0h1.71v40.8h-1.71zM152.2 1185.0h1.71v40.8h-1.71zM165.9 1185.0h1.71v40.8h-1.71zM549.7 1185.0h1.71v40.8h-1.71zM657.6 1185.0h1.71v40.8h-1.71zM688.5 1185.0h1.71v40.8h-1.71zM709.0 1185.0h1.71v40.8h-1.71zM724.5 1185.0h1.71v40.8h-1.71zM765.6 1185.0h1.71v40.8h-1.71zM803.3 1185.0h1.71v40.8h-1.71zM1171.6 1185.0h1.71v40.8h-1.71zM1226.5 1185.0h1.71v40.8h-1.71zM1233.3 1185.0h1.71v40.8h-1.71zM1283.0 1185.0h1.71v40.8h-1.71zM172.8 1225.8h1.71v40.8h-1.71zM215.6 1225.8h1.71v40.8h-1.71zM279.0 1225.8h1.71v40.8h-1.71zM662.8 1225.8h3.43v40.8h-3.43zM681.6 1225.8h1.71v40.8h-1.71zM769.0 1225.8h1.71v40.8h-1.71zM1140.8 1225.8h1.71v40.8h-1.71zM119.7 1266.6h1.71v40.8h-1.71zM227.6 1266.6h1.71v40.8h-1.71zM234.5 1266.6h1.71v40.8h-1.71zM320.1 1266.6h1.71v40.8h-1.71zM398.9 1266.6h1.71v40.8h-1.71zM402.4 1266.6h1.71v40.8h-1.71zM422.9 1266.6h1.71v40.8h-1.71zM520.6 1266.6h1.71v40.8h-1.71zM549.7 1266.6h1.71v40.8h-1.71zM990.0 1266.6h1.71v40.8h-1.71zM1108.3 1266.6h1.71v40.8h-1.71zM1175.1 1266.6h1.71v40.8h-1.71zM85.4 1307.4h1.71v40.8h-1.71zM224.2 1307.4h1.71v40.8h-1.71zM267.0 1307.4h1.71v40.8h-1.71zM282.4 1307.4h1.71v40.8h-1.71zM321.8 1307.4h1.71v40.8h-1.71zM325.3 1307.4h1.71v40.8h-1.71zM375.0 1307.4h1.71v40.8h-1.71zM858.1 1307.4h1.71v40.8h-1.71zM952.3 1307.4h1.71v40.8h-1.71zM1086.0 1307.4h1.71v40.8h-1.71zM1176.8 1307.4h1.71v40.8h-1.71zM1204.2 1307.4h1.71v40.8h-1.71zM1207.6 1307.4h1.71v40.8h-1.71zM1276.2 1307.4h1.71v40.8h-1.71zM76.8 1348.2h1.71v40.8h-1.71zM100.8 1348.2h1.71v40.8h-1.71zM165.9 1348.2h1.71v40.8h-1.71zM183.1 1348.2h1.71v40.8h-1.71zM248.2 1348.2h1.71v40.8h-1.71zM272.2 1348.2h1.71v40.8h-1.71zM344.1 1348.2h1.71v40.8h-1.71zM366.4 1348.2h1.71v40.8h-1.71zM412.6 1348.2h1.71v40.8h-1.71zM426.4 1348.2h1.71v40.8h-1.71zM462.3 1348.2h1.71v40.8h-1.71zM529.2 1348.2h1.71v40.8h-1.71zM714.2 1348.2h1.71v40.8h-1.71zM900.9 1348.2h1.71v40.8h-1.71zM919.8 1348.2h1.71v40.8h-1.71zM954.1 1348.2h1.71v40.8h-1.71zM1017.4 1348.2h1.71v40.8h-1.71zM1257.3 1348.2h1.71v40.8h-1.71zM34.0 1389.0h1.71v40.8h-1.71zM76.8 1389.0h1.71v40.8h-1.71zM152.2 1389.0h1.71v40.8h-1.71zM167.6 1389.0h1.71v40.8h-1.71zM220.8 1389.0h1.71v40.8h-1.71zM270.4 1389.0h1.71v40.8h-1.71zM301.3 1389.0h1.71v40.8h-1.71zM333.8 1389.0h1.71v40.8h-1.71zM385.2 1389.0h1.71v40.8h-1.71zM407.5 1389.0h1.71v40.8h-1.71zM443.5 1389.0h1.71v40.8h-1.71zM661.1 1389.0h1.71v40.8h-1.71zM709.0 1389.0h1.71v40.8h-1.71zM779.3 1389.0h1.71v40.8h-1.71zM853.0 1389.0h1.71v40.8h-1.71zM923.2 1389.0h1.71v40.8h-1.71zM984.9 1389.0h1.71v40.8h-1.71zM1005.5 1389.0h1.71v40.8h-1.71zM1053.4 1389.0h1.71v40.8h-1.71zM1060.3 1389.0h1.71v40.8h-1.71zM1099.7 1389.0h1.71v40.8h-1.71zM1166.5 1389.0h1.71v40.8h-1.71zM1181.9 1389.0h1.71v40.8h-1.71zM1298.4 1389.0h1.71v40.8h-1.71z"/>
<path fill="#6e9dc9" d="M460.6 409.8h1.71v40.8h-1.71zM333.8 450.6h1.71v40.8h-1.71zM438.3 491.4h1.71v40.8h-1.71zM536.0 491.4h1.71v40.8h-1.71zM268.7 532.2h1.71v40.8h-1.71zM328.7 532.2h1.71v40.8h-1.71zM565.1 532.2h1.71v40.8h-1.71zM613.1 532.2h1.71v40.8h-1.71zM743.3 532.2h1.71v40.8h-1.71zM100.8 573.0h1.71v40.8h-1.71zM570.3 573.0h1.71v40.8h-1.71zM678.2 573.0h1.71v40.8h-1.71zM126.5 613.8h1.71v40.8h-1.71zM906.1 613.8h1.71v40.8h-1.71zM909.5 613.8h1.71v40.8h-1.71zM1068.8 654.6h1.71v40.8h-1.71zM1207.6 654.6h1.71v40.8h-1.71zM1238.5 654.6h1.71v40.8h-1.71zM10.0 695.4h1.71v40.8h-1.71zM224.2 695.4h1.71v40.8h-1.71zM241.3 695.4h1.71v40.8h-1.71zM851.3 695.4h1.71v40.8h-1.71zM911.2 695.4h1.71v40.8h-1.71zM1281.3 695.4h1.71v40.8h-1.71zM844.4 736.2h1.71v40.8h-1.71zM871.8 736.2h1.71v40.8h-1.71zM882.1 736.2h1.71v40.8h-1.71zM930.1 736.2h1.71v40.8h-1.71zM952.3 736.2h1.71v40.8h-1.71zM960.9 736.2h1.71v40.8h-1.71zM1190.5 736.2h1.71v40.8h-1.71zM1204.2 736.2h1.71v40.8h-1.71zM1211.1 736.2h1.71v40.8h-1.71zM210.5 777.0h1.71v40.8h-1.71zM479.5 777.0h1.71v40.8h-1.71zM484.6 777.0h1.71v40.8h-1.71zM1024.3 777.0h1.71v40.8h-1.71zM1074.0 777.0h1.71v40.8h-1.71zM1091.1 777.0h1.71v40.8h-1.71zM1139.1 777.0h1.71v40.8h-1.71zM131.7 817.8h1.71v40.8h-1.71zM135.1 817.8h1.71v40.8h-1.71zM186.5 817.8h1.71v40.8h-1.71zM796.4 817.8h1.71v40.8h-1.71zM35.7 858.6h1.71v40.8h-1.71zM95.7 858.6h1.71v40.8h-1.71zM107.7 858.6h1.71v40.8h-1.71zM200.2 858.6h1.71v40.8h-1.71zM220.8 858.6h1.71v40.8h-1.71zM261.9 858.6h1.71v40.8h-1.71zM330.4 858.6h1.71v40.8h-1.71zM335.5 858.6h1.71v40.8h-1.71zM364.7 858.6h1.71v40.8h-1.71zM529.2 858.6h1.71v40.8h-1.71zM587.4 858.6h1.71v40.8h-1.71zM647.4 858.6h1.71v40.8h-1.71zM739.9 858.6h1.71v40.8h-1.71zM745.0 858.6h1.71v40.8h-1.71zM817.0 858.6h1.71v40.8h-1.71zM858.1 858.6h1.71v40.8h-1.71zM870.1 858.6h1.71v40.8h-1.71zM883.8 858.6h1.71v40.8h-1.71zM119.7 899.4h1.71v40.8h-1.71zM212.2 899.4h1.71v40.8h-1.71zM241.3 899.4h1.71v40.8h-1.71zM260.2 899.4h1.71v40.8h-1.71zM285.9 899.4h1.71v40.8h-1.71zM291.0 899.4h1.71v40.8h-1.71zM400.7 899.4h1.71v40.8h-1.71zM570.3 899.4h1.71v40.8h-1.71zM841.0 899.4h1.71v40.8h-1.71zM844.4 899.4h3.43v40.8h-3.43zM871.8 899.4h1.71v40.8h-1.71zM1046.6 899.4h1.71v40.8h-1.71zM1178.5 899.4h3.43v40.8h-3.43zM1240.2 899.4h1.71v40.8h-1.71zM107.7 940.2h1.71v40.8h-1.71zM124.8 940.2h1.71v40.8h-1.71zM294.4 940.2h1.71v40.8h-1.71zM465.8 940.2h1.71v40.8h-1.71zM489.7 940.2h1.71v40.8h-1.71zM955.8 940.2h1.71v40.8h-1.71zM1019.2 940.2h3.43v40.8h-3.43zM662.8 981.0h1.71v40.8h-1.71zM152.2 1021.8h1.71v40.8h-1.71zM165.9 1021.8h1.71v40.8h-1.71zM176.2 1021.8h1.71v40.8h-1.71zM232.7 1021.8h1.71v40.8h-1.71zM248.2 1021.8h1.71v40.8h-1.71zM256.7 1021.8h1.71v40.8h-1.71zM337.3 1021.8h1.71v40.8h-1.71zM422.9 1021.8h1.71v40.8h-1.71zM462.3 1021.8h1.71v40.8h-1.71zM510.3 1021.8h1.71v40.8h-1.71zM676.5 1021.8h1.71v40.8h-1.71zM703.9 1021.8h1.71v40.8h-1.71zM722.8 1021.8h1.71v40.8h-1.71zM741.6 1021.8h1.71v40.8h-1.71zM1252.2 1021.8h1.71v40.8h-1.71zM25.4 1062.6h1.71v40.8h-1.71zM231.0 1062.6h1.71v40.8h-1.71zM698.8 1062.6h1.71v40.8h-1.71zM726.2 1062.6h1.71v40.8h-1.71zM738.2 1062.6h1.71v40.8h-1.71zM781.0 1062.6h1.71v40.8h-1.71zM789.6 1062.6h1.71v40.8h-1.71zM822.1 1062.6h1.71v40.8h-1.71zM700.5 1103.4h1.71v40.8h-1.71zM829.0 1103.4h1.71v40.8h-1.71zM160.8 1144.2h1.71v40.8h-1.71zM203.6 1144.2h1.71v40.8h-1.71zM340.7 1144.2h1.71v40.8h-1.71zM501.7 1144.2h1.71v40.8h-1.71zM654.2 1144.2h1.71v40.8h-1.71zM815.3 1144.2h1.71v40.8h-1.71zM1118.5 1144.2h3.43v40.8h-3.43zM1199.1 1144.2h1.71v40.8h-1.71zM58.0 1185.0h1.71v40.8h-1.71zM114.5 1185.0h1.71v40.8h-1.71zM131.7 1185.0h1.71v40.8h-1.71zM172.8 1185.0h1.71v40.8h-1.71zM186.5 1185.0h1.71v40.8h-1.71zM217.3 1185.0h1.71v40.8h-1.71zM225.9 1185.0h1.71v40.8h-1.71zM532.6 1185.0h1.71v40.8h-1.71zM678.2 1185.0h1.71v40.8h-1.71zM700.5 1185.0h3.43v40.8h-3.43zM722.8 1185.0h1.71v40.8h-1.71zM757.0 1185.0h1.71v40.8h-1.71zM817.0 1185.0h1.71v40.8h-1.71zM832.4 1185.0h1.71v40.8h-1.71zM842.7 1185.0h1.71v40.8h-1.71zM1176.8 1185.0h1.71v40.8h-1.71zM1240.2 1185.0h3.43v40.8h-3.43zM1255.6 1185.0h1.71v40.8h-1.71zM73.4 1225.8h1.71v40.8h-1.71zM109.4 1225.8h1.71v40.8h-1.71zM114.5 1225.8h1.71v40.8h-1.71zM128.2 1225.8h3.43v40.8h-3.43zM159.1 1225.8h1.71v40.8h-1.71zM201.9 1225.8h1.71v40.8h-1.71zM219.0 1225.8h3.43v40.8h-3.43zM505.2 1225.8h1.71v40.8h-1.71zM741.6 1225.8h1.71v40.8h-1.71zM786.1 1225.8h1.71v40.8h-1.71zM811.8 1225.8h1.71v40.8h-1.71zM88.8 1266.6h1.71v40.8h-1.71zM106.0 1266.6h1.71v40.8h-1.71zM160.8 1266.6h1.71v40.8h-1.71zM279.0 1266.6h1.71v40.8h-1.71zM390.4 1266.6h1.71v40.8h-1.71zM400.7 1266.6h1.71v40.8h-1.71zM410.9 1266.6h1.71v40.8h-1.71zM458.9 1266.6h1.71v40.8h-1.71zM489.7 1266.6h1.71v40.8h-1.71zM494.9 1266.6h1.71v40.8h-1.71zM608.0 1266.6h1.71v40.8h-1.71zM796.4 1266.6h1.71v40.8h-1.71zM964.3 1266.6h1.71v40.8h-1.71zM1091.1 1266.6h1.71v40.8h-1.71zM1115.1 1266.6h1.71v40.8h-1.71zM1140.8 1266.6h1.71v40.8h-1.71zM1147.7 1266.6h1.71v40.8h-1.71zM1217.9 1266.6h1.71v40.8h-1.71zM1236.8 1266.6h1.71v40.8h-1.71zM128.2 1307.4h1.71v40.8h-1.71zM207.0 1307.4h1.71v40.8h-1.71zM222.5 1307.4h1.71v40.8h-1.71zM273.9 1307.4h1.71v40.8h-1.71zM277.3 1307.4h1.71v40.8h-1.71zM320.1 1307.4h1.71v40.8h-1.71zM333.8 1307.4h3.43v40.8h-3.43zM715.9 1307.4h1.71v40.8h-1.71zM731.3 1307.4h1.71v40.8h-1.71zM741.6 1307.4h1.71v40.8h-1.71zM849.5 1307.4h1.71v40.8h-1.71zM1053.4 1307.4h1.71v40.8h-1.71zM1087.7 1307.4h1.71v40.8h-1.71zM1175.1 1307.4h1.71v40.8h-1.71zM27.1 1348.2h1.71v40.8h-1.71zM71.7 1348.2h1.71v40.8h-1.71zM201.9 1348.2h1.71v40.8h-1.71zM267.0 1348.2h1.71v40.8h-1.71zM273.9 1348.2h1.71v40.8h-1.71zM280.7 1348.2h1.71v40.8h-1.71zM304.7 1348.2h1.71v40.8h-1.71zM316.7 1348.2h1.71v40.8h-1.71zM333.8 1348.2h1.71v40.8h-1.71zM410.9 1348.2h1.71v40.8h-1.71zM429.8 1348.2h1.71v40.8h-1.71zM505.2 1348.2h1.71v40.8h-1.71zM923.2 1348.2h1.71v40.8h-1.71zM938.6 1348.2h1.71v40.8h-1.71zM957.5 1348.2h1.71v40.8h-1.71zM983.2 1348.2h1.71v40.8h-1.71zM995.2 1348.2h1.71v40.8h-1.71zM1038.0 1348.2h1.71v40.8h-1.71zM1068.8 1348.2h1.71v40.8h-1.71zM1087.7 1348.2h1.71v40.8h-1.71zM1122.0 1348.2h1.71v40.8h-1.71zM1139.1 1348.2h1.71v40.8h-1.71zM1163.1 1348.2h1.71v40.8h-1.71zM1192.2 1348.2h1.71v40.8h-1.71zM1241.9 1348.2h1.71v40.8h-1.71zM1252.2 1348.2h1.71v40.8h-1.71zM20.3 1389.0h1.71v40.8h-1.71zM49.4 1389.0h1.71v40.8h-1.71zM94.0 1389.0h1.71v40.8h-1.71zM159.1 1389.0h1.71v40.8h-1.71zM236.2 1389.0h1.71v40.8h-1.71zM364.7 1389.0h1.71v40.8h-1.71zM404.1 1389.0h1.71v40.8h-1.71zM491.5 1389.0h1.71v40.8h-1.71zM501.7 1389.0h1.71v40.8h-1.71zM796.4 1389.0h1.71v40.8h-1.71zM888.9 1389.0h1.71v40.8h-1.71zM971.2 1389.0h1.71v40.8h-1.71zM1032.9 1389.0h1.71v40.8h-1.71zM1122.0 1389.0h1.71v40.8h-1.71zM1130.5 1389.0h1.71v40.8h-1.71zM1152.8 1389.0h1.71v40.8h-1.71zM1226.5 1389.0h1.71v40.8h-1.71zM1271.0 1389.0h1.71v40.8h-1.71z"/>
<path fill="#73a2cc" d="M892.4 369.0h1.71v40.8h-1.71zM112.8 409.8h1.71v40.8h-1.71zM267.0 450.6h1.71v40.8h-1.71zM279.0 450.6h1.71v40.8h-1.71zM294.4 450.6h1.71v40.8h-1.71zM1032.9 450.6h1.71v40.8h-1.71zM542.9 491.4h1.71v40.8h-1.71zM590.8 491.4h1.71v40.8h-1.71zM287.6 532.2h1.71v40.8h-1.71zM568.6 532.2h1.71v40.8h-1.71zM597.7 532.2h1.71v40.8h-1.71zM618.2 532.2h1.71v40.8h-1.71zM647.4 532.2h1.71v40.8h-1.71zM654.2 532.2h1.71v40.8h-1.71zM669.6 532.2h1.71v40.8h-1.71zM806.7 532.2h1.71v40.8h-1.71zM839.3 532.2h1.71v40.8h-1.71zM280.7 573.0h1.71v40.8h-1.71zM635.4 573.0h1.71v40.8h-1.71zM649.1 573.0h1.71v40.8h-1.71zM811.8 573.0h1.71v40.8h-1.71zM1277.9 654.6h1.71v40.8h-1.71zM42.6 695.4h1.71v40.8h-1.71zM219.0 695.4h1.71v40.8h-1.71zM561.7 695.4h1.71v40.8h-1.71zM858.1 695.4h3.43v40.8h-3.43zM1002.0 695.4h1.71v40.8h-1.71zM858.1 736.2h1.71v40.8h-1.71zM890.7 736.2h1.71v40.8h-1.71zM921.5 736.2h1.71v40.8h-1.71zM928.4 736.2h1.71v40.8h-1.71zM955.8 736.2h1.71v40.8h-1.71zM1008.9 736.2h1.71v40.8h-1.71zM1180.2 736.2h1.71v40.8h-1.71zM37.4 777.0h1.71v40.8h-1.71zM119.7 777.0h1.71v40.8h-1.71zM126.5 777.0h1.71v40.8h-1.71zM165.9 777.0h1.71v40.8h-1.71zM207.0 777.0h1.71v40.8h-1.71zM400.7 777.0h1.71v40.8h-1.71zM863.2 777.0h1.71v40.8h-1.71zM1058.6 777.0h1.71v40.8h-1.71zM1079.1 777.0h1.71v40.8h-1.71zM1120.2 777.0h1.71v40.8h-1.71zM1134.0 777.0h1.71v40.8h-1.71zM1178.5 777.0h1.71v40.8h-1.71zM25.4 817.8h1.71v40.8h-1.71zM44.3 817.8h1.71v40.8h-1.71zM734.7 817.8h1.71v40.8h-1.71zM793.0 817.8h1.71v40.8h-1.71zM54.6 858.6h1.71v40.8h-1.71zM88.8 858.6h1.71v40.8h-1.71zM160.8 858.6h1.71v40.8h-1.71zM193.3 858.6h1.71v40.8h-1.71zM568.6 858.6h1.71v40.8h-1.71zM635.4 858.6h1.71v40.8h-1.71zM638.8 858.6h3.43v40.8h-3.43zM676.5 858.6h1.71v40.8h-1.71zM811.8 858.6h1.71v40.8h-1.71zM1110.0 858.6h1.71v40.8h-1.71zM40.9 899.4h1.71v40.8h-1.71zM54.6 899.4h1.71v40.8h-1.71zM78.5 899.4h1.71v40.8h-1.71zM210.5 899.4h1.71v40.8h-1.71zM253.3 899.4h1.71v40.8h-1.71zM265.3 899.4h1.71v40.8h-1.71zM287.6 899.4h1.71v40.8h-1.71zM321.8 899.4h1.71v40.8h-1.71zM351.0 899.4h1.71v40.8h-1.71zM380.1 899.4h1.71v40.8h-1.71zM419.5 899.4h1.71v40.8h-1.71zM450.3 899.4h1.71v40.8h-1.71zM458.9 899.4h1.71v40.8h-1.71zM491.5 899.4h1.71v40.8h-1.71zM494.9 899.4h1.71v40.8h-1.71zM506.9 899.4h1.71v40.8h-1.71zM577.1 899.4h1.71v40.8h-1.71zM587.4 899.4h1.71v40.8h-1.71zM604.5 899.4h1.71v40.8h-1.71zM837.5 899.4h1.71v40.8h-1.71zM854.7 899.4h1.71v40.8h-1.71zM877.0 899.4h1.71v40.8h-1.71zM1089.4 899.4h1.71v40.8h-1.71zM1101.4 899.4h1.71v40.8h-1.71zM100.8 940.2h1.71v40.8h-1.71zM291.0 940.2h1.71v40.8h-1.71zM311.6 940.2h1.71v40.8h-1.71zM477.8 940.2h1.71v40.8h-1.71zM500.0 940.2h1.71v40.8h-1.71zM950.6 940.2h1.71v40.8h-1.71zM733.0 981.0h1.71v40.8h-1.71zM762.2 981.0h1.71v40.8h-1.71zM70.0 1021.8h1.71v40.8h-1.71zM111.1 1021.8h1.71v40.8h-1.71zM118.0 1021.8h1.71v40.8h-1.71zM141.9 1021.8h1.71v40.8h-1.71zM167.6 1021.8h1.71v40.8h-1.71zM177.9 1021.8h1.71v40.8h-1.71zM201.9 1021.8h1.71v40.8h-1.71zM345.8 1021.8h3.43v40.8h-3.43zM556.6 1021.8h1.71v40.8h-1.71zM602.8 1021.8h1.71v40.8h-1.71zM633.7 1021.8h1.71v40.8h-1.71zM637.1 1021.8h1.71v40.8h-1.71zM657.6 1021.8h3.43v40.8h-3.43zM678.2 1021.8h1.71v40.8h-1.71zM710.8 1021.8h1.71v40.8h-1.71zM767.3 1021.8h1.71v40.8h-1.71zM1255.6 1021.8h1.71v40.8h-1.71zM1269.3 1021.8h1.71v40.8h-1.71zM1277.9 1021.8h1.71v40.8h-1.71zM39.1 1062.6h1.71v40.8h-1.71zM64.8 1062.6h1.71v40.8h-1.71zM157.4 1062.6h1.71v40.8h-1.71zM666.2 1062.6h1.71v40.8h-1.71zM786.1 1062.6h1.71v40.8h-1.71zM799.9 1062.6h1.71v40.8h-1.71zM1250.5 1062.6h1.71v40.8h-1.71zM1253.9 1062.6h1.71v40.8h-1.71zM1271.0 1062.6h1.71v40.8h-1.71zM750.2 1103.4h3.43v40.8h-3.43zM758.7 1103.4h1.71v40.8h-1.71zM227.6 1144.2h1.71v40.8h-1.71zM330.4 1144.2h1.71v40.8h-1.71zM525.7 1144.2h1.71v40.8h-1.71zM657.6 1144.2h1.71v40.8h-1.71zM1197.3 1144.2h1.71v40.8h-1.71zM1205.9 1144.2h1.71v40.8h-1.71zM13.4 1185.0h1.71v40.8h-1.71zM22.0 1185.0h1.71v40.8h-1.71zM27.1 1185.0h1.71v40.8h-1.71zM381.8 1185.0h1.71v40.8h-1.71zM775.9 1185.0h1.71v40.8h-1.71zM1188.8 1185.0h3.43v40.8h-3.43zM1199.1 1185.0h1.71v40.8h-1.71zM1253.9 1185.0h1.71v40.8h-1.71zM1272.7 1185.0h1.71v40.8h-1.71zM34.0 1225.8h1.71v40.8h-1.71zM64.8 1225.8h1.71v40.8h-1.71zM68.3 1225.8h1.71v40.8h-1.71zM104.2 1225.8h1.71v40.8h-1.71zM116.2 1225.8h1.71v40.8h-1.71zM213.9 1225.8h1.71v40.8h-1.71zM253.3 1225.8h1.71v40.8h-1.71zM297.9 1225.8h1.71v40.8h-1.71zM666.2 1225.8h1.71v40.8h-1.71zM817.0 1225.8h1.71v40.8h-1.71zM835.8 1225.8h1.71v40.8h-1.71zM1211.1 1225.8h1.71v40.8h-1.71zM1235.0 1225.8h1.71v40.8h-1.71zM1265.9 1225.8h1.71v40.8h-1.71zM1276.2 1225.8h1.71v40.8h-1.71zM70.0 1266.6h1.71v40.8h-1.71zM133.4 1266.6h1.71v40.8h-1.71zM169.4 1266.6h1.71v40.8h-1.71zM215.6 1266.6h1.71v40.8h-1.71zM236.2 1266.6h1.71v40.8h-1.71zM378.4 1266.6h3.43v40.8h-3.43zM395.5 1266.6h1.71v40.8h-1.71zM424.6 1266.6h1.71v40.8h-1.71zM524.0 1266.6h1.71v40.8h-1.71zM527.4 1266.6h1.71v40.8h-1.71zM532.6 1266.6h1.71v40.8h-1.71zM536.0 1266.6h1.71v40.8h-1.71zM546.3 1266.6h1.71v40.8h-1.71zM563.4 1266.6h1.71v40.8h-1.71zM637.1 1266.6h1.71v40.8h-1.71zM763.9 1266.6h1.71v40.8h-1.71zM912.9 1266.6h1.71v40.8h-1.71zM974.6 1266.6h1.71v40.8h-1.71zM1089.4 1266.6h1.71v40.8h-1.71zM1197.3 1266.6h1.71v40.8h-1.71zM1279.6 1266.6h1.71v40.8h-1.71zM71.7 1307.4h1.71v40.8h-1.71zM184.8 1307.4h1.71v40.8h-1.71zM203.6 1307.4h1.71v40.8h-1.71zM256.7 1307.4h1.71v40.8h-1.71zM398.9 1307.4h1.71v40.8h-1.71zM772.4 1307.4h1.71v40.8h-1.71zM899.2 1307.4h1.71v40.8h-1.71zM1034.6 1307.4h1.71v40.8h-1.71zM1038.0 1307.4h1.71v40.8h-1.71zM1152.8 1307.4h1.71v40.8h-1.71zM1180.2 1307.4h1.71v40.8h-1.71zM25.4 1348.2h1.71v40.8h-1.71zM417.8 1348.2h1.71v40.8h-1.71zM537.7 1348.2h1.71v40.8h-1.71zM676.5 1348.2h1.71v40.8h-1.71zM846.1 1348.2h3.43v40.8h-3.43zM875.2 1348.2h1.71v40.8h-1.71zM933.5 1348.2h1.71v40.8h-1.71zM940.3 1348.2h1.71v40.8h-1.71zM955.8 1348.2h1.71v40.8h-1.71zM1026.0 1348.2h1.71v40.8h-1.71zM1098.0 1348.2h1.71v40.8h-1.71zM1101.4 1348.2h1.71v40.8h-1.71zM1171.6 1348.2h1.71v40.8h-1.71zM23.7 1389.0h1.71v40.8h-1.71zM99.1 1389.0h1.71v40.8h-1.71zM291.0 1389.0h1.71v40.8h-1.71zM320.1 1389.0h1.71v40.8h-1.71zM541.1 1389.0h1.71v40.8h-1.71zM700.5 1389.0h1.71v40.8h-1.71zM907.8 1389.0h1.71v40.8h-1.71zM919.8 1389.0h1.71v40.8h-1.71zM1003.7 1389.0h1.71v40.8h-1.71zM1211.1 1389.0h1.71v40.8h-1.71z"/>
<path fill="#78a6ce" d="M883.8 369.0h1.71v40.8h-1.71zM458.9 409.8h1.71v40.8h-1.71zM1111.7 409.8h1.71v40.8h-1.71zM275.6 450.6h1.71v40.8h-1.71zM1048.3 450.6h1.71v40.8h-1.71zM548.0 491.4h1.71v40.8h-1.71zM315.0 532.2h1.71v40.8h-1.71zM614.8 532.2h1.71v40.8h-1.71zM738.2 532.2h1.71v40.8h-1.71zM321.8 573.0h1.71v40.8h-1.71zM606.3 573.0h1.71v40.8h-1.71zM652.5 573.0h1.71v40.8h-1.71zM763.9 573.0h1.71v40.8h-1.71zM827.3 573.0h1.71v40.8h-1.71zM856.4 613.8h1.71v40.8h-1.71zM880.4 654.6h1.71v40.8h-1.71zM1034.6 654.6h1.71v40.8h-1.71zM1039.7 654.6h1.71v40.8h-1.71zM1193.9 654.6h1.71v40.8h-1.71zM131.7 695.4h1.71v40.8h-1.71zM217.3 695.4h1.71v40.8h-1.71zM556.6 695.4h1.71v40.8h-1.71zM909.5 695.4h1.71v40.8h-1.71zM1029.4 695.4h1.71v40.8h-1.71zM1058.6 695.4h1.71v40.8h-1.71zM894.1 736.2h1.71v40.8h-1.71zM954.1 736.2h1.71v40.8h-1.71zM1164.8 736.2h1.71v40.8h-1.71zM104.2 777.0h1.71v40.8h-1.71zM109.4 777.0h1.71v40.8h-1.71zM123.1 777.0h1.71v40.8h-1.71zM133.4 777.0h1.71v40.8h-1.71zM296.1 777.0h1.71v40.8h-1.71zM431.5 777.0h1.71v40.8h-1.71zM873.5 777.0h1.71v40.8h-1.71zM912.9 777.0h1.71v40.8h-1.71zM959.2 777.0h1.71v40.8h-1.71zM984.9 777.0h1.71v40.8h-1.71zM1166.5 777.0h1.71v40.8h-1.71zM1199.1 777.0h1.71v40.8h-1.71zM1214.5 777.0h1.71v40.8h-1.71zM1228.2 777.0h1.71v40.8h-1.71zM40.9 817.8h3.43v40.8h-3.43zM59.7 817.8h1.71v40.8h-1.71zM126.5 817.8h1.71v40.8h-1.71zM181.3 817.8h1.71v40.8h-1.71zM565.1 817.8h1.71v40.8h-1.71zM572.0 817.8h1.71v40.8h-1.71zM798.1 817.8h1.71v40.8h-1.71zM870.1 817.8h1.71v40.8h-1.71zM1181.9 817.8h1.71v40.8h-1.71zM1185.4 817.8h1.71v40.8h-1.71zM61.4 858.6h1.71v40.8h-1.71zM66.6 858.6h1.71v40.8h-1.71zM78.5 858.6h1.71v40.8h-1.71zM210.5 858.6h1.71v40.8h-1.71zM255.0 858.6h3.43v40.8h-3.43zM280.7 858.6h1.71v40.8h-1.71zM340.7 858.6h1.71v40.8h-1.71zM385.2 858.6h1.71v40.8h-1.71zM614.8 858.6h1.71v40.8h-1.71zM666.2 858.6h1.71v40.8h-1.71zM671.4 858.6h1.71v40.8h-1.71zM789.6 858.6h1.71v40.8h-1.71zM793.0 858.6h1.71v40.8h-1.71zM1118.5 858.6h1.71v40.8h-1.71zM37.4 899.4h1.71v40.8h-1.71zM42.6 899.4h1.71v40.8h-1.71zM59.7 899.4h1.71v40.8h-1.71zM174.5 899.4h1.71v40.8h-1.71zM256.7 899.4h1.71v40.8h-1.71zM294.4 899.4h1.71v40.8h-1.71zM311.6 899.4h1.71v40.8h-1.71zM330.4 899.4h1.71v40.8h-1.71zM440.1 899.4h1.71v40.8h-1.71zM446.9 899.4h1.71v40.8h-1.71zM470.9 899.4h1.71v40.8h-1.71zM549.7 899.4h1.71v40.8h-1.71zM558.3 899.4h1.71v40.8h-1.71zM618.2 899.4h1.71v40.8h-1.71zM645.7 899.4h1.71v40.8h-1.71zM650.8 899.4h1.71v40.8h-1.71zM662.8 899.4h1.71v40.8h-1.71zM772.4 899.4h1.71v40.8h-1.71zM779.3 899.4h1.71v40.8h-1.71zM849.5 899.4h1.71v40.8h-1.71zM287.6 940.2h1.71v40.8h-1.71zM309.8 940.2h1.71v40.8h-1.71zM390.4 940.2h1.71v40.8h-1.71zM928.4 940.2h1.71v40.8h-1.71zM1277.9 940.2h1.71v40.8h-1.71zM760.4 981.0h1.71v40.8h-1.71zM818.7 981.0h1.71v40.8h-1.71zM27.1 1021.8h1.71v40.8h-1.71zM126.5 1021.8h1.71v40.8h-1.71zM189.9 1021.8h1.71v40.8h-1.71zM244.7 1021.8h1.71v40.8h-1.71zM268.7 1021.8h3.43v40.8h-3.43zM284.1 1021.8h1.71v40.8h-1.71zM349.3 1021.8h1.71v40.8h-1.71zM421.2 1021.8h1.71v40.8h-1.71zM585.7 1021.8h1.71v40.8h-1.71zM738.2 1021.8h1.71v40.8h-1.71zM743.3 1021.8h1.71v40.8h-1.71zM777.6 1021.8h1.71v40.8h-1.71zM1262.5 1062.6h1.71v40.8h-1.71zM717.6 1103.4h1.71v40.8h-1.71zM781.0 1103.4h1.71v40.8h-1.71zM825.6 1103.4h1.71v40.8h-1.71zM1255.6 1103.4h1.71v40.8h-1.71zM205.3 1144.2h1.71v40.8h-1.71zM248.2 1144.2h1.71v40.8h-1.71zM335.5 1144.2h1.71v40.8h-1.71zM486.3 1144.2h1.71v40.8h-1.71zM830.7 1144.2h1.71v40.8h-1.71zM839.3 1144.2h1.71v40.8h-1.71zM1193.9 1144.2h1.71v40.8h-1.71zM1271.0 1144.2h1.71v40.8h-1.71zM15.2 1185.0h1.71v40.8h-1.71zM35.7 1185.0h1.71v40.8h-1.71zM201.9 1185.0h3.43v40.8h-3.43zM277.3 1185.0h1.71v40.8h-1.71zM536.0 1185.0h1.71v40.8h-1.71zM662.8 1185.0h1.71v40.8h-1.71zM731.3 1185.0h1.71v40.8h-1.71zM772.4 1185.0h1.71v40.8h-1.71zM829.0 1185.0h1.71v40.8h-1.71zM1245.3 1185.0h3.43v40.8h-3.43zM1284.7 1185.0h1.71v40.8h-1.71zM1288.2 1185.0h1.71v40.8h-1.71zM167.6 1225.8h3.43v40.8h-3.43zM191.6 1225.8h1.71v40.8h-1.71zM212.2 1225.8h1.71v40.8h-1.71zM294.4 1225.8h1.71v40.8h-1.71zM522.3 1225.8h1.71v40.8h-1.71zM746.7 1225.8h1.71v40.8h-1.71zM1144.2 1225.8h1.71v40.8h-1.71zM1233.3 1225.8h1.71v40.8h-1.71zM1243.6 1225.8h1.71v40.8h-1.71zM30.6 1266.6h1.71v40.8h-1.71zM375.0 1266.6h1.71v40.8h-1.71zM691.9 1266.6h1.71v40.8h-1.71zM722.8 1266.6h1.71v40.8h-1.71zM741.6 1266.6h1.71v40.8h-1.71zM791.3 1266.6h1.71v40.8h-1.71zM1200.8 1266.6h1.71v40.8h-1.71zM133.4 1307.4h1.71v40.8h-1.71zM285.9 1307.4h1.71v40.8h-1.71zM301.3 1307.4h1.71v40.8h-1.71zM357.8 1307.4h1.71v40.8h-1.71zM388.7 1307.4h1.71v40.8h-1.71zM530.9 1307.4h1.71v40.8h-1.71zM662.8 1307.4h1.71v40.8h-1.71zM666.2 1307.4h1.71v40.8h-1.71zM721.0 1307.4h1.71v40.8h-1.71zM779.3 1307.4h1.71v40.8h-1.71zM1043.1 1307.4h1.71v40.8h-1.71zM1252.2 1307.4h1.71v40.8h-1.71zM70.0 1348.2h1.71v40.8h-1.71zM277.3 1348.2h1.71v40.8h-1.71zM287.6 1348.2h1.71v40.8h-1.71zM337.3 1348.2h1.71v40.8h-1.71zM407.5 1348.2h1.71v40.8h-1.71zM436.6 1348.2h1.71v40.8h-1.71zM897.5 1348.2h1.71v40.8h-1.71zM914.6 1348.2h1.71v40.8h-1.71zM1012.3 1348.2h1.71v40.8h-1.71zM1062.0 1348.2h1.71v40.8h-1.71zM1077.4 1348.2h1.71v40.8h-1.71zM1144.2 1348.2h1.71v40.8h-1.71zM1154.5 1348.2h1.71v40.8h-1.71zM1164.8 1348.2h1.71v40.8h-1.71zM1169.9 1348.2h1.71v40.8h-1.71zM1185.4 1348.2h1.71v40.8h-1.71zM1212.8 1348.2h1.71v40.8h-1.71zM1219.6 1348.2h1.71v40.8h-1.71zM1260.7 1348.2h1.71v40.8h-1.71zM1272.7 1348.2h1.71v40.8h-1.71zM1281.3 1348.2h1.71v40.8h-1.71zM18.6 1389.0h1.71v40.8h-1.71zM28.9 1389.0h1.71v40.8h-1.71zM51.1 1389.0h1.71v40.8h-1.71zM200.2 1389.0h1.71v40.8h-1.71zM203.6 1389.0h1.71v40.8h-1.71zM227.6 1389.0h1.71v40.8h-1.71zM246.5 1389.0h1.71v40.8h-1.71zM359.5 1389.0h1.71v40.8h-1.71zM380.1 1389.0h1.71v40.8h-1.71zM386.9 1389.0h1.71v40.8h-1.71zM431.5 1389.0h1.71v40.8h-1.71zM477.8 1389.0h1.71v40.8h-1.71zM733.0 1389.0h1.71v40.8h-1.71zM772.4 1389.0h1.71v40.8h-1.71zM1012.3 1389.0h1.71v40.8h-1.71zM1077.4 1389.0h1.71v40.8h-1.71zM1111.7 1389.0h1.71v40.8h-1.71zM1116.8 1389.0h1.71v40.8h-1.71zM1127.1 1389.0h3.43v40.8h-3.43zM1178.5 1389.0h1.71v40.8h-1.71zM1216.2 1389.0h1.71v40.8h-1.71z"/>
<path fill="#7cabd0" d="M947.2 369.0h1.71v40.8h-1.71zM1104.8 409.8h1.71v40.8h-1.71zM265.3 450.6h1.71v40.8h-1.71zM515.4 532.2h1.71v40.8h-1.71zM585.7 532.2h1.71v40.8h-1.71zM273.9 573.0h1.71v40.8h-1.71zM572.0 573.0h1.71v40.8h-1.71zM590.8 573.0h1.71v40.8h-1.71zM758.7 573.0h1.71v40.8h-1.71zM810.1 573.0h1.71v40.8h-1.71zM900.9 613.8h1.71v40.8h-1.71zM904.4 613.8h1.71v40.8h-1.71zM1015.7 654.6h1.71v40.8h-1.71zM1164.8 654.6h1.71v40.8h-1.71zM1188.8 654.6h1.71v40.8h-1.71zM736.5 695.4h1.71v40.8h-1.71zM1024.3 695.4h1.71v40.8h-1.71zM1056.9 695.4h1.71v40.8h-1.71zM1284.7 695.4h1.71v40.8h-1.71zM241.3 777.0h1.71v40.8h-1.71zM517.2 777.0h1.71v40.8h-1.71zM829.0 777.0h1.71v40.8h-1.71zM882.1 777.0h1.71v40.8h-1.71zM930.1 777.0h1.71v40.8h-1.71zM950.6 777.0h1.71v40.8h-1.71zM1067.1 777.0h1.71v40.8h-1.71zM1144.2 777.0h1.71v40.8h-1.71zM1159.7 777.0h1.71v40.8h-1.71zM1231.6 777.0h3.43v40.8h-3.43zM1267.6 777.0h1.71v40.8h-1.71zM80.3 817.8h1.71v40.8h-1.71zM106.0 817.8h1.71v40.8h-1.71zM196.8 817.8h1.71v40.8h-1.71zM344.1 817.8h1.71v40.8h-1.71zM745.0 817.8h1.71v40.8h-1.71zM835.8 817.8h1.71v40.8h-1.71zM842.7 817.8h1.71v40.8h-1.71zM1180.2 817.8h1.71v40.8h-1.71zM1250.5 817.8h1.71v40.8h-1.71zM1255.6 817.8h1.71v40.8h-1.71zM10.0 858.6h1.71v40.8h-1.71zM15.2 858.6h1.71v40.8h-1.71zM56.3 858.6h1.71v40.8h-1.71zM153.9 858.6h1.71v40.8h-1.71zM162.5 858.6h1.71v40.8h-1.71zM347.5 858.6h1.71v40.8h-1.71zM378.4 858.6h1.71v40.8h-1.71zM488.0 858.6h1.71v40.8h-1.71zM662.8 858.6h1.71v40.8h-1.71zM779.3 858.6h1.71v40.8h-1.71zM786.1 858.6h1.71v40.8h-1.71zM803.3 858.6h1.71v40.8h-1.71zM815.3 858.6h1.71v40.8h-1.71zM834.1 858.6h1.71v40.8h-1.71zM880.4 858.6h1.71v40.8h-1.71zM1106.5 858.6h1.71v40.8h-1.71zM109.4 899.4h1.71v40.8h-1.71zM205.3 899.4h1.71v40.8h-1.71zM237.9 899.4h1.71v40.8h-1.71zM258.4 899.4h1.71v40.8h-1.71zM337.3 899.4h1.71v40.8h-1.71zM441.8 899.4h3.43v40.8h-3.43zM448.6 899.4h1.71v40.8h-1.71zM630.2 899.4h1.71v40.8h-1.71zM832.4 899.4h1.71v40.8h-1.71zM1173.4 899.4h1.71v40.8h-1.71zM119.7 940.2h1.71v40.8h-1.71zM265.3 940.2h1.71v40.8h-1.71zM407.5 940.2h1.71v40.8h-1.71zM1022.6 940.2h1.71v40.8h-1.71zM820.4 981.0h1.71v40.8h-1.71zM1264.2 981.0h1.71v40.8h-1.71zM39.1 1021.8h1.71v40.8h-1.71zM87.1 1021.8h1.71v40.8h-1.71zM102.5 1021.8h1.71v40.8h-1.71zM159.1 1021.8h1.71v40.8h-1.71zM191.6 1021.8h1.71v40.8h-1.71zM198.5 1021.8h1.71v40.8h-1.71zM320.1 1021.8h1.71v40.8h-1.71zM381.8 1021.8h1.71v40.8h-1.71zM424.6 1021.8h1.71v40.8h-1.71zM446.9 1021.8h1.71v40.8h-1.71zM464.0 1021.8h1.71v40.8h-1.71zM477.8 1021.8h1.71v40.8h-1.71zM570.3 1021.8h1.71v40.8h-1.71zM580.6 1021.8h1.71v40.8h-1.71zM650.8 1021.8h1.71v40.8h-1.71zM664.5 1021.8h1.71v40.8h-1.71zM727.9 1021.8h1.71v40.8h-1.71zM765.6 1021.8h1.71v40.8h-1.71zM779.3 1021.8h1.71v40.8h-1.71zM798.1 1021.8h1.71v40.8h-1.71zM219.0 1062.6h1.71v40.8h-1.71zM225.9 1062.6h1.71v40.8h-1.71zM229.3 1062.6h1.71v40.8h-1.71zM777.6 1062.6h1.71v40.8h-1.71zM782.7 1062.6h1.71v40.8h-1.71zM806.7 1062.6h1.71v40.8h-1.71zM714.2 1103.4h1.71v40.8h-1.71zM729.6 1103.4h1.71v40.8h-1.71zM782.7 1103.4h1.71v40.8h-1.71zM837.5 1103.4h1.71v40.8h-1.71zM1176.8 1103.4h1.71v40.8h-1.71zM10.0 1144.2h1.71v40.8h-1.71zM140.2 1144.2h1.71v40.8h-1.71zM267.0 1144.2h1.71v40.8h-1.71zM453.8 1144.2h1.71v40.8h-1.71zM458.9 1144.2h1.71v40.8h-1.71zM469.2 1144.2h1.71v40.8h-1.71zM513.7 1144.2h1.71v40.8h-1.71zM659.4 1144.2h1.71v40.8h-1.71zM787.9 1144.2h1.71v40.8h-1.71zM1265.9 1144.2h3.43v40.8h-3.43zM198.5 1185.0h1.71v40.8h-1.71zM618.2 1185.0h1.71v40.8h-1.71zM625.1 1185.0h1.71v40.8h-1.71zM717.6 1185.0h1.71v40.8h-1.71zM733.0 1185.0h1.71v40.8h-1.71zM745.0 1185.0h1.71v40.8h-1.71zM748.5 1185.0h1.71v40.8h-1.71zM799.9 1185.0h1.71v40.8h-1.71zM1195.6 1185.0h1.71v40.8h-1.71zM1259.0 1185.0h1.71v40.8h-1.71zM1286.4 1185.0h1.71v40.8h-1.71zM11.7 1225.8h1.71v40.8h-1.71zM140.2 1225.8h3.43v40.8h-3.43zM164.2 1225.8h1.71v40.8h-1.71zM174.5 1225.8h1.71v40.8h-1.71zM239.6 1225.8h1.71v40.8h-1.71zM248.2 1225.8h1.71v40.8h-1.71zM289.3 1225.8h1.71v40.8h-1.71zM472.6 1225.8h1.71v40.8h-1.71zM476.0 1225.8h1.71v40.8h-1.71zM650.8 1225.8h1.71v40.8h-1.71zM798.1 1225.8h1.71v40.8h-1.71zM412.6 1266.6h1.71v40.8h-1.71zM419.5 1266.6h1.71v40.8h-1.71zM460.6 1266.6h1.71v40.8h-1.71zM512.0 1266.6h1.71v40.8h-1.71zM602.8 1266.6h1.71v40.8h-1.71zM733.0 1266.6h1.71v40.8h-1.71zM1099.7 1266.6h1.71v40.8h-1.71zM107.7 1307.4h1.71v40.8h-1.71zM140.2 1307.4h1.71v40.8h-1.71zM183.1 1307.4h1.71v40.8h-1.71zM304.7 1307.4h1.71v40.8h-1.71zM722.8 1307.4h1.71v40.8h-1.71zM794.7 1307.4h1.71v40.8h-1.71zM815.3 1307.4h1.71v40.8h-1.71zM892.4 1307.4h1.71v40.8h-1.71zM1098.0 1307.4h1.71v40.8h-1.71zM1127.1 1307.4h1.71v40.8h-1.71zM1229.9 1307.4h1.71v40.8h-1.71zM128.2 1348.2h1.71v40.8h-1.71zM153.9 1348.2h1.71v40.8h-1.71zM169.4 1348.2h1.71v40.8h-1.71zM208.8 1348.2h1.71v40.8h-1.71zM212.2 1348.2h1.71v40.8h-1.71zM236.2 1348.2h1.71v40.8h-1.71zM330.4 1348.2h1.71v40.8h-1.71zM416.1 1348.2h1.71v40.8h-1.71zM445.2 1348.2h1.71v40.8h-1.71zM488.0 1348.2h1.71v40.8h-1.71zM510.3 1348.2h1.71v40.8h-1.71zM856.4 1348.2h1.71v40.8h-1.71zM888.9 1348.2h1.71v40.8h-1.71zM911.2 1348.2h1.71v40.8h-1.71zM1046.6 1348.2h1.71v40.8h-1.71zM1108.3 1348.2h1.71v40.8h-1.71zM1255.6 1348.2h1.71v40.8h-1.71zM1284.7 1348.2h1.71v40.8h-1.71zM88.8 1389.0h1.71v40.8h-1.71zM217.3 1389.0h3.43v40.8h-3.43zM244.7 1389.0h1.71v40.8h-1.71zM304.7 1389.0h1.71v40.8h-1.71zM318.4 1389.0h1.71v40.8h-1.71zM323.6 1389.0h1.71v40.8h-1.71zM330.4 1389.0h1.71v40.8h-1.71zM405.8 1389.0h1.71v40.8h-1.71zM419.5 1389.0h1.71v40.8h-1.71zM494.9 1389.0h1.71v40.8h-1.71zM512.0 1389.0h1.71v40.8h-1.71zM536.0 1389.0h1.71v40.8h-1.71zM1010.6 1389.0h1.71v40.8h-1.71zM1041.4 1389.0h1.71v40.8h-1.71zM1238.5 1389.0h1.71v40.8h-1.71z"/>
<path fill="#81afd3" d="M938.6 369.0h1.71v40.8h-1.71zM974.6 369.0h1.71v40.8h-1.71zM124.8 409.8h1.71v40.8h-1.71zM1277.9 409.8h1.71v40.8h-1.71zM263.6 450.6h1.71v40.8h-1.71zM1026.0 450.6h1.71v40.8h-1.71zM580.6 491.4h1.71v40.8h-1.71zM587.4 491.4h1.71v40.8h-1.71zM592.5 491.4h1.71v40.8h-1.71zM679.9 491.4h1.71v40.8h-1.71zM791.3 491.4h1.71v40.8h-1.71zM794.7 491.4h1.71v40.8h-1.71zM808.4 491.4h1.71v40.8h-1.71zM263.6 532.2h1.71v40.8h-1.71zM297.9 532.2h1.71v40.8h-1.71zM375.0 532.2h1.71v40.8h-1.71zM520.6 532.2h1.71v40.8h-1.71zM541.1 532.2h1.71v40.8h-1.71zM811.8 532.2h1.71v40.8h-1.71zM820.4 532.2h1.71v40.8h-1.71zM272.2 573.0h1.71v40.8h-1.71zM767.3 573.0h1.71v40.8h-1.71zM877.0 613.8h1.71v40.8h-1.71zM907.8 613.8h1.71v40.8h-1.71zM248.2 654.6h1.71v40.8h-1.71zM1067.1 654.6h1.71v40.8h-1.71zM1248.7 654.6h1.71v40.8h-1.71zM1271.0 654.6h1.71v40.8h-1.71zM947.2 695.4h1.71v40.8h-1.71zM1048.3 695.4h1.71v40.8h-1.71zM1068.8 695.4h1.71v40.8h-1.71zM933.5 736.2h1.71v40.8h-1.71zM959.2 736.2h1.71v40.8h-1.71zM986.6 736.2h1.71v40.8h-1.71zM1157.9 736.2h1.71v40.8h-1.71zM1166.5 736.2h1.71v40.8h-1.71zM52.8 777.0h1.71v40.8h-1.71zM345.8 777.0h1.71v40.8h-1.71zM938.6 777.0h1.71v40.8h-1.71zM1103.1 777.0h1.71v40.8h-1.71zM1116.8 777.0h1.71v40.8h-1.71zM1152.8 777.0h1.71v40.8h-1.71zM1175.1 777.0h1.71v40.8h-1.71zM1219.6 777.0h1.71v40.8h-1.71zM13.4 817.8h1.71v40.8h-1.71zM347.5 817.8h1.71v40.8h-1.71zM794.7 817.8h1.71v40.8h-1.71zM877.0 817.8h1.71v40.8h-1.71zM882.1 817.8h1.71v40.8h-1.71zM1245.3 817.8h1.71v40.8h-1.71zM1252.2 817.8h1.71v40.8h-1.71zM22.0 858.6h1.71v40.8h-1.71zM47.7 858.6h1.71v40.8h-1.71zM71.7 858.6h1.71v40.8h-1.71zM83.7 858.6h1.71v40.8h-1.71zM112.8 858.6h1.71v40.8h-1.71zM159.1 858.6h1.71v40.8h-1.71zM164.2 858.6h1.71v40.8h-1.71zM217.3 858.6h1.71v40.8h-1.71zM248.2 858.6h1.71v40.8h-1.71zM263.6 858.6h1.71v40.8h-1.71zM333.8 858.6h1.71v40.8h-1.71zM349.3 858.6h3.43v40.8h-3.43zM357.8 858.6h1.71v40.8h-1.71zM366.4 858.6h1.71v40.8h-1.71zM390.4 858.6h1.71v40.8h-1.71zM594.3 858.6h1.71v40.8h-1.71zM602.8 858.6h1.71v40.8h-1.71zM703.9 858.6h1.71v40.8h-1.71zM722.8 858.6h1.71v40.8h-1.71zM733.0 858.6h1.71v40.8h-1.71zM775.9 858.6h1.71v40.8h-1.71zM859.8 858.6h1.71v40.8h-1.71zM10.0 899.4h1.71v40.8h-1.71zM39.1 899.4h1.71v40.8h-1.71zM46.0 899.4h1.71v40.8h-1.71zM52.8 899.4h1.71v40.8h-1.71zM56.3 899.4h1.71v40.8h-1.71zM85.4 899.4h1.71v40.8h-1.71zM88.8 899.4h3.43v40.8h-3.43zM195.1 899.4h1.71v40.8h-1.71zM198.5 899.4h1.71v40.8h-1.71zM243.0 899.4h1.71v40.8h-1.71zM263.6 899.4h1.71v40.8h-1.71zM368.1 899.4h1.71v40.8h-1.71zM412.6 899.4h1.71v40.8h-1.71zM476.0 899.4h1.71v40.8h-1.71zM500.0 899.4h1.71v40.8h-1.71zM513.7 899.4h3.43v40.8h-3.43zM518.9 899.4h1.71v40.8h-1.71zM546.3 899.4h1.71v40.8h-1.71zM560.0 899.4h1.71v40.8h-1.71zM609.7 899.4h1.71v40.8h-1.71zM842.7 899.4h1.71v40.8h-1.71zM1092.8 899.4h1.71v40.8h-1.71zM275.6 940.2h1.71v40.8h-1.71zM297.9 940.2h1.71v40.8h-1.71zM342.4 940.2h1.71v40.8h-1.71zM470.9 940.2h1.71v40.8h-1.71zM789.6 981.0h1.71v40.8h-1.71zM42.6 1021.8h1.71v40.8h-1.71zM80.3 1021.8h1.71v40.8h-1.71zM140.2 1021.8h1.71v40.8h-1.71zM225.9 1021.8h1.71v40.8h-1.71zM249.9 1021.8h1.71v40.8h-1.71zM275.6 1021.8h1.71v40.8h-1.71zM285.9 1021.8h1.71v40.8h-1.71zM332.1 1021.8h1.71v40.8h-1.71zM340.7 1021.8h1.71v40.8h-1.71zM380.1 1021.8h1.71v40.8h-1.71zM404.1 1021.8h1.71v40.8h-1.71zM453.8 1021.8h1.71v40.8h-1.71zM536.0 1021.8h1.71v40.8h-1.71zM589.1 1021.8h1.71v40.8h-1.71zM599.4 1021.8h1.71v40.8h-1.71zM616.5 1021.8h1.71v40.8h-1.71zM626.8 1021.8h1.71v40.8h-1.71zM649.1 1021.8h1.71v40.8h-1.71zM724.5 1021.8h1.71v40.8h-1.71zM753.6 1021.8h1.71v40.8h-1.71zM772.4 1021.8h1.71v40.8h-1.71zM791.3 1021.8h1.71v40.8h-1.71zM1024.3 1021.8h1.71v40.8h-1.71zM51.1 1062.6h1.71v40.8h-1.71zM68.3 1062.6h1.71v40.8h-1.71zM213.9 1062.6h1.71v40.8h-1.71zM470.9 1062.6h1.71v40.8h-1.71zM662.8 1062.6h1.71v40.8h-1.71zM813.6 1062.6h1.71v40.8h-1.71zM859.8 1062.6h1.71v40.8h-1.71zM1277.9 1062.6h1.71v40.8h-1.71zM541.1 1103.4h1.71v40.8h-1.71zM678.2 1103.4h1.71v40.8h-1.71zM685.1 1103.4h1.71v40.8h-1.71zM690.2 1103.4h1.71v40.8h-1.71zM702.2 1103.4h1.71v40.8h-1.71zM709.0 1103.4h1.71v40.8h-1.71zM733.0 1103.4h1.71v40.8h-1.71zM1020.9 1103.4h1.71v40.8h-1.71zM243.0 1144.2h1.71v40.8h-1.71zM260.2 1144.2h1.71v40.8h-1.71zM344.1 1144.2h1.71v40.8h-1.71zM428.1 1144.2h1.71v40.8h-1.71zM683.3 1144.2h1.71v40.8h-1.71zM702.2 1144.2h1.71v40.8h-1.71zM734.7 1144.2h1.71v40.8h-1.71zM1128.8 1144.2h1.71v40.8h-1.71zM1176.8 1144.2h1.71v40.8h-1.71zM1180.2 1144.2h1.71v40.8h-1.71zM1202.5 1144.2h1.71v40.8h-1.71zM1207.6 1144.2h1.71v40.8h-1.71zM54.6 1185.0h1.71v40.8h-1.71zM107.7 1185.0h1.71v40.8h-1.71zM140.2 1185.0h1.71v40.8h-1.71zM145.4 1185.0h1.71v40.8h-1.71zM167.6 1185.0h1.71v40.8h-1.71zM239.6 1185.0h1.71v40.8h-1.71zM246.5 1185.0h1.71v40.8h-1.71zM255.0 1185.0h1.71v40.8h-1.71zM375.0 1185.0h1.71v40.8h-1.71zM392.1 1185.0h1.71v40.8h-1.71zM544.6 1185.0h1.71v40.8h-1.71zM652.5 1185.0h1.71v40.8h-1.71zM655.9 1185.0h1.71v40.8h-1.71zM664.5 1185.0h1.71v40.8h-1.71zM739.9 1185.0h1.71v40.8h-1.71zM787.9 1185.0h1.71v40.8h-1.71zM801.6 1185.0h1.71v40.8h-1.71zM823.8 1185.0h1.71v40.8h-1.71zM844.4 1185.0h1.71v40.8h-1.71zM1180.2 1185.0h1.71v40.8h-1.71zM1193.9 1185.0h1.71v40.8h-1.71zM1257.3 1185.0h1.71v40.8h-1.71zM1271.0 1185.0h1.71v40.8h-1.71zM13.4 1225.8h1.71v40.8h-1.71zM90.5 1225.8h1.71v40.8h-1.71zM102.5 1225.8h1.71v40.8h-1.71zM184.8 1225.8h1.71v40.8h-1.71zM299.6 1225.8h1.71v40.8h-1.71zM306.4 1225.8h1.71v40.8h-1.71zM349.3 1225.8h1.71v40.8h-1.71zM359.5 1225.8h1.71v40.8h-1.71zM364.7 1225.8h1.71v40.8h-1.71zM392.1 1225.8h1.71v40.8h-1.71zM515.4 1225.8h1.71v40.8h-1.71zM714.2 1225.8h1.71v40.8h-1.71zM758.7 1225.8h1.71v40.8h-1.71zM1228.2 1225.8h1.71v40.8h-1.71zM18.6 1266.6h1.71v40.8h-1.71zM95.7 1266.6h3.43v40.8h-3.43zM121.4 1266.6h1.71v40.8h-1.71zM195.1 1266.6h1.71v40.8h-1.71zM207.0 1266.6h1.71v40.8h-1.71zM273.9 1266.6h1.71v40.8h-1.71zM309.8 1266.6h1.71v40.8h-1.71zM347.5 1266.6h1.71v40.8h-1.71zM383.5 1266.6h3.43v40.8h-3.43zM440.1 1266.6h1.71v40.8h-1.71zM592.5 1266.6h1.71v40.8h-1.71zM630.2 1266.6h1.71v40.8h-1.71zM673.1 1266.6h1.71v40.8h-1.71zM683.3 1266.6h1.71v40.8h-1.71zM707.3 1266.6h1.71v40.8h-1.71zM1086.0 1266.6h1.71v40.8h-1.71zM1161.4 1266.6h1.71v40.8h-1.71zM8.3 1307.4h1.71v40.8h-1.71zM51.1 1307.4h1.71v40.8h-1.71zM176.2 1307.4h1.71v40.8h-1.71zM354.4 1307.4h3.43v40.8h-3.43zM383.5 1307.4h1.71v40.8h-1.71zM671.4 1307.4h1.71v40.8h-1.71zM693.6 1307.4h1.71v40.8h-1.71zM859.8 1307.4h1.71v40.8h-1.71zM918.1 1307.4h1.71v40.8h-1.71zM950.6 1307.4h1.71v40.8h-1.71zM1079.1 1307.4h1.71v40.8h-1.71zM1139.1 1307.4h3.43v40.8h-3.43zM1212.8 1307.4h1.71v40.8h-1.71zM1236.8 1307.4h1.71v40.8h-1.71zM15.2 1348.2h1.71v40.8h-1.71zM28.9 1348.2h1.71v40.8h-1.71zM210.5 1348.2h1.71v40.8h-1.71zM357.8 1348.2h1.71v40.8h-1.71zM861.5 1348.2h1.71v40.8h-1.71zM868.4 1348.2h1.71v40.8h-1.71zM894.1 1348.2h1.71v40.8h-1.71zM918.1 1348.2h1.71v40.8h-1.71zM998.6 1348.2h1.71v40.8h-1.71zM1003.7 1348.2h1.71v40.8h-1.71zM1015.7 1348.2h1.71v40.8h-1.71zM1022.6 1348.2h1.71v40.8h-1.71zM1080.8 1348.2h1.71v40.8h-1.71zM1130.5 1348.2h1.71v40.8h-1.71zM1151.1 1348.2h1.71v40.8h-1.71zM35.7 1389.0h1.71v40.8h-1.71zM82.0 1389.0h1.71v40.8h-1.71zM116.2 1389.0h1.71v40.8h-1.71zM188.2 1389.0h1.71v40.8h-1.71zM210.5 1389.0h1.71v40.8h-1.71zM213.9 1389.0h1.71v40.8h-1.71zM421.2 1389.0h1.71v40.8h-1.71zM436.6 1389.0h1.71v40.8h-1.71zM452.1 1389.0h1.71v40.8h-1.71zM534.3 1389.0h1.71v40.8h-1.71zM791.3 1389.0h1.71v40.8h-1.71zM806.7 1389.0h1.71v40.8h-1.71zM846.1 1389.0h1.71v40.8h-1.71zM1046.6 1389.0h1.71v40.8h-1.71zM1080.8 1389.0h1.71v40.8h-1.71zM1176.8 1389.0h1.71v40.8h-1.71zM1281.3 1389.0h1.71v40.8h-1.71z"/>
<path fill="#85b4d5" d="M1202.5 369.0h1.71v40.8h-1.71zM279.0 409.8h1.71v40.8h-1.71zM1144.2 409.8h1.71v40.8h-1.71zM602.8 491.4h1.71v40.8h-1.71zM273.9 532.2h1.71v40.8h-1.71zM575.4 532.2h1.71v40.8h-1.71zM671.4 532.2h1.71v40.8h-1.71zM796.4 532.2h1.71v40.8h-1.71zM313.3 573.0h1.71v40.8h-1.71zM580.6 573.0h1.71v40.8h-1.71zM594.3 573.0h1.71v40.8h-1.71zM820.4 573.0h1.71v40.8h-1.71zM882.1 613.8h1.71v40.8h-1.71zM902.7 613.8h1.71v40.8h-1.71zM1038.0 654.6h1.71v40.8h-1.71zM1235.0 654.6h1.71v40.8h-1.71zM147.1 695.4h1.71v40.8h-1.71zM614.8 695.4h1.71v40.8h-1.71zM1027.7 695.4h1.71v40.8h-1.71zM1053.4 695.4h1.71v40.8h-1.71zM1075.7 695.4h1.71v40.8h-1.71zM1080.8 695.4h1.71v40.8h-1.71zM1084.3 695.4h1.71v40.8h-1.71zM839.3 736.2h1.71v40.8h-1.71zM923.2 736.2h1.71v40.8h-1.71zM950.6 736.2h1.71v40.8h-1.71zM102.5 777.0h1.71v40.8h-1.71zM124.8 777.0h1.71v40.8h-1.71zM189.9 777.0h1.71v40.8h-1.71zM219.0 777.0h1.71v40.8h-1.71zM375.0 777.0h1.71v40.8h-1.71zM421.2 777.0h1.71v40.8h-1.71zM472.6 777.0h1.71v40.8h-1.71zM508.6 777.0h1.71v40.8h-1.71zM844.4 777.0h1.71v40.8h-1.71zM978.0 777.0h1.71v40.8h-1.71zM1022.6 777.0h1.71v40.8h-1.71zM1080.8 777.0h1.71v40.8h-1.71zM1087.7 777.0h1.71v40.8h-1.71zM1164.8 777.0h1.71v40.8h-1.71zM1168.2 777.0h1.71v40.8h-1.71zM1188.8 777.0h1.71v40.8h-1.71zM1224.8 777.0h1.71v40.8h-1.71zM174.5 817.8h1.71v40.8h-1.71zM296.1 817.8h1.71v40.8h-1.71zM335.5 817.8h1.71v40.8h-1.71zM373.2 817.8h1.71v40.8h-1.71zM584.0 817.8h3.43v40.8h-3.43zM763.9 817.8h1.71v40.8h-1.71zM1053.4 817.8h1.71v40.8h-1.71zM11.7 858.6h1.71v40.8h-1.71zM44.3 858.6h3.43v40.8h-3.43zM212.2 858.6h1.71v40.8h-1.71zM270.4 858.6h3.43v40.8h-3.43zM291.0 858.6h1.71v40.8h-1.71zM301.3 858.6h1.71v40.8h-1.71zM309.8 858.6h1.71v40.8h-1.71zM361.2 858.6h1.71v40.8h-1.71zM537.7 858.6h1.71v40.8h-1.71zM618.2 858.6h1.71v40.8h-1.71zM621.7 858.6h1.71v40.8h-1.71zM695.3 858.6h1.71v40.8h-1.71zM727.9 858.6h1.71v40.8h-1.71zM731.3 858.6h1.71v40.8h-1.71zM829.0 858.6h1.71v40.8h-1.71zM841.0 858.6h1.71v40.8h-1.71zM877.0 858.6h1.71v40.8h-1.71zM47.7 899.4h1.71v40.8h-1.71zM106.0 899.4h1.71v40.8h-1.71zM121.4 899.4h1.71v40.8h-1.71zM232.7 899.4h1.71v40.8h-1.71zM277.3 899.4h1.71v40.8h-1.71zM363.0 899.4h1.71v40.8h-1.71zM369.8 899.4h1.71v40.8h-1.71zM373.2 899.4h1.71v40.8h-1.71zM424.6 899.4h1.71v40.8h-1.71zM462.3 899.4h1.71v40.8h-1.71zM493.2 899.4h1.71v40.8h-1.71zM508.6 899.4h1.71v40.8h-1.71zM829.0 899.4h1.71v40.8h-1.71zM859.8 899.4h1.71v40.8h-1.71zM1197.3 899.4h1.71v40.8h-1.71zM1238.5 899.4h1.71v40.8h-1.71zM99.1 940.2h1.71v40.8h-1.71zM104.2 940.2h1.71v40.8h-1.71zM121.4 940.2h1.71v40.8h-1.71zM272.2 940.2h1.71v40.8h-1.71zM347.5 940.2h1.71v40.8h-1.71zM409.2 940.2h1.71v40.8h-1.71zM419.5 940.2h1.71v40.8h-1.71zM1166.5 940.2h1.71v40.8h-1.71zM710.8 981.0h1.71v40.8h-1.71zM736.5 981.0h1.71v40.8h-1.71zM805.0 981.0h1.71v40.8h-1.71zM32.3 1021.8h3.43v40.8h-3.43zM73.4 1021.8h1.71v40.8h-1.71zM133.4 1021.8h1.71v40.8h-1.71zM219.0 1021.8h1.71v40.8h-1.71zM243.0 1021.8h1.71v40.8h-1.71zM315.0 1021.8h1.71v40.8h-1.71zM376.7 1021.8h1.71v40.8h-1.71zM390.4 1021.8h1.71v40.8h-1.71zM450.3 1021.8h1.71v40.8h-1.71zM594.3 1021.8h1.71v40.8h-1.71zM654.2 1021.8h1.71v40.8h-1.71zM690.2 1021.8h3.43v40.8h-3.43zM733.0 1021.8h1.71v40.8h-1.71zM746.7 1021.8h1.71v40.8h-1.71zM750.2 1021.8h1.71v40.8h-1.71zM775.9 1021.8h1.71v40.8h-1.71zM793.0 1021.8h1.71v40.8h-1.71zM474.3 1062.6h1.71v40.8h-1.71zM721.0 1062.6h1.71v40.8h-1.71zM760.4 1062.6h1.71v40.8h-1.71zM820.4 1062.6h1.71v40.8h-1.71zM1252.2 1062.6h1.71v40.8h-1.71zM671.4 1103.4h1.71v40.8h-1.71zM712.5 1103.4h1.71v40.8h-1.71zM722.8 1103.4h1.71v40.8h-1.71zM1247.0 1103.4h1.71v40.8h-1.71zM121.4 1144.2h1.71v40.8h-1.71zM268.7 1144.2h1.71v40.8h-1.71zM446.9 1144.2h1.71v40.8h-1.71zM506.9 1144.2h1.71v40.8h-1.71zM774.2 1144.2h1.71v40.8h-1.71zM1188.8 1144.2h1.71v40.8h-1.71zM1211.1 1144.2h1.71v40.8h-1.71zM37.4 1185.0h1.71v40.8h-1.71zM97.4 1185.0h1.71v40.8h-1.71zM104.2 1185.0h1.71v40.8h-1.71zM157.4 1185.0h1.71v40.8h-1.71zM253.3 1185.0h1.71v40.8h-1.71zM265.3 1185.0h1.71v40.8h-1.71zM297.9 1185.0h1.71v40.8h-1.71zM304.7 1185.0h1.71v40.8h-1.71zM397.2 1185.0h1.71v40.8h-1.71zM539.4 1185.0h1.71v40.8h-1.71zM542.9 1185.0h1.71v40.8h-1.71zM666.2 1185.0h1.71v40.8h-1.71zM839.3 1185.0h1.71v40.8h-1.71zM1228.2 1185.0h1.71v40.8h-1.71zM1279.6 1185.0h1.71v40.8h-1.71zM82.0 1225.8h1.71v40.8h-1.71zM311.6 1225.8h1.71v40.8h-1.71zM330.4 1225.8h1.71v40.8h-1.71zM342.4 1225.8h1.71v40.8h-1.71zM474.3 1225.8h1.71v40.8h-1.71zM532.6 1225.8h3.43v40.8h-3.43zM727.9 1225.8h1.71v40.8h-1.71zM751.9 1225.8h1.71v40.8h-1.71zM777.6 1225.8h1.71v40.8h-1.71zM787.9 1225.8h1.71v40.8h-1.71zM808.4 1225.8h1.71v40.8h-1.71zM1137.4 1225.8h1.71v40.8h-1.71zM222.5 1266.6h1.71v40.8h-1.71zM229.3 1266.6h1.71v40.8h-1.71zM570.3 1266.6h1.71v40.8h-1.71zM662.8 1266.6h1.71v40.8h-1.71zM702.2 1266.6h1.71v40.8h-1.71zM770.7 1266.6h1.71v40.8h-1.71zM955.8 1266.6h1.71v40.8h-1.71zM960.9 1266.6h1.71v40.8h-1.71zM61.4 1307.4h1.71v40.8h-1.71zM217.3 1307.4h1.71v40.8h-1.71zM361.2 1307.4h1.71v40.8h-1.71zM835.8 1307.4h1.71v40.8h-1.71zM911.2 1307.4h3.43v40.8h-3.43zM933.5 1307.4h1.71v40.8h-1.71zM947.2 1307.4h1.71v40.8h-1.71zM1241.9 1307.4h1.71v40.8h-1.71zM1279.6 1307.4h1.71v40.8h-1.71zM102.5 1348.2h1.71v40.8h-1.71zM147.1 1348.2h1.71v40.8h-1.71zM184.8 1348.2h1.71v40.8h-1.71zM285.9 1348.2h1.71v40.8h-1.71zM335.5 1348.2h1.71v40.8h-1.71zM342.4 1348.2h1.71v40.8h-1.71zM359.5 1348.2h1.71v40.8h-1.71zM493.2 1348.2h1.71v40.8h-1.71zM508.6 1348.2h1.71v40.8h-1.71zM758.7 1348.2h1.71v40.8h-1.71zM873.5 1348.2h1.71v40.8h-1.71zM952.3 1348.2h1.71v40.8h-1.71zM1091.1 1348.2h1.71v40.8h-1.71zM1166.5 1348.2h1.71v40.8h-1.71zM1173.4 1348.2h1.71v40.8h-1.71zM1214.5 1348.2h1.71v40.8h-1.71zM1243.6 1348.2h1.71v40.8h-1.71zM1248.7 1348.2h1.71v40.8h-1.71zM1264.2 1348.2h1.71v40.8h-1.71zM58.0 1389.0h1.71v40.8h-1.71zM160.8 1389.0h1.71v40.8h-1.71zM303.0 1389.0h1.71v40.8h-1.71zM376.7 1389.0h1.71v40.8h-1.71zM455.5 1389.0h1.71v40.8h-1.71zM532.6 1389.0h1.71v40.8h-1.71zM539.4 1389.0h1.71v40.8h-1.71zM803.3 1389.0h1.71v40.8h-1.71zM820.4 1389.0h1.71v40.8h-1.71zM911.2 1389.0h1.71v40.8h-1.71zM924.9 1389.0h1.71v40.8h-1.71zM1221.3 1389.0h1.71v40.8h-1.71zM1264.2 1389.0h1.71v40.8h-1.71z"/>
<path fill="#8ab8d7" d="M500.0 409.8h1.71v40.8h-1.71zM505.2 409.8h1.71v40.8h-1.71zM1224.8 409.8h1.71v40.8h-1.71zM666.2 491.4h1.71v40.8h-1.71zM726.2 491.4h1.71v40.8h-1.71zM568.6 573.0h1.71v40.8h-1.71zM609.7 573.0h1.71v40.8h-1.71zM638.8 573.0h1.71v40.8h-1.71zM642.2 573.0h1.71v40.8h-1.71zM823.8 573.0h1.71v40.8h-1.71zM829.0 573.0h1.71v40.8h-1.71zM1046.6 654.6h5.14v40.8h-5.14zM1055.1 654.6h1.71v40.8h-1.71zM1046.6 695.4h1.71v40.8h-1.71zM971.2 736.2h1.71v40.8h-1.71zM861.5 817.8h1.71v40.8h-1.71zM189.9 858.6h1.71v40.8h-1.71zM201.9 858.6h1.71v40.8h-1.71zM239.6 858.6h1.71v40.8h-1.71zM611.4 858.6h1.71v40.8h-1.71zM693.6 858.6h1.71v40.8h-1.71zM700.5 858.6h1.71v40.8h-1.71zM736.5 858.6h1.71v40.8h-1.71zM767.3 858.6h1.71v40.8h-1.71zM30.6 899.4h3.43v40.8h-3.43zM97.4 899.4h1.71v40.8h-1.71zM215.6 899.4h1.71v40.8h-1.71zM219.0 899.4h1.71v40.8h-1.71zM224.2 899.4h1.71v40.8h-1.71zM229.3 899.4h1.71v40.8h-1.71zM234.5 899.4h1.71v40.8h-1.71zM318.4 899.4h1.71v40.8h-1.71zM349.3 899.4h1.71v40.8h-1.71zM390.4 899.4h1.71v40.8h-1.71zM445.2 899.4h1.71v40.8h-1.71zM455.5 899.4h1.71v40.8h-1.71zM481.2 899.4h1.71v40.8h-1.71zM525.7 899.4h1.71v40.8h-1.71zM597.7 899.4h1.71v40.8h-1.71zM640.5 899.4h1.71v40.8h-1.71zM673.1 899.4h1.71v40.8h-1.71zM741.6 899.4h1.71v40.8h-1.71zM823.8 899.4h1.71v40.8h-1.71zM1020.9 899.4h1.71v40.8h-1.71zM1231.6 899.4h1.71v40.8h-1.71zM1269.3 899.4h1.71v40.8h-1.71zM99.1 1021.8h1.71v40.8h-1.71zM472.6 1021.8h1.71v40.8h-1.71zM822.1 1021.8h1.71v40.8h-1.71zM1272.7 1021.8h1.71v40.8h-1.71zM419.5 1144.2h1.71v40.8h-1.71zM426.4 1144.2h1.71v40.8h-1.71zM1142.5 1144.2h1.71v40.8h-1.71zM255.0 1225.8h1.71v40.8h-1.71zM440.1 1225.8h1.71v40.8h-1.71zM450.3 1225.8h1.71v40.8h-1.71zM500.0 1225.8h1.71v40.8h-1.71zM520.6 1225.8h1.71v40.8h-1.71zM878.7 1225.8h1.71v40.8h-1.71zM1122.0 1225.8h1.71v40.8h-1.71zM1175.1 1225.8h1.71v40.8h-1.71zM1217.9 1225.8h1.71v40.8h-1.71zM1238.5 1225.8h1.71v40.8h-1.71zM1269.3 1225.8h1.71v40.8h-1.71zM316.7 1266.6h1.71v40.8h-1.71zM486.3 1266.6h1.71v40.8h-1.71zM513.7 1266.6h1.71v40.8h-1.71zM686.8 1266.6h1.71v40.8h-1.71zM847.8 1266.6h1.71v40.8h-1.71zM900.9 1266.6h1.71v40.8h-1.71zM976.3 1266.6h1.71v40.8h-1.71zM1019.2 1266.6h1.71v40.8h-1.71zM1024.3 1266.6h1.71v40.8h-1.71zM1103.1 1266.6h1.71v40.8h-1.71zM1111.7 1266.6h1.71v40.8h-1.71zM1137.4 1266.6h1.71v40.8h-1.71zM1144.2 1266.6h1.71v40.8h-1.71zM1187.1 1266.6h1.71v40.8h-1.71zM1221.3 1266.6h1.71v40.8h-1.71zM1298.4 1266.6h1.71v40.8h-1.71zM47.7 1307.4h1.71v40.8h-1.71zM68.3 1307.4h1.71v40.8h-1.71zM116.2 1307.4h1.71v40.8h-1.71zM162.5 1307.4h1.71v40.8h-1.71zM201.9 1307.4h1.71v40.8h-1.71zM243.0 1307.4h1.71v40.8h-1.71zM287.6 1307.4h1.71v40.8h-1.71zM303.0 1307.4h1.71v40.8h-1.71zM410.9 1307.4h1.71v40.8h-1.71zM844.4 1307.4h1.71v40.8h-1.71zM877.0 1307.4h1.71v40.8h-1.71zM966.0 1307.4h1.71v40.8h-1.71zM981.5 1307.4h3.43v40.8h-3.43zM1072.3 1307.4h1.71v40.8h-1.71zM1080.8 1307.4h1.71v40.8h-1.71zM1144.2 1307.4h1.71v40.8h-1.71zM1156.2 1307.4h1.71v40.8h-1.71zM1161.4 1307.4h1.71v40.8h-1.71zM1238.5 1307.4h1.71v40.8h-1.71zM1281.3 1307.4h1.71v40.8h-1.71zM112.8 1348.2h1.71v40.8h-1.71zM906.1 1348.2h1.71v40.8h-1.71zM1104.8 1348.2h3.43v40.8h-3.43zM1193.9 1348.2h1.71v40.8h-1.71zM1267.6 1348.2h1.71v40.8h-1.71zM959.2 1389.0h1.71v40.8h-1.71zM990.0 1389.0h1.71v40.8h-1.71zM1017.4 1389.0h1.71v40.8h-1.71zM1034.6 1389.0h1.71v40.8h-1.71z"/>
<path fill="#8fbdda" d="M20.3 409.8h1.71v40.8h-1.71zM107.7 409.8h1.71v40.8h-1.71zM280.7 409.8h1.71v40.8h-1.71zM457.2 409.8h1.71v40.8h-1.71zM727.9 491.4h1.71v40.8h-1.71zM799.9 491.4h1.71v40.8h-1.71zM561.7 573.0h1.71v40.8h-1.71zM632.0 573.0h1.71v40.8h-1.71zM667.9 573.0h1.71v40.8h-1.71zM830.7 573.0h1.71v40.8h-1.71zM1060.3 654.6h1.71v40.8h-1.71zM902.7 695.4h1.71v40.8h-1.71zM1231.6 695.4h1.71v40.8h-1.71zM1267.6 695.4h1.71v40.8h-1.71zM967.8 736.2h1.71v40.8h-1.71zM998.6 736.2h1.71v40.8h-1.71zM902.7 817.8h1.71v40.8h-1.71zM988.3 817.8h1.71v40.8h-1.71zM85.4 858.6h1.71v40.8h-1.71zM111.1 858.6h1.71v40.8h-1.71zM147.1 858.6h1.71v40.8h-1.71zM237.9 858.6h1.71v40.8h-1.71zM285.9 858.6h1.71v40.8h-1.71zM294.4 858.6h1.71v40.8h-1.71zM299.6 858.6h1.71v40.8h-1.71zM328.7 858.6h1.71v40.8h-1.71zM544.6 858.6h1.71v40.8h-1.71zM599.4 858.6h1.71v40.8h-1.71zM714.2 858.6h1.71v40.8h-1.71zM746.7 858.6h1.71v40.8h-1.71zM760.4 858.6h1.71v40.8h-1.71zM189.9 899.4h1.71v40.8h-1.71zM196.8 899.4h1.71v40.8h-1.71zM220.8 899.4h1.71v40.8h-1.71zM225.9 899.4h1.71v40.8h-1.71zM296.1 899.4h1.71v40.8h-1.71zM315.0 899.4h1.71v40.8h-1.71zM320.1 899.4h1.71v40.8h-1.71zM534.3 899.4h1.71v40.8h-1.71zM690.2 899.4h1.71v40.8h-1.71zM721.0 899.4h1.71v40.8h-1.71zM748.5 899.4h1.71v40.8h-1.71zM751.9 899.4h1.71v40.8h-1.71zM793.0 899.4h1.71v40.8h-1.71zM803.3 899.4h1.71v40.8h-1.71zM839.3 899.4h1.71v40.8h-1.71zM873.5 899.4h1.71v40.8h-1.71zM1079.1 899.4h1.71v40.8h-1.71zM112.8 940.2h1.71v40.8h-1.71zM448.6 1021.8h1.71v40.8h-1.71zM784.4 1021.8h3.43v40.8h-3.43zM823.8 1021.8h1.71v40.8h-1.71zM369.8 1062.6h1.71v40.8h-1.71zM159.1 1144.2h1.71v40.8h-1.71zM167.6 1144.2h1.71v40.8h-1.71zM433.2 1225.8h1.71v40.8h-1.71zM517.2 1225.8h1.71v40.8h-1.71zM1108.3 1225.8h1.71v40.8h-1.71zM1200.8 1225.8h1.71v40.8h-1.71zM64.8 1266.6h1.71v40.8h-1.71zM191.6 1266.6h1.71v40.8h-1.71zM404.1 1266.6h1.71v40.8h-1.71zM476.0 1266.6h1.71v40.8h-1.71zM657.6 1266.6h1.71v40.8h-1.71zM666.2 1266.6h1.71v40.8h-1.71zM676.5 1266.6h1.71v40.8h-1.71zM697.1 1266.6h1.71v40.8h-1.71zM727.9 1266.6h1.71v40.8h-1.71zM839.3 1266.6h1.71v40.8h-1.71zM1038.0 1266.6h1.71v40.8h-1.71zM1062.0 1266.6h1.71v40.8h-1.71zM1123.7 1266.6h1.71v40.8h-1.71zM1183.6 1266.6h1.71v40.8h-1.71zM109.4 1307.4h1.71v40.8h-1.71zM123.1 1307.4h1.71v40.8h-1.71zM177.9 1307.4h1.71v40.8h-1.71zM212.2 1307.4h1.71v40.8h-1.71zM299.6 1307.4h1.71v40.8h-1.71zM327.0 1307.4h1.71v40.8h-1.71zM534.3 1307.4h1.71v40.8h-1.71zM873.5 1307.4h1.71v40.8h-1.71zM979.8 1307.4h1.71v40.8h-1.71zM1039.7 1307.4h1.71v40.8h-1.71zM1065.4 1307.4h1.71v40.8h-1.71zM1092.8 1307.4h1.71v40.8h-1.71zM1110.0 1307.4h1.71v40.8h-1.71zM988.3 1348.2h1.71v40.8h-1.71zM1279.6 1348.2h1.71v40.8h-1.71zM969.5 1389.0h1.71v40.8h-1.71z"/>
<path fill="#93c1dc" d="M15.2 409.8h1.71v40.8h-1.71zM501.7 409.8h1.71v40.8h-1.71zM584.0 491.4h1.71v40.8h-1.71zM412.6 654.6h1.71v40.8h-1.71zM1044.9 654.6h1.71v40.8h-1.71zM1271.0 695.4h1.71v40.8h-1.71zM865.0 817.8h1.71v40.8h-1.71zM1175.1 817.8h1.71v40.8h-1.71zM1178.5 817.8h1.71v40.8h-1.71zM20.3 858.6h1.71v40.8h-1.71zM27.1 858.6h1.71v40.8h-1.71zM118.0 858.6h1.71v40.8h-1.71zM128.2 858.6h1.71v40.8h-1.71zM388.7 858.6h1.71v40.8h-1.71zM633.7 858.6h1.71v40.8h-1.71zM667.9 858.6h1.71v40.8h-1.71zM751.9 858.6h1.71v40.8h-1.71zM162.5 899.4h1.71v40.8h-1.71zM191.6 899.4h1.71v40.8h-1.71zM280.7 899.4h1.71v40.8h-1.71zM316.7 899.4h1.71v40.8h-1.71zM354.4 899.4h1.71v40.8h-1.71zM520.6 899.4h1.71v40.8h-1.71zM637.1 899.4h1.71v40.8h-1.71zM820.4 899.4h1.71v40.8h-1.71zM1233.3 899.4h1.71v40.8h-1.71zM1289.9 899.4h1.71v40.8h-1.71zM825.6 1021.8h1.71v40.8h-1.71zM46.0 1062.6h1.71v40.8h-1.71zM375.0 1062.6h1.71v40.8h-1.71zM1250.5 1103.4h1.71v40.8h-1.71zM1140.8 1144.2h1.71v40.8h-1.71zM1144.2 1144.2h1.71v40.8h-1.71zM272.2 1225.8h3.43v40.8h-3.43zM277.3 1225.8h1.71v40.8h-1.71zM1110.0 1225.8h1.71v40.8h-1.71zM1205.9 1225.8h1.71v40.8h-1.71zM1226.5 1225.8h1.71v40.8h-1.71zM1245.3 1225.8h1.71v40.8h-1.71zM99.1 1266.6h1.71v40.8h-1.71zM138.5 1266.6h1.71v40.8h-1.71zM205.3 1266.6h1.71v40.8h-1.71zM210.5 1266.6h1.71v40.8h-1.71zM313.3 1266.6h1.71v40.8h-1.71zM356.1 1266.6h1.71v40.8h-1.71zM452.1 1266.6h1.71v40.8h-1.71zM481.2 1266.6h1.71v40.8h-1.71zM544.6 1266.6h1.71v40.8h-1.71zM851.3 1266.6h1.71v40.8h-1.71zM890.7 1266.6h1.71v40.8h-1.71zM902.7 1266.6h1.71v40.8h-1.71zM936.9 1266.6h1.71v40.8h-1.71zM983.2 1266.6h1.71v40.8h-1.71zM1026.0 1266.6h1.71v40.8h-1.71zM1044.9 1266.6h1.71v40.8h-1.71zM1181.9 1266.6h1.71v40.8h-1.71zM1195.6 1266.6h1.71v40.8h-1.71zM1207.6 1266.6h1.71v40.8h-1.71zM1271.0 1266.6h1.71v40.8h-1.71zM1276.2 1266.6h1.71v40.8h-1.71zM1295.0 1266.6h1.71v40.8h-1.71zM25.4 1307.4h1.71v40.8h-1.71zM92.3 1307.4h1.71v40.8h-1.71zM160.8 1307.4h1.71v40.8h-1.71zM258.4 1307.4h1.71v40.8h-1.71zM340.7 1307.4h1.71v40.8h-1.71zM347.5 1307.4h1.71v40.8h-1.71zM422.9 1307.4h1.71v40.8h-1.71zM887.2 1307.4h1.71v40.8h-1.71zM1089.4 1307.4h1.71v40.8h-1.71zM1202.5 1307.4h1.71v40.8h-1.71zM1255.6 1307.4h1.71v40.8h-1.71zM1259.0 1307.4h1.71v40.8h-1.71zM863.2 1348.2h1.71v40.8h-1.71zM926.6 1348.2h1.71v40.8h-1.71zM935.2 1348.2h1.71v40.8h-1.71zM966.0 1348.2h1.71v40.8h-1.71zM991.7 1348.2h1.71v40.8h-1.71zM1115.1 1348.2h1.71v40.8h-1.71zM1207.6 1348.2h1.71v40.8h-1.71zM174.5 1389.0h1.71v40.8h-1.71zM909.5 1389.0h1.71v40.8h-1.71zM966.0 1389.0h1.71v40.8h-1.71zM1024.3 1389.0h1.71v40.8h-1.71zM1086.0 1389.0h1.71v40.8h-1.71zM1096.3 1389.0h1.71v40.8h-1.71zM1199.1 1389.0h1.71v40.8h-1.71z"/>
<path fill="#98c4de" d="M1110.0 409.8h1.71v40.8h-1.71zM554.9 491.4h1.71v40.8h-1.71zM798.1 491.4h1.71v40.8h-1.71zM565.1 573.0h1.71v40.8h-1.71zM577.1 573.0h1.71v40.8h-1.71zM599.4 573.0h1.71v40.8h-1.71zM647.4 573.0h1.71v40.8h-1.71zM825.6 573.0h1.71v40.8h-1.71zM1056.9 654.6h3.43v40.8h-3.43zM231.0 695.4h1.71v40.8h-1.71zM265.3 695.4h1.71v40.8h-1.71zM1235.0 695.4h1.71v40.8h-1.71zM1289.9 736.2h1.71v40.8h-1.71zM90.5 777.0h1.71v40.8h-1.71zM846.1 817.8h1.71v40.8h-1.71zM30.6 858.6h1.71v40.8h-1.71zM64.8 858.6h1.71v40.8h-1.71zM75.1 858.6h1.71v40.8h-1.71zM87.1 858.6h1.71v40.8h-1.71zM227.6 858.6h1.71v40.8h-1.71zM232.7 858.6h1.71v40.8h-1.71zM282.4 858.6h1.71v40.8h-1.71zM369.8 858.6h1.71v40.8h-1.71zM453.8 858.6h1.71v40.8h-1.71zM530.9 858.6h1.71v40.8h-1.71zM553.1 858.6h1.71v40.8h-1.71zM563.4 858.6h3.43v40.8h-3.43zM573.7 858.6h3.43v40.8h-3.43zM609.7 858.6h1.71v40.8h-1.71zM649.1 858.6h1.71v40.8h-1.71zM755.3 858.6h3.43v40.8h-3.43zM762.2 858.6h1.71v40.8h-1.71zM818.7 858.6h1.71v40.8h-1.71zM44.3 899.4h1.71v40.8h-1.71zM104.2 899.4h1.71v40.8h-1.71zM129.9 899.4h1.71v40.8h-1.71zM177.9 899.4h1.71v40.8h-1.71zM255.0 899.4h1.71v40.8h-1.71zM345.8 899.4h1.71v40.8h-1.71zM359.5 899.4h1.71v40.8h-1.71zM537.7 899.4h1.71v40.8h-1.71zM592.5 899.4h1.71v40.8h-1.71zM657.6 899.4h1.71v40.8h-1.71zM1086.0 899.4h1.71v40.8h-1.71zM1283.0 899.4h1.71v40.8h-1.71zM106.0 940.2h1.71v40.8h-1.71zM870.1 940.2h1.71v40.8h-1.71zM883.8 940.2h1.71v40.8h-1.71zM116.2 1021.8h1.71v40.8h-1.71zM15.2 1225.8h1.71v40.8h-1.71zM426.4 1225.8h1.71v40.8h-1.71zM438.3 1225.8h1.71v40.8h-1.71zM455.5 1225.8h1.71v40.8h-1.71zM470.9 1225.8h1.71v40.8h-1.71zM1096.3 1225.8h1.71v40.8h-1.71zM1125.4 1225.8h1.71v40.8h-1.71zM1219.6 1225.8h1.71v40.8h-1.71zM102.5 1266.6h1.71v40.8h-1.71zM243.0 1266.6h1.71v40.8h-1.71zM255.0 1266.6h1.71v40.8h-1.71zM438.3 1266.6h1.71v40.8h-1.71zM467.5 1266.6h1.71v40.8h-1.71zM537.7 1266.6h1.71v40.8h-1.71zM652.5 1266.6h1.71v40.8h-1.71zM888.9 1266.6h1.71v40.8h-1.71zM957.5 1266.6h1.71v40.8h-1.71zM1032.9 1266.6h1.71v40.8h-1.71zM1188.8 1266.6h1.71v40.8h-1.71zM1192.2 1266.6h1.71v40.8h-1.71zM1264.2 1266.6h1.71v40.8h-1.71zM16.9 1307.4h1.71v40.8h-1.71zM32.3 1307.4h1.71v40.8h-1.71zM155.6 1307.4h1.71v40.8h-1.71zM213.9 1307.4h1.71v40.8h-1.71zM227.6 1307.4h1.71v40.8h-1.71zM241.3 1307.4h1.71v40.8h-1.71zM272.2 1307.4h1.71v40.8h-1.71zM482.9 1307.4h1.71v40.8h-1.71zM1022.6 1307.4h1.71v40.8h-1.71zM1106.5 1307.4h1.71v40.8h-1.71zM1223.0 1307.4h1.71v40.8h-1.71zM1233.3 1307.4h1.71v40.8h-1.71zM1284.7 1307.4h3.43v40.8h-3.43zM58.0 1348.2h1.71v40.8h-1.71zM887.2 1348.2h1.71v40.8h-1.71zM904.4 1348.2h1.71v40.8h-1.71zM1050.0 1348.2h1.71v40.8h-1.71zM1094.5 1348.2h1.71v40.8h-1.71zM1217.9 1348.2h1.71v40.8h-1.71zM1221.3 1348.2h1.71v40.8h-1.71zM1277.9 1348.2h1.71v40.8h-1.71zM100.8 1389.0h1.71v40.8h-1.71zM954.1 1389.0h1.71v40.8h-1.71zM1209.3 1389.0h1.71v40.8h-1.71zM1212.8 1389.0h1.71v40.8h-1.71zM1276.2 1389.0h1.71v40.8h-1.71zM1279.6 1389.0h1.71v40.8h-1.71z"/>
<path fill="#9dc7df" d="M111.1 409.8h1.71v40.8h-1.71zM121.4 409.8h1.71v40.8h-1.71zM877.0 409.8h1.71v40.8h-1.71zM1122.0 409.8h1.71v40.8h-1.71zM1044.9 450.6h1.71v40.8h-1.71zM549.7 491.4h1.71v40.8h-1.71zM664.5 491.4h1.71v40.8h-1.71zM710.8 491.4h1.71v40.8h-1.71zM560.0 573.0h1.71v40.8h-1.71zM589.1 573.0h1.71v40.8h-1.71zM597.7 573.0h1.71v40.8h-1.71zM805.0 573.0h1.71v40.8h-1.71zM888.9 654.6h1.71v40.8h-1.71zM1055.1 695.4h1.71v40.8h-1.71zM279.0 817.8h1.71v40.8h-1.71zM359.5 817.8h1.71v40.8h-1.71zM369.8 817.8h1.71v40.8h-1.71zM712.5 817.8h1.71v40.8h-1.71zM856.4 817.8h1.71v40.8h-1.71zM1169.9 817.8h1.71v40.8h-1.71zM123.1 858.6h1.71v40.8h-1.71zM138.5 858.6h1.71v40.8h-1.71zM241.3 858.6h1.71v40.8h-1.71zM306.4 858.6h1.71v40.8h-1.71zM311.6 858.6h1.71v40.8h-1.71zM371.5 858.6h1.71v40.8h-1.71zM597.7 858.6h1.71v40.8h-1.71zM604.5 858.6h1.71v40.8h-1.71zM613.1 858.6h1.71v40.8h-1.71zM628.5 858.6h1.71v40.8h-1.71zM669.6 858.6h1.71v40.8h-1.71zM673.1 858.6h1.71v40.8h-1.71zM738.2 858.6h1.71v40.8h-1.71zM763.9 858.6h1.71v40.8h-1.71zM844.4 858.6h1.71v40.8h-1.71zM63.1 899.4h1.71v40.8h-1.71zM68.3 899.4h1.71v40.8h-1.71zM147.1 899.4h1.71v40.8h-1.71zM179.6 899.4h1.71v40.8h-1.71zM184.8 899.4h1.71v40.8h-1.71zM231.0 899.4h1.71v40.8h-1.71zM236.2 899.4h1.71v40.8h-1.71zM303.0 899.4h1.71v40.8h-1.71zM532.6 899.4h1.71v40.8h-1.71zM544.6 899.4h1.71v40.8h-1.71zM575.4 899.4h1.71v40.8h-1.71zM585.7 899.4h1.71v40.8h-1.71zM623.4 899.4h1.71v40.8h-1.71zM633.7 899.4h3.43v40.8h-3.43zM652.5 899.4h1.71v40.8h-1.71zM686.8 899.4h1.71v40.8h-1.71zM722.8 899.4h1.71v40.8h-1.71zM739.9 899.4h1.71v40.8h-1.71zM758.7 899.4h1.71v40.8h-1.71zM882.1 899.4h1.71v40.8h-1.71zM1019.2 899.4h1.71v40.8h-1.71zM109.4 940.2h1.71v40.8h-1.71zM839.3 940.2h1.71v40.8h-1.71zM851.3 940.2h1.71v40.8h-1.71zM1240.2 940.2h1.71v40.8h-1.71zM1245.3 940.2h1.71v40.8h-1.71zM85.4 1021.8h1.71v40.8h-1.71zM782.7 1021.8h1.71v40.8h-1.71zM47.7 1062.6h1.71v40.8h-1.71zM1253.9 1103.4h1.71v40.8h-1.71zM1091.1 1144.2h1.71v40.8h-1.71zM109.4 1185.0h1.71v40.8h-1.71zM145.4 1225.8h1.71v40.8h-1.71zM150.5 1225.8h1.71v40.8h-1.71zM287.6 1225.8h1.71v40.8h-1.71zM482.9 1225.8h1.71v40.8h-1.71zM524.0 1225.8h1.71v40.8h-1.71zM1058.6 1225.8h1.71v40.8h-1.71zM1195.6 1225.8h1.71v40.8h-1.71zM1259.0 1225.8h1.71v40.8h-1.71zM35.7 1266.6h1.71v40.8h-1.71zM253.3 1266.6h1.71v40.8h-1.71zM258.4 1266.6h1.71v40.8h-1.71zM337.3 1266.6h1.71v40.8h-1.71zM417.8 1266.6h1.71v40.8h-1.71zM446.9 1266.6h1.71v40.8h-1.71zM525.7 1266.6h1.71v40.8h-1.71zM774.2 1266.6h1.71v40.8h-1.71zM859.8 1266.6h1.71v40.8h-1.71zM894.1 1266.6h3.43v40.8h-3.43zM911.2 1266.6h1.71v40.8h-1.71zM935.2 1266.6h1.71v40.8h-1.71zM1014.0 1266.6h1.71v40.8h-1.71zM1039.7 1266.6h1.71v40.8h-1.71zM1193.9 1266.6h1.71v40.8h-1.71zM1248.7 1266.6h1.71v40.8h-1.71zM1301.9 1266.6h3.43v40.8h-3.43zM58.0 1307.4h1.71v40.8h-1.71zM112.8 1307.4h1.71v40.8h-1.71zM172.8 1307.4h1.71v40.8h-1.71zM215.6 1307.4h1.71v40.8h-1.71zM284.1 1307.4h1.71v40.8h-1.71zM309.8 1307.4h1.71v40.8h-1.71zM369.8 1307.4h1.71v40.8h-1.71zM395.5 1307.4h1.71v40.8h-1.71zM875.2 1307.4h1.71v40.8h-1.71zM897.5 1307.4h1.71v40.8h-1.71zM900.9 1307.4h1.71v40.8h-1.71zM919.8 1307.4h1.71v40.8h-1.71zM931.8 1307.4h1.71v40.8h-1.71zM960.9 1307.4h1.71v40.8h-1.71zM1029.4 1307.4h1.71v40.8h-1.71zM1055.1 1307.4h1.71v40.8h-1.71zM1104.8 1307.4h1.71v40.8h-1.71zM1245.3 1307.4h1.71v40.8h-1.71zM866.7 1348.2h1.71v40.8h-1.71zM912.9 1348.2h1.71v40.8h-1.71zM971.2 1348.2h3.43v40.8h-3.43zM1010.6 1348.2h1.71v40.8h-1.71zM1161.4 1348.2h1.71v40.8h-1.71zM176.2 1389.0h1.71v40.8h-1.71zM904.4 1389.0h1.71v40.8h-1.71zM1020.9 1389.0h1.71v40.8h-1.71zM1145.9 1389.0h1.71v40.8h-1.71z"/>
<path fill="#a2cae1" d="M972.9 409.8h1.71v40.8h-1.71zM546.3 491.4h1.71v40.8h-1.71zM793.0 491.4h1.71v40.8h-1.71zM30.6 573.0h1.71v40.8h-1.71zM311.6 573.0h1.71v40.8h-1.71zM582.3 573.0h1.71v40.8h-1.71zM630.2 573.0h1.71v40.8h-1.71zM657.6 573.0h1.71v40.8h-1.71zM222.5 695.4h1.71v40.8h-1.71zM655.9 695.4h1.71v40.8h-1.71zM1060.3 695.4h1.71v40.8h-1.71zM1224.8 695.4h1.71v40.8h-1.71zM1269.3 695.4h1.71v40.8h-1.71zM974.6 736.2h1.71v40.8h-1.71zM368.1 817.8h1.71v40.8h-1.71zM714.2 817.8h3.43v40.8h-3.43zM97.4 858.6h1.71v40.8h-1.71zM195.1 858.6h1.71v40.8h-1.71zM277.3 858.6h1.71v40.8h-1.71zM315.0 858.6h1.71v40.8h-1.71zM539.4 858.6h1.71v40.8h-1.71zM580.6 858.6h1.71v40.8h-1.71zM590.8 858.6h1.71v40.8h-1.71zM596.0 858.6h1.71v40.8h-1.71zM724.5 858.6h1.71v40.8h-1.71zM810.1 858.6h1.71v40.8h-1.71zM18.6 899.4h1.71v40.8h-1.71zM94.0 899.4h1.71v40.8h-1.71zM165.9 899.4h1.71v40.8h-1.71zM208.8 899.4h1.71v40.8h-1.71zM227.6 899.4h1.71v40.8h-1.71zM267.0 899.4h1.71v40.8h-1.71zM313.3 899.4h1.71v40.8h-1.71zM385.2 899.4h1.71v40.8h-1.71zM395.5 899.4h1.71v40.8h-1.71zM428.1 899.4h1.71v40.8h-1.71zM434.9 899.4h1.71v40.8h-1.71zM632.0 899.4h1.71v40.8h-1.71zM1192.2 899.4h1.71v40.8h-1.71zM863.2 940.2h1.71v40.8h-1.71zM878.7 940.2h1.71v40.8h-1.71zM1214.5 940.2h1.71v40.8h-1.71zM106.0 1021.8h1.71v40.8h-1.71zM128.2 1021.8h1.71v40.8h-1.71zM42.6 1062.6h1.71v40.8h-1.71zM371.5 1062.6h1.71v40.8h-1.71zM709.0 1144.2h1.71v40.8h-1.71zM1152.8 1185.0h1.71v40.8h-1.71zM431.5 1225.8h1.71v40.8h-1.71zM441.8 1225.8h1.71v40.8h-1.71zM465.8 1225.8h1.71v40.8h-1.71zM469.2 1225.8h1.71v40.8h-1.71zM993.5 1225.8h1.71v40.8h-1.71zM1044.9 1225.8h1.71v40.8h-1.71zM1188.8 1225.8h1.71v40.8h-1.71zM1209.3 1225.8h1.71v40.8h-1.71zM155.6 1266.6h1.71v40.8h-1.71zM188.2 1266.6h1.71v40.8h-1.71zM340.7 1266.6h1.71v40.8h-1.71zM354.4 1266.6h1.71v40.8h-1.71zM794.7 1266.6h1.71v40.8h-1.71zM991.7 1266.6h1.71v40.8h-1.71zM1058.6 1266.6h1.71v40.8h-1.71zM1156.2 1266.6h1.71v40.8h-1.71zM1176.8 1266.6h1.71v40.8h-1.71zM1241.9 1266.6h1.71v40.8h-1.71zM121.4 1307.4h1.71v40.8h-1.71zM171.1 1307.4h1.71v40.8h-1.71zM179.6 1307.4h1.71v40.8h-1.71zM255.0 1307.4h1.71v40.8h-1.71zM294.4 1307.4h1.71v40.8h-1.71zM344.1 1307.4h1.71v40.8h-1.71zM390.4 1307.4h1.71v40.8h-1.71zM416.1 1307.4h1.71v40.8h-1.71zM537.7 1307.4h1.71v40.8h-1.71zM868.4 1307.4h1.71v40.8h-1.71zM895.8 1307.4h1.71v40.8h-1.71zM924.9 1307.4h1.71v40.8h-1.71zM954.1 1307.4h1.71v40.8h-1.71zM967.8 1307.4h1.71v40.8h-1.71zM1027.7 1307.4h1.71v40.8h-1.71zM1067.1 1348.2h1.71v40.8h-1.71zM1147.7 1348.2h1.71v40.8h-1.71zM1180.2 1348.2h1.71v40.8h-1.71zM1204.2 1348.2h1.71v40.8h-1.71zM104.2 1389.0h3.43v40.8h-3.43zM880.4 1389.0h1.71v40.8h-1.71zM892.4 1389.0h1.71v40.8h-1.71zM972.9 1389.0h1.71v40.8h-1.71zM996.9 1389.0h1.71v40.8h-1.71z"/>
<path fill="#a7cde3" d="M16.9 409.8h1.71v40.8h-1.71zM1113.4 409.8h1.71v40.8h-1.71zM1118.5 409.8h1.71v40.8h-1.71zM1226.5 409.8h1.71v40.8h-1.71zM589.1 491.4h1.71v40.8h-1.71zM594.3 491.4h1.71v40.8h-1.71zM722.8 491.4h1.71v40.8h-1.71zM637.1 573.0h1.71v40.8h-1.71zM643.9 573.0h1.71v40.8h-1.71zM419.5 654.6h1.71v40.8h-1.71zM914.6 654.6h1.71v40.8h-1.71zM1051.7 654.6h1.71v40.8h-1.71zM1293.3 654.6h1.71v40.8h-1.71zM239.6 695.4h1.71v40.8h-1.71zM116.2 817.8h1.71v40.8h-1.71zM364.7 817.8h1.71v40.8h-1.71zM911.2 817.8h1.71v40.8h-1.71zM1134.0 817.8h1.71v40.8h-1.71zM52.8 858.6h1.71v40.8h-1.71zM99.1 858.6h1.71v40.8h-1.71zM136.8 858.6h1.71v40.8h-1.71zM273.9 858.6h3.43v40.8h-3.43zM297.9 858.6h1.71v40.8h-1.71zM356.1 858.6h1.71v40.8h-1.71zM359.5 858.6h1.71v40.8h-1.71zM373.2 858.6h1.71v40.8h-1.71zM560.0 858.6h3.43v40.8h-3.43zM620.0 858.6h1.71v40.8h-1.71zM637.1 858.6h1.71v40.8h-1.71zM679.9 858.6h1.71v40.8h-1.71zM20.3 899.4h3.43v40.8h-3.43zM76.8 899.4h1.71v40.8h-1.71zM102.5 899.4h1.71v40.8h-1.71zM164.2 899.4h1.71v40.8h-1.71zM171.1 899.4h1.71v40.8h-1.71zM193.3 899.4h1.71v40.8h-1.71zM248.2 899.4h1.71v40.8h-1.71zM275.6 899.4h1.71v40.8h-1.71zM361.2 899.4h1.71v40.8h-1.71zM392.1 899.4h1.71v40.8h-1.71zM472.6 899.4h3.43v40.8h-3.43zM620.0 899.4h1.71v40.8h-1.71zM642.2 899.4h1.71v40.8h-1.71zM703.9 899.4h1.71v40.8h-1.71zM810.1 899.4h3.43v40.8h-3.43zM818.7 899.4h1.71v40.8h-1.71zM1187.1 899.4h1.71v40.8h-1.71zM1248.7 899.4h1.71v40.8h-1.71zM1252.2 899.4h3.43v40.8h-3.43zM835.8 940.2h1.71v40.8h-1.71zM846.1 940.2h1.71v40.8h-1.71zM859.8 940.2h1.71v40.8h-1.71zM1243.6 940.2h1.71v40.8h-1.71zM37.4 1021.8h1.71v40.8h-1.71zM97.4 1021.8h1.71v40.8h-1.71zM781.0 1021.8h1.71v40.8h-1.71zM705.6 1144.2h1.71v40.8h-1.71zM1106.5 1144.2h1.71v40.8h-1.71zM107.7 1225.8h1.71v40.8h-1.71zM148.8 1225.8h1.71v40.8h-1.71zM445.2 1225.8h1.71v40.8h-1.71zM460.6 1225.8h1.71v40.8h-1.71zM464.0 1225.8h1.71v40.8h-1.71zM494.9 1225.8h1.71v40.8h-1.71zM501.7 1225.8h1.71v40.8h-1.71zM883.8 1225.8h1.71v40.8h-1.71zM1008.9 1225.8h1.71v40.8h-1.71zM1048.3 1225.8h1.71v40.8h-1.71zM1277.9 1225.8h1.71v40.8h-1.71zM124.8 1266.6h1.71v40.8h-1.71zM157.4 1266.6h1.71v40.8h-1.71zM186.5 1266.6h1.71v40.8h-1.71zM213.9 1266.6h1.71v40.8h-1.71zM249.9 1266.6h1.71v40.8h-1.71zM469.2 1266.6h1.71v40.8h-1.71zM757.0 1266.6h1.71v40.8h-1.71zM885.5 1266.6h1.71v40.8h-1.71zM943.8 1266.6h1.71v40.8h-1.71zM1012.3 1266.6h1.71v40.8h-1.71zM1022.6 1266.6h1.71v40.8h-1.71zM1130.5 1266.6h1.71v40.8h-1.71zM1164.8 1266.6h1.71v40.8h-1.71zM1171.6 1266.6h1.71v40.8h-1.71zM1214.5 1266.6h1.71v40.8h-1.71zM1219.6 1266.6h1.71v40.8h-1.71zM80.3 1307.4h1.71v40.8h-1.71zM138.5 1307.4h1.71v40.8h-1.71zM237.9 1307.4h1.71v40.8h-1.71zM330.4 1307.4h1.71v40.8h-1.71zM489.7 1307.4h1.71v40.8h-1.71zM926.6 1307.4h1.71v40.8h-1.71zM936.9 1307.4h1.71v40.8h-1.71zM988.3 1307.4h1.71v40.8h-1.71zM1012.3 1307.4h1.71v40.8h-1.71zM1214.5 1307.4h1.71v40.8h-1.71zM1044.9 1348.2h1.71v40.8h-1.71zM1065.4 1348.2h1.71v40.8h-1.71zM1084.3 1348.2h1.71v40.8h-1.71zM1123.7 1348.2h1.71v40.8h-1.71zM1159.7 1348.2h1.71v40.8h-1.71zM1286.4 1348.2h1.71v40.8h-1.71zM938.6 1389.0h1.71v40.8h-1.71zM948.9 1389.0h1.71v40.8h-1.71zM1043.1 1389.0h3.43v40.8h-3.43zM1067.1 1389.0h1.71v40.8h-1.71zM1154.5 1389.0h1.71v40.8h-1.71zM1260.7 1389.0h1.71v40.8h-1.71z"/>
<path fill="#abd0e5" d="M126.5 409.8h1.71v40.8h-1.71zM974.6 409.8h1.71v40.8h-1.71zM1204.2 409.8h1.71v40.8h-1.71zM712.5 491.4h1.71v40.8h-1.71zM13.4 573.0h1.71v40.8h-1.71zM35.7 573.0h1.71v40.8h-1.71zM618.2 573.0h3.43v40.8h-3.43zM673.1 573.0h1.71v40.8h-1.71zM681.6 573.0h3.43v40.8h-3.43zM899.2 695.4h1.71v40.8h-1.71zM1236.8 695.4h1.71v40.8h-1.71zM1265.9 695.4h1.71v40.8h-1.71zM900.9 736.2h3.43v40.8h-3.43zM1003.7 736.2h1.71v40.8h-1.71zM345.8 817.8h1.71v40.8h-1.71zM873.5 817.8h1.71v40.8h-1.71zM133.4 858.6h1.71v40.8h-1.71zM215.6 858.6h1.71v40.8h-1.71zM284.1 858.6h1.71v40.8h-1.71zM383.5 858.6h1.71v40.8h-1.71zM515.4 858.6h1.71v40.8h-1.71zM606.3 858.6h1.71v40.8h-1.71zM632.0 858.6h1.71v40.8h-1.71zM652.5 858.6h1.71v40.8h-1.71zM95.7 899.4h1.71v40.8h-1.71zM114.5 899.4h1.71v40.8h-1.71zM153.9 899.4h1.71v40.8h-1.71zM244.7 899.4h1.71v40.8h-1.71zM304.7 899.4h1.71v40.8h-1.71zM309.8 899.4h1.71v40.8h-1.71zM335.5 899.4h1.71v40.8h-1.71zM530.9 899.4h1.71v40.8h-1.71zM572.0 899.4h1.71v40.8h-1.71zM580.6 899.4h3.43v40.8h-3.43zM596.0 899.4h1.71v40.8h-1.71zM654.2 899.4h1.71v40.8h-1.71zM667.9 899.4h1.71v40.8h-1.71zM717.6 899.4h1.71v40.8h-1.71zM729.6 899.4h1.71v40.8h-1.71zM762.2 899.4h1.71v40.8h-1.71zM817.0 899.4h1.71v40.8h-1.71zM878.7 899.4h1.71v40.8h-1.71zM1183.6 899.4h1.71v40.8h-1.71zM1199.1 899.4h1.71v40.8h-1.71zM1277.9 899.4h1.71v40.8h-1.71zM854.7 940.2h3.43v40.8h-3.43zM868.4 940.2h1.71v40.8h-1.71zM880.4 940.2h1.71v40.8h-1.71zM1183.6 940.2h1.71v40.8h-1.71zM1219.6 940.2h1.71v40.8h-1.71zM35.7 1021.8h1.71v40.8h-1.71zM667.9 1021.8h1.71v40.8h-1.71zM820.4 1021.8h1.71v40.8h-1.71zM378.4 1062.6h1.71v40.8h-1.71zM1115.1 1144.2h1.71v40.8h-1.71zM18.6 1225.8h1.71v40.8h-1.71zM80.3 1225.8h1.71v40.8h-1.71zM97.4 1225.8h1.71v40.8h-1.71zM131.7 1225.8h1.71v40.8h-1.71zM246.5 1225.8h1.71v40.8h-1.71zM405.8 1225.8h1.71v40.8h-1.71zM416.1 1225.8h1.71v40.8h-1.71zM428.1 1225.8h1.71v40.8h-1.71zM436.6 1225.8h1.71v40.8h-1.71zM467.5 1225.8h1.71v40.8h-1.71zM477.8 1225.8h1.71v40.8h-1.71zM1046.6 1225.8h1.71v40.8h-1.71zM1111.7 1225.8h1.71v40.8h-1.71zM1145.9 1225.8h1.71v40.8h-1.71zM1192.2 1225.8h1.71v40.8h-1.71zM1207.6 1225.8h1.71v40.8h-1.71zM92.3 1266.6h1.71v40.8h-1.71zM123.1 1266.6h1.71v40.8h-1.71zM159.1 1266.6h1.71v40.8h-1.71zM165.9 1266.6h1.71v40.8h-1.71zM189.9 1266.6h1.71v40.8h-1.71zM193.3 1266.6h1.71v40.8h-1.71zM217.3 1266.6h1.71v40.8h-1.71zM289.3 1266.6h1.71v40.8h-1.71zM321.8 1266.6h1.71v40.8h-1.71zM529.2 1266.6h1.71v40.8h-1.71zM705.6 1266.6h1.71v40.8h-1.71zM724.5 1266.6h1.71v40.8h-1.71zM782.7 1266.6h1.71v40.8h-1.71zM866.7 1266.6h1.71v40.8h-1.71zM1211.1 1266.6h1.71v40.8h-1.71zM1305.3 1266.6h1.71v40.8h-1.71zM11.7 1307.4h1.71v40.8h-1.71zM95.7 1307.4h1.71v40.8h-1.71zM236.2 1307.4h1.71v40.8h-1.71zM313.3 1307.4h1.71v40.8h-1.71zM371.5 1307.4h1.71v40.8h-1.71zM397.2 1307.4h1.71v40.8h-1.71zM428.1 1307.4h1.71v40.8h-1.71zM498.3 1307.4h1.71v40.8h-1.71zM512.0 1307.4h1.71v40.8h-1.71zM861.5 1307.4h1.71v40.8h-1.71zM1000.3 1307.4h1.71v40.8h-1.71zM1036.3 1307.4h1.71v40.8h-1.71zM1178.5 1307.4h1.71v40.8h-1.71zM1192.2 1307.4h1.71v40.8h-1.71zM1228.2 1307.4h1.71v40.8h-1.71zM548.0 1348.2h1.71v40.8h-1.71zM877.0 1348.2h1.71v40.8h-1.71zM950.6 1348.2h1.71v40.8h-1.71zM1118.5 1348.2h1.71v40.8h-1.71zM1145.9 1348.2h1.71v40.8h-1.71zM1188.8 1348.2h1.71v40.8h-1.71zM866.7 1389.0h1.71v40.8h-1.71zM883.8 1389.0h1.71v40.8h-1.71zM1039.7 1389.0h1.71v40.8h-1.71zM1214.5 1389.0h1.71v40.8h-1.71zM1253.9 1389.0h1.71v40.8h-1.71zM1257.3 1389.0h1.71v40.8h-1.71z"/>
<path fill="#b0d3e6" d="M275.6 409.8h1.71v40.8h-1.71zM1087.7 409.8h1.71v40.8h-1.71zM553.1 491.4h1.71v40.8h-1.71zM662.8 491.4h1.71v40.8h-1.71zM822.1 491.4h1.71v40.8h-1.71zM325.3 573.0h1.71v40.8h-1.71zM602.8 573.0h1.71v40.8h-1.71zM645.7 573.0h1.71v40.8h-1.71zM654.2 573.0h1.71v40.8h-1.71zM883.8 654.6h1.71v40.8h-1.71zM984.9 695.4h1.71v40.8h-1.71zM969.5 736.2h1.71v40.8h-1.71zM972.9 736.2h1.71v40.8h-1.71zM354.4 817.8h1.71v40.8h-1.71zM1214.5 817.8h1.71v40.8h-1.71zM303.0 858.6h1.71v40.8h-1.71zM325.3 858.6h1.71v40.8h-1.71zM465.8 858.6h1.71v40.8h-1.71zM549.7 858.6h1.71v40.8h-1.71zM556.6 858.6h3.43v40.8h-3.43zM626.8 858.6h1.71v40.8h-1.71zM630.2 858.6h1.71v40.8h-1.71zM697.1 858.6h1.71v40.8h-1.71zM82.0 899.4h1.71v40.8h-1.71zM136.8 899.4h1.71v40.8h-1.71zM152.2 899.4h1.71v40.8h-1.71zM169.4 899.4h1.71v40.8h-1.71zM200.2 899.4h1.71v40.8h-1.71zM366.4 899.4h1.71v40.8h-1.71zM589.1 899.4h1.71v40.8h-1.71zM621.7 899.4h1.71v40.8h-1.71zM659.4 899.4h1.71v40.8h-1.71zM674.8 899.4h1.71v40.8h-1.71zM738.2 899.4h1.71v40.8h-1.71zM791.3 899.4h1.71v40.8h-1.71zM1094.5 899.4h1.71v40.8h-1.71zM1195.6 899.4h1.71v40.8h-1.71zM1241.9 899.4h1.71v40.8h-1.71zM1265.9 899.4h3.43v40.8h-3.43zM97.4 940.2h1.71v40.8h-1.71zM873.5 940.2h1.71v40.8h-1.71zM1238.5 940.2h1.71v40.8h-1.71zM1241.9 940.2h1.71v40.8h-1.71zM124.8 1021.8h1.71v40.8h-1.71zM1253.9 1021.8h1.71v40.8h-1.71zM44.3 1062.6h1.71v40.8h-1.71zM707.3 1144.2h1.71v40.8h-1.71zM983.2 1144.2h1.71v40.8h-1.71zM1087.7 1144.2h1.71v40.8h-1.71zM47.7 1185.0h1.71v40.8h-1.71zM1015.7 1185.0h1.71v40.8h-1.71zM400.7 1225.8h1.71v40.8h-1.71zM407.5 1225.8h1.71v40.8h-1.71zM434.9 1225.8h1.71v40.8h-1.71zM890.7 1225.8h1.71v40.8h-1.71zM63.1 1266.6h1.71v40.8h-1.71zM85.4 1266.6h1.71v40.8h-1.71zM272.2 1266.6h1.71v40.8h-1.71zM414.4 1266.6h1.71v40.8h-1.71zM655.9 1266.6h1.71v40.8h-1.71zM931.8 1266.6h1.71v40.8h-1.71zM1135.7 1266.6h1.71v40.8h-1.71zM1293.3 1266.6h1.71v40.8h-1.71zM22.0 1307.4h1.71v40.8h-1.71zM30.6 1307.4h1.71v40.8h-1.71zM73.4 1307.4h1.71v40.8h-1.71zM82.0 1307.4h1.71v40.8h-1.71zM87.1 1307.4h1.71v40.8h-1.71zM124.8 1307.4h1.71v40.8h-1.71zM275.6 1307.4h1.71v40.8h-1.71zM337.3 1307.4h1.71v40.8h-1.71zM378.4 1307.4h1.71v40.8h-1.71zM465.8 1307.4h1.71v40.8h-1.71zM493.2 1307.4h1.71v40.8h-1.71zM517.2 1307.4h1.71v40.8h-1.71zM1068.8 1307.4h1.71v40.8h-1.71zM1074.0 1307.4h1.71v40.8h-1.71zM1101.4 1307.4h1.71v40.8h-1.71zM1120.2 1307.4h1.71v40.8h-1.71zM1193.9 1307.4h1.71v40.8h-1.71zM931.8 1348.2h1.71v40.8h-1.71zM1020.9 1348.2h1.71v40.8h-1.71zM189.9 1389.0h1.71v40.8h-1.71zM546.3 1389.0h1.71v40.8h-1.71zM921.5 1389.0h1.71v40.8h-1.71zM943.8 1389.0h1.71v40.8h-1.71zM1051.7 1389.0h1.71v40.8h-1.71z"/>
<path fill="#b5d7e8" d="M1086.0 409.8h1.71v40.8h-1.71zM801.6 491.4h1.71v40.8h-1.71zM817.0 491.4h1.71v40.8h-1.71zM10.0 573.0h1.71v40.8h-1.71zM363.0 573.0h1.71v40.8h-1.71zM691.9 573.0h1.71v40.8h-1.71zM1012.3 654.6h1.71v40.8h-1.71zM1062.0 654.6h1.71v40.8h-1.71zM979.8 695.4h1.71v40.8h-1.71zM907.8 736.2h1.71v40.8h-1.71zM1135.7 736.2h1.71v40.8h-1.71zM340.7 817.8h1.71v40.8h-1.71zM352.7 817.8h1.71v40.8h-1.71zM356.1 817.8h1.71v40.8h-1.71zM863.2 817.8h1.71v40.8h-1.71zM82.0 858.6h1.71v40.8h-1.71zM104.2 858.6h1.71v40.8h-1.71zM109.4 858.6h1.71v40.8h-1.71zM135.1 858.6h1.71v40.8h-1.71zM191.6 858.6h1.71v40.8h-1.71zM265.3 858.6h1.71v40.8h-1.71zM321.8 858.6h1.71v40.8h-1.71zM339.0 858.6h1.71v40.8h-1.71zM342.4 858.6h1.71v40.8h-1.71zM375.0 858.6h1.71v40.8h-1.71zM548.0 858.6h1.71v40.8h-1.71zM582.3 858.6h1.71v40.8h-1.71zM589.1 858.6h1.71v40.8h-1.71zM601.1 858.6h1.71v40.8h-1.71zM645.7 858.6h1.71v40.8h-1.71zM655.9 858.6h1.71v40.8h-1.71zM690.2 858.6h1.71v40.8h-1.71zM712.5 858.6h1.71v40.8h-1.71zM717.6 858.6h1.71v40.8h-1.71zM729.6 858.6h1.71v40.8h-1.71zM765.6 858.6h1.71v40.8h-1.71zM777.6 858.6h1.71v40.8h-1.71zM808.4 858.6h1.71v40.8h-1.71zM846.1 858.6h1.71v40.8h-1.71zM16.9 899.4h1.71v40.8h-1.71zM58.0 899.4h1.71v40.8h-1.71zM112.8 899.4h1.71v40.8h-1.71zM155.6 899.4h1.71v40.8h-1.71zM160.8 899.4h1.71v40.8h-1.71zM222.5 899.4h1.71v40.8h-1.71zM246.5 899.4h1.71v40.8h-1.71zM261.9 899.4h1.71v40.8h-1.71zM333.8 899.4h1.71v40.8h-1.71zM383.5 899.4h1.71v40.8h-1.71zM404.1 899.4h1.71v40.8h-1.71zM414.4 899.4h1.71v40.8h-1.71zM602.8 899.4h1.71v40.8h-1.71zM655.9 899.4h1.71v40.8h-1.71zM666.2 899.4h1.71v40.8h-1.71zM719.3 899.4h1.71v40.8h-1.71zM746.7 899.4h1.71v40.8h-1.71zM760.4 899.4h1.71v40.8h-1.71zM787.9 899.4h1.71v40.8h-1.71zM1017.4 899.4h1.71v40.8h-1.71zM1259.0 899.4h1.71v40.8h-1.71zM123.1 940.2h1.71v40.8h-1.71zM126.5 940.2h1.71v40.8h-1.71zM129.9 940.2h1.71v40.8h-1.71zM834.1 940.2h1.71v40.8h-1.71zM1207.6 940.2h1.71v40.8h-1.71zM1217.9 940.2h1.71v40.8h-1.71zM30.6 1021.8h1.71v40.8h-1.71zM61.4 1021.8h1.71v40.8h-1.71zM1274.4 1021.8h1.71v40.8h-1.71zM1288.2 1021.8h1.71v40.8h-1.71zM1103.1 1144.2h1.71v40.8h-1.71zM1108.3 1144.2h1.71v40.8h-1.71zM82.0 1185.0h1.71v40.8h-1.71zM888.9 1185.0h1.71v40.8h-1.71zM71.7 1225.8h1.71v40.8h-1.71zM412.6 1225.8h1.71v40.8h-1.71zM417.8 1225.8h1.71v40.8h-1.71zM443.5 1225.8h1.71v40.8h-1.71zM458.9 1225.8h1.71v40.8h-1.71zM774.2 1225.8h1.71v40.8h-1.71zM880.4 1225.8h1.71v40.8h-1.71zM1166.5 1225.8h1.71v40.8h-1.71zM152.2 1266.6h1.71v40.8h-1.71zM239.6 1266.6h1.71v40.8h-1.71zM244.7 1266.6h3.43v40.8h-3.43zM265.3 1266.6h1.71v40.8h-1.71zM311.6 1266.6h1.71v40.8h-1.71zM332.1 1266.6h1.71v40.8h-1.71zM431.5 1266.6h1.71v40.8h-1.71zM441.8 1266.6h1.71v40.8h-1.71zM650.8 1266.6h1.71v40.8h-1.71zM661.1 1266.6h1.71v40.8h-1.71zM981.5 1266.6h1.71v40.8h-1.71zM1046.6 1266.6h1.71v40.8h-1.71zM1068.8 1266.6h1.71v40.8h-1.71zM1106.5 1266.6h1.71v40.8h-1.71zM1116.8 1266.6h1.71v40.8h-1.71zM40.9 1307.4h1.71v40.8h-1.71zM64.8 1307.4h1.71v40.8h-1.71zM75.1 1307.4h1.71v40.8h-1.71zM181.3 1307.4h1.71v40.8h-1.71zM189.9 1307.4h1.71v40.8h-1.71zM195.1 1307.4h1.71v40.8h-1.71zM220.8 1307.4h1.71v40.8h-1.71zM280.7 1307.4h1.71v40.8h-1.71zM339.0 1307.4h1.71v40.8h-1.71zM352.7 1307.4h1.71v40.8h-1.71zM363.0 1307.4h1.71v40.8h-1.71zM424.6 1307.4h1.71v40.8h-1.71zM452.1 1307.4h1.71v40.8h-1.71zM479.5 1307.4h1.71v40.8h-1.71zM503.5 1307.4h1.71v40.8h-1.71zM515.4 1307.4h1.71v40.8h-1.71zM882.1 1307.4h1.71v40.8h-1.71zM1002.0 1307.4h1.71v40.8h-1.71zM1181.9 1307.4h1.71v40.8h-1.71zM1188.8 1307.4h1.71v40.8h-1.71zM1195.6 1307.4h3.43v40.8h-3.43zM409.2 1348.2h1.71v40.8h-1.71zM1039.7 1348.2h1.71v40.8h-1.71zM1089.4 1348.2h1.71v40.8h-1.71zM1103.1 1348.2h1.71v40.8h-1.71zM1216.2 1348.2h1.71v40.8h-1.71zM111.1 1389.0h1.71v40.8h-1.71zM184.8 1389.0h1.71v40.8h-1.71zM306.4 1389.0h1.71v40.8h-1.71zM398.9 1389.0h1.71v40.8h-1.71zM851.3 1389.0h1.71v40.8h-1.71z"/>
<path fill="#badaea" d="M503.5 409.8h1.71v40.8h-1.71zM1116.8 409.8h1.71v40.8h-1.71zM714.2 491.4h1.71v40.8h-1.71zM611.4 573.0h1.71v40.8h-1.71zM666.2 573.0h1.71v40.8h-1.71zM669.6 573.0h1.71v40.8h-1.71zM679.9 573.0h1.71v40.8h-1.71zM688.5 573.0h1.71v40.8h-1.71zM813.6 573.0h1.71v40.8h-1.71zM424.6 654.6h1.71v40.8h-1.71zM885.5 654.6h1.71v40.8h-1.71zM1020.9 654.6h1.71v40.8h-1.71zM527.4 695.4h1.71v40.8h-1.71zM906.1 736.2h1.71v40.8h-1.71zM993.5 736.2h1.71v40.8h-1.71zM342.4 817.8h1.71v40.8h-1.71zM904.4 817.8h1.71v40.8h-1.71zM207.0 858.6h1.71v40.8h-1.71zM244.7 858.6h1.71v40.8h-1.71zM260.2 858.6h1.71v40.8h-1.71zM460.6 858.6h1.71v40.8h-1.71zM678.2 858.6h1.71v40.8h-1.71zM734.7 858.6h1.71v40.8h-1.71zM770.7 858.6h1.71v40.8h-1.71zM813.6 858.6h1.71v40.8h-1.71zM8.3 899.4h1.71v40.8h-1.71zM23.7 899.4h1.71v40.8h-1.71zM51.1 899.4h1.71v40.8h-1.71zM99.1 899.4h1.71v40.8h-1.71zM107.7 899.4h1.71v40.8h-1.71zM111.1 899.4h1.71v40.8h-1.71zM159.1 899.4h1.71v40.8h-1.71zM176.2 899.4h1.71v40.8h-1.71zM268.7 899.4h1.71v40.8h-1.71zM325.3 899.4h3.43v40.8h-3.43zM393.8 899.4h1.71v40.8h-1.71zM503.5 899.4h1.71v40.8h-1.71zM541.1 899.4h1.71v40.8h-1.71zM556.6 899.4h1.71v40.8h-1.71zM561.7 899.4h1.71v40.8h-1.71zM584.0 899.4h1.71v40.8h-1.71zM614.8 899.4h3.43v40.8h-3.43zM628.5 899.4h1.71v40.8h-1.71zM669.6 899.4h1.71v40.8h-1.71zM750.2 899.4h1.71v40.8h-1.71zM775.9 899.4h1.71v40.8h-1.71zM784.4 899.4h1.71v40.8h-1.71zM799.9 899.4h1.71v40.8h-1.71zM813.6 899.4h1.71v40.8h-1.71zM868.4 899.4h1.71v40.8h-1.71zM1217.9 899.4h1.71v40.8h-1.71zM1229.9 899.4h1.71v40.8h-1.71zM1260.7 899.4h3.43v40.8h-3.43zM861.5 940.2h1.71v40.8h-1.71zM1204.2 940.2h1.71v40.8h-1.71zM58.0 1021.8h1.71v40.8h-1.71zM1257.3 1021.8h1.71v40.8h-1.71zM1262.5 1021.8h1.71v40.8h-1.71zM1289.9 1021.8h1.71v40.8h-1.71zM40.9 1062.6h1.71v40.8h-1.71zM157.4 1144.2h1.71v40.8h-1.71zM407.5 1144.2h1.71v40.8h-1.71zM1238.5 1144.2h1.71v40.8h-1.71zM669.6 1185.0h1.71v40.8h-1.71zM147.1 1225.8h1.71v40.8h-1.71zM267.0 1225.8h1.71v40.8h-1.71zM429.8 1225.8h1.71v40.8h-1.71zM506.9 1225.8h1.71v40.8h-1.71zM530.9 1225.8h1.71v40.8h-1.71zM887.2 1225.8h1.71v40.8h-1.71zM1063.7 1225.8h1.71v40.8h-1.71zM1135.7 1225.8h1.71v40.8h-1.71zM1199.1 1225.8h1.71v40.8h-1.71zM1267.6 1225.8h1.71v40.8h-1.71zM23.7 1266.6h1.71v40.8h-1.71zM40.9 1266.6h1.71v40.8h-1.71zM107.7 1266.6h1.71v40.8h-1.71zM261.9 1266.6h1.71v40.8h-1.71zM294.4 1266.6h1.71v40.8h-1.71zM323.6 1266.6h1.71v40.8h-1.71zM455.5 1266.6h1.71v40.8h-1.71zM491.5 1266.6h1.71v40.8h-1.71zM500.0 1266.6h1.71v40.8h-1.71zM522.3 1266.6h1.71v40.8h-1.71zM654.2 1266.6h1.71v40.8h-1.71zM871.8 1266.6h1.71v40.8h-1.71zM978.0 1266.6h1.71v40.8h-1.71zM1067.1 1266.6h1.71v40.8h-1.71zM1238.5 1266.6h1.71v40.8h-1.71zM1283.0 1266.6h1.71v40.8h-1.71zM15.2 1307.4h1.71v40.8h-1.71zM59.7 1307.4h1.71v40.8h-1.71zM66.6 1307.4h1.71v40.8h-1.71zM419.5 1307.4h1.71v40.8h-1.71zM440.1 1307.4h3.43v40.8h-3.43zM460.6 1307.4h1.71v40.8h-1.71zM464.0 1307.4h1.71v40.8h-1.71zM467.5 1307.4h1.71v40.8h-1.71zM856.4 1307.4h1.71v40.8h-1.71zM916.4 1307.4h1.71v40.8h-1.71zM1200.8 1307.4h1.71v40.8h-1.71zM1209.3 1307.4h1.71v40.8h-1.71zM885.5 1348.2h1.71v40.8h-1.71zM1024.3 1348.2h1.71v40.8h-1.71zM1027.7 1348.2h1.71v40.8h-1.71zM1274.4 1348.2h1.71v40.8h-1.71zM1283.0 1348.2h1.71v40.8h-1.71zM112.8 1389.0h1.71v40.8h-1.71zM856.4 1389.0h1.71v40.8h-1.71z"/>
<path fill="#beddec" d="M508.6 409.8h1.71v40.8h-1.71zM273.9 450.6h1.71v40.8h-1.71zM561.7 491.4h1.71v40.8h-1.71zM323.6 573.0h1.71v40.8h-1.71zM578.8 573.0h1.71v40.8h-1.71zM633.7 573.0h1.71v40.8h-1.71zM837.5 573.0h1.71v40.8h-1.71zM410.9 654.6h1.71v40.8h-1.71zM416.1 654.6h1.71v40.8h-1.71zM220.8 695.4h1.71v40.8h-1.71zM501.7 695.4h1.71v40.8h-1.71zM895.8 695.4h1.71v40.8h-1.71zM990.0 695.4h1.71v40.8h-1.71zM1043.1 695.4h1.71v40.8h-1.71zM1050.0 695.4h1.71v40.8h-1.71zM1007.2 736.2h1.71v40.8h-1.71zM871.8 817.8h1.71v40.8h-1.71zM906.1 817.8h1.71v40.8h-1.71zM1183.6 817.8h1.71v40.8h-1.71zM304.7 858.6h1.71v40.8h-1.71zM337.3 858.6h1.71v40.8h-1.71zM546.3 858.6h1.71v40.8h-1.71zM705.6 858.6h1.71v40.8h-1.71zM35.7 899.4h1.71v40.8h-1.71zM61.4 899.4h1.71v40.8h-1.71zM123.1 899.4h1.71v40.8h-1.71zM140.2 899.4h1.71v40.8h-1.71zM279.0 899.4h1.71v40.8h-1.71zM299.6 899.4h3.43v40.8h-3.43zM340.7 899.4h1.71v40.8h-1.71zM357.8 899.4h1.71v40.8h-1.71zM371.5 899.4h1.71v40.8h-1.71zM378.4 899.4h1.71v40.8h-1.71zM469.2 899.4h1.71v40.8h-1.71zM512.0 899.4h1.71v40.8h-1.71zM565.1 899.4h1.71v40.8h-1.71zM676.5 899.4h1.71v40.8h-1.71zM688.5 899.4h1.71v40.8h-1.71zM709.0 899.4h5.14v40.8h-5.14zM796.4 899.4h1.71v40.8h-1.71zM880.4 899.4h1.71v40.8h-1.71zM1029.4 899.4h1.71v40.8h-1.71zM1247.0 899.4h1.71v40.8h-1.71zM1257.3 899.4h1.71v40.8h-1.71zM1271.0 899.4h1.71v40.8h-1.71zM1276.2 899.4h1.71v40.8h-1.71zM830.7 940.2h1.71v40.8h-1.71zM842.7 940.2h1.71v40.8h-1.71zM1187.1 940.2h1.71v40.8h-1.71zM1260.7 1021.8h1.71v40.8h-1.71zM172.8 1144.2h1.71v40.8h-1.71zM260.2 1225.8h1.71v40.8h-1.71zM397.2 1225.8h1.71v40.8h-1.71zM888.9 1225.8h1.71v40.8h-1.71zM1038.0 1225.8h1.71v40.8h-1.71zM148.8 1266.6h1.71v40.8h-1.71zM162.5 1266.6h1.71v40.8h-1.71zM203.6 1266.6h1.71v40.8h-1.71zM224.2 1266.6h1.71v40.8h-1.71zM328.7 1266.6h1.71v40.8h-1.71zM351.0 1266.6h1.71v40.8h-1.71zM421.2 1266.6h1.71v40.8h-1.71zM433.2 1266.6h1.71v40.8h-1.71zM503.5 1266.6h1.71v40.8h-1.71zM775.9 1266.6h1.71v40.8h-1.71zM827.3 1266.6h3.43v40.8h-3.43zM926.6 1266.6h1.71v40.8h-1.71zM969.5 1266.6h1.71v40.8h-1.71zM979.8 1266.6h1.71v40.8h-1.71zM1015.7 1266.6h1.71v40.8h-1.71zM1050.0 1266.6h1.71v40.8h-1.71zM1074.0 1266.6h1.71v40.8h-1.71zM1110.0 1266.6h1.71v40.8h-1.71zM1118.5 1266.6h1.71v40.8h-1.71zM1122.0 1266.6h1.71v40.8h-1.71zM1202.5 1266.6h1.71v40.8h-1.71zM1228.2 1266.6h1.71v40.8h-1.71zM1235.0 1266.6h1.71v40.8h-1.71zM102.5 1307.4h1.71v40.8h-1.71zM114.5 1307.4h1.71v40.8h-1.71zM231.0 1307.4h1.71v40.8h-1.71zM368.1 1307.4h1.71v40.8h-1.71zM443.5 1307.4h1.71v40.8h-1.71zM446.9 1307.4h1.71v40.8h-1.71zM453.8 1307.4h1.71v40.8h-1.71zM484.6 1307.4h1.71v40.8h-1.71zM491.5 1307.4h1.71v40.8h-1.71zM506.9 1307.4h3.43v40.8h-3.43zM527.4 1307.4h1.71v40.8h-1.71zM986.6 1307.4h1.71v40.8h-1.71zM1007.2 1307.4h1.71v40.8h-1.71zM1017.4 1307.4h1.71v40.8h-1.71zM1142.5 1307.4h1.71v40.8h-1.71zM1168.2 1307.4h1.71v40.8h-1.71zM1231.6 1307.4h1.71v40.8h-1.71zM1253.9 1307.4h1.71v40.8h-1.71zM1257.3 1307.4h1.71v40.8h-1.71zM1271.0 1307.4h1.71v40.8h-1.71zM1277.9 1307.4h1.71v40.8h-1.71zM500.0 1348.2h1.71v40.8h-1.71zM924.9 1348.2h1.71v40.8h-1.71zM993.5 1348.2h1.71v40.8h-1.71zM1092.8 1348.2h1.71v40.8h-1.71zM1120.2 1348.2h1.71v40.8h-1.71zM1132.2 1348.2h1.71v40.8h-1.71zM183.1 1389.0h1.71v40.8h-1.71zM950.6 1389.0h3.43v40.8h-3.43zM988.3 1389.0h1.71v40.8h-1.71zM1183.6 1389.0h1.71v40.8h-1.71zM1188.8 1389.0h1.71v40.8h-1.71zM1228.2 1389.0h1.71v40.8h-1.71z"/>
<path fill="#c3e0ed" d="M1103.1 409.8h1.71v40.8h-1.71zM8.3 573.0h1.71v40.8h-1.71zM11.7 573.0h1.71v40.8h-1.71zM299.6 573.0h1.71v40.8h-1.71zM357.8 573.0h3.43v40.8h-3.43zM671.4 573.0h1.71v40.8h-1.71zM145.4 858.6h1.71v40.8h-1.71zM715.9 858.6h1.71v40.8h-1.71zM66.6 899.4h1.71v40.8h-1.71zM249.9 899.4h1.71v40.8h-1.71zM342.4 899.4h1.71v40.8h-1.71zM376.7 899.4h1.71v40.8h-1.71zM608.0 899.4h1.71v40.8h-1.71zM643.9 899.4h1.71v40.8h-1.71zM679.9 899.4h1.71v40.8h-1.71zM731.3 899.4h1.71v40.8h-1.71zM482.9 1021.8h1.71v40.8h-1.71zM176.2 1144.2h1.71v40.8h-1.71zM364.7 1144.2h1.71v40.8h-1.71zM1051.7 1225.8h1.71v40.8h-1.71zM1082.6 1225.8h1.71v40.8h-1.71zM1181.9 1225.8h1.71v40.8h-1.71zM407.5 1266.6h1.71v40.8h-1.71zM493.2 1266.6h1.71v40.8h-1.71zM865.0 1266.6h1.71v40.8h-1.71zM880.4 1266.6h1.71v40.8h-1.71zM947.2 1266.6h1.71v40.8h-1.71zM1051.7 1266.6h1.71v40.8h-1.71zM1154.5 1266.6h1.71v40.8h-1.71zM145.4 1307.4h1.71v40.8h-1.71zM169.4 1307.4h1.71v40.8h-1.71zM311.6 1307.4h1.71v40.8h-1.71zM381.8 1307.4h1.71v40.8h-1.71zM405.8 1307.4h1.71v40.8h-1.71zM436.6 1307.4h1.71v40.8h-1.71zM458.9 1307.4h1.71v40.8h-1.71zM525.7 1307.4h1.71v40.8h-1.71zM959.2 1307.4h1.71v40.8h-1.71zM998.6 1307.4h1.71v40.8h-1.71zM1024.3 1307.4h1.71v40.8h-1.71zM1190.5 1307.4h1.71v40.8h-1.71zM849.5 1348.2h1.71v40.8h-1.71zM1134.0 1348.2h1.71v40.8h-1.71zM1137.4 1348.2h1.71v40.8h-1.71zM1199.1 1348.2h1.71v40.8h-1.71zM1259.0 1348.2h1.71v40.8h-1.71zM1192.2 1389.0h1.71v40.8h-1.71z"/>
<path fill="#c8e3ef" d="M844.4 409.8h1.71v40.8h-1.71zM926.6 409.8h1.71v40.8h-1.71zM935.2 409.8h1.71v40.8h-1.71zM157.4 491.4h1.71v40.8h-1.71zM575.4 491.4h1.71v40.8h-1.71zM296.1 573.0h1.71v40.8h-1.71zM616.5 573.0h1.71v40.8h-1.71zM686.8 573.0h1.71v40.8h-1.71zM988.3 695.4h1.71v40.8h-1.71zM136.8 817.8h1.71v40.8h-1.71zM141.9 817.8h1.71v40.8h-1.71zM534.3 858.6h1.71v40.8h-1.71zM650.8 858.6h1.71v40.8h-1.71zM664.5 858.6h1.71v40.8h-1.71zM683.3 858.6h1.71v40.8h-1.71zM710.8 858.6h1.71v40.8h-1.71zM769.0 858.6h1.71v40.8h-1.71zM27.1 899.4h1.71v40.8h-1.71zM251.6 899.4h1.71v40.8h-1.71zM347.5 899.4h1.71v40.8h-1.71zM398.9 899.4h1.71v40.8h-1.71zM594.3 899.4h1.71v40.8h-1.71zM606.3 899.4h1.71v40.8h-1.71zM681.6 899.4h1.71v40.8h-1.71zM726.2 899.4h1.71v40.8h-1.71zM734.7 899.4h1.71v40.8h-1.71zM755.3 899.4h3.43v40.8h-3.43zM801.6 899.4h1.71v40.8h-1.71zM1026.0 899.4h1.71v40.8h-1.71zM858.1 940.2h1.71v40.8h-1.71zM865.0 940.2h1.71v40.8h-1.71zM22.0 1021.8h1.71v40.8h-1.71zM479.5 1021.8h1.71v40.8h-1.71zM398.9 1185.0h1.71v40.8h-1.71zM452.1 1225.8h1.71v40.8h-1.71zM1026.0 1225.8h1.71v40.8h-1.71zM1043.1 1225.8h1.71v40.8h-1.71zM1067.1 1225.8h1.71v40.8h-1.71zM1099.7 1225.8h1.71v40.8h-1.71zM1171.6 1225.8h1.71v40.8h-1.71zM984.9 1266.6h1.71v40.8h-1.71zM995.2 1266.6h1.71v40.8h-1.71zM1005.5 1266.6h1.71v40.8h-1.71zM1080.8 1266.6h1.71v40.8h-1.71zM1120.2 1266.6h1.71v40.8h-1.71zM1125.4 1266.6h1.71v40.8h-1.71zM1233.3 1266.6h1.71v40.8h-1.71zM1250.5 1266.6h1.71v40.8h-1.71zM1265.9 1266.6h1.71v40.8h-1.71zM316.7 1307.4h1.71v40.8h-1.71zM450.3 1307.4h1.71v40.8h-1.71zM455.5 1307.4h1.71v40.8h-1.71zM494.9 1307.4h1.71v40.8h-1.71zM786.1 1307.4h1.71v40.8h-1.71zM902.7 1307.4h1.71v40.8h-1.71zM923.2 1307.4h1.71v40.8h-1.71zM995.2 1307.4h1.71v40.8h-1.71zM1067.1 1307.4h1.71v40.8h-1.71zM1091.1 1307.4h1.71v40.8h-1.71zM1122.0 1307.4h1.71v40.8h-1.71zM1185.4 1307.4h1.71v40.8h-1.71zM1267.6 1307.4h3.43v40.8h-3.43zM979.8 1348.2h1.71v40.8h-1.71zM169.4 1389.0h1.71v40.8h-1.71zM976.3 1389.0h1.71v40.8h-1.71zM1026.0 1389.0h1.71v40.8h-1.71z"/>
<path fill="#cde6f1" d="M426.4 409.8h1.71v40.8h-1.71zM659.4 491.4h1.71v40.8h-1.71zM787.9 491.4h1.71v40.8h-1.71zM294.4 573.0h1.71v40.8h-1.71zM621.7 573.0h1.71v40.8h-1.71zM661.1 573.0h1.71v40.8h-1.71zM685.1 573.0h1.71v40.8h-1.71zM227.6 695.4h1.71v40.8h-1.71zM530.9 695.4h1.71v40.8h-1.71zM1233.3 695.4h1.71v40.8h-1.71zM880.4 817.8h1.71v40.8h-1.71zM642.2 858.6h1.71v40.8h-1.71zM685.1 858.6h1.71v40.8h-1.71zM743.3 858.6h1.71v40.8h-1.71zM148.8 899.4h1.71v40.8h-1.71zM364.7 899.4h1.71v40.8h-1.71zM815.3 899.4h1.71v40.8h-1.71zM1250.5 899.4h1.71v40.8h-1.71zM1274.4 899.4h1.71v40.8h-1.71zM902.7 940.2h3.43v40.8h-3.43zM909.5 940.2h1.71v40.8h-1.71zM912.9 940.2h1.71v40.8h-1.71zM1212.8 940.2h1.71v40.8h-1.71zM849.5 1225.8h1.71v40.8h-1.71zM1010.6 1225.8h3.43v40.8h-3.43zM1024.3 1225.8h1.71v40.8h-1.71zM1094.5 1225.8h1.71v40.8h-1.71zM1231.6 1225.8h1.71v40.8h-1.71zM530.9 1266.6h1.71v40.8h-1.71zM542.9 1266.6h1.71v40.8h-1.71zM966.0 1266.6h1.71v40.8h-1.71zM1010.6 1266.6h1.71v40.8h-1.71zM1017.4 1266.6h1.71v40.8h-1.71zM1055.1 1266.6h1.71v40.8h-1.71zM1077.4 1266.6h1.71v40.8h-1.71zM1094.5 1266.6h3.43v40.8h-3.43zM1113.4 1266.6h1.71v40.8h-1.71zM1262.5 1266.6h1.71v40.8h-1.71zM1274.4 1266.6h1.71v40.8h-1.71zM44.3 1307.4h1.71v40.8h-1.71zM83.7 1307.4h1.71v40.8h-1.71zM97.4 1307.4h1.71v40.8h-1.71zM129.9 1307.4h1.71v40.8h-1.71zM136.8 1307.4h1.71v40.8h-1.71zM141.9 1307.4h1.71v40.8h-1.71zM431.5 1307.4h3.43v40.8h-3.43zM438.3 1307.4h1.71v40.8h-1.71zM469.2 1307.4h1.71v40.8h-1.71zM520.6 1307.4h1.71v40.8h-1.71zM883.8 1307.4h1.71v40.8h-1.71zM1115.1 1307.4h1.71v40.8h-1.71zM1135.7 1307.4h1.71v40.8h-1.71zM1149.4 1307.4h1.71v40.8h-1.71zM1166.5 1307.4h1.71v40.8h-1.71zM1235.0 1307.4h1.71v40.8h-1.71zM947.2 1348.2h1.71v40.8h-1.71zM1082.6 1348.2h1.71v40.8h-1.71zM1265.9 1348.2h1.71v40.8h-1.71z"/>
<path fill="#d2eaf3" d="M291.0 491.4h1.71v40.8h-1.71zM729.6 491.4h1.71v40.8h-1.71zM818.7 491.4h1.71v40.8h-1.71zM676.5 573.0h1.71v40.8h-1.71zM529.2 695.4h1.71v40.8h-1.71zM138.5 817.8h1.71v40.8h-1.71zM686.8 858.6h3.43v40.8h-3.43zM707.3 858.6h1.71v40.8h-1.71zM758.7 858.6h1.71v40.8h-1.71zM183.1 899.4h1.71v40.8h-1.71zM306.4 899.4h1.71v40.8h-1.71zM328.7 899.4h1.71v40.8h-1.71zM777.6 899.4h1.71v40.8h-1.71zM906.1 940.2h1.71v40.8h-1.71zM453.8 1225.8h1.71v40.8h-1.71zM1056.9 1225.8h1.71v40.8h-1.71zM1223.0 1225.8h1.71v40.8h-1.71zM854.7 1266.6h1.71v40.8h-1.71zM1041.4 1266.6h1.71v40.8h-1.71zM1092.8 1266.6h1.71v40.8h-1.71zM1168.2 1266.6h1.71v40.8h-1.71zM70.0 1307.4h1.71v40.8h-1.71zM88.8 1307.4h1.71v40.8h-1.71zM164.2 1307.4h1.71v40.8h-1.71zM186.5 1307.4h1.71v40.8h-1.71zM248.2 1307.4h1.71v40.8h-1.71zM486.3 1307.4h1.71v40.8h-1.71zM496.6 1307.4h1.71v40.8h-1.71zM851.3 1307.4h1.71v40.8h-1.71zM945.5 1307.4h1.71v40.8h-1.71zM957.5 1307.4h1.71v40.8h-1.71zM984.9 1307.4h1.71v40.8h-1.71zM993.5 1307.4h1.71v40.8h-1.71zM1020.9 1307.4h1.71v40.8h-1.71zM1159.7 1307.4h1.71v40.8h-1.71zM1110.0 1348.2h1.71v40.8h-1.71zM1181.9 1348.2h1.71v40.8h-1.71zM1223.0 1348.2h1.71v40.8h-1.71zM945.5 1389.0h1.71v40.8h-1.71zM1065.4 1389.0h1.71v40.8h-1.71zM1286.4 1389.0h1.71v40.8h-1.71z"/>
<path fill="#d6edf4" d="M582.3 491.4h1.71v40.8h-1.71zM301.3 573.0h1.71v40.8h-1.71zM414.4 654.6h1.71v40.8h-1.71zM458.9 858.6h1.71v40.8h-1.71zM623.4 858.6h1.71v40.8h-1.71zM126.5 899.4h3.43v40.8h-3.43zM626.8 899.4h1.71v40.8h-1.71zM638.8 899.4h1.71v40.8h-1.71zM661.1 899.4h1.71v40.8h-1.71zM671.4 899.4h1.71v40.8h-1.71zM767.3 899.4h1.71v40.8h-1.71zM1209.3 940.2h1.71v40.8h-1.71zM1216.2 940.2h1.71v40.8h-1.71zM1221.3 940.2h1.71v40.8h-1.71zM23.7 1021.8h1.71v40.8h-1.71zM8.3 1225.8h1.71v40.8h-1.71zM844.4 1225.8h1.71v40.8h-1.71zM1029.4 1225.8h1.71v40.8h-1.71zM1089.4 1225.8h1.71v40.8h-1.71zM1190.5 1225.8h1.71v40.8h-1.71zM1212.8 1225.8h1.71v40.8h-1.71zM1257.3 1225.8h1.71v40.8h-1.71zM10.0 1266.6h1.71v40.8h-1.71zM453.8 1266.6h1.71v40.8h-1.71zM465.8 1266.6h1.71v40.8h-1.71zM539.4 1266.6h1.71v40.8h-1.71zM846.1 1266.6h1.71v40.8h-1.71zM853.0 1266.6h1.71v40.8h-1.71zM942.1 1266.6h1.71v40.8h-1.71zM1031.2 1266.6h1.71v40.8h-1.71zM1036.3 1266.6h1.71v40.8h-1.71zM1180.2 1266.6h1.71v40.8h-1.71zM1243.6 1266.6h1.71v40.8h-1.71zM99.1 1307.4h1.71v40.8h-1.71zM263.6 1307.4h1.71v40.8h-1.71zM400.7 1307.4h5.14v40.8h-5.14zM472.6 1307.4h1.71v40.8h-1.71zM500.0 1307.4h1.71v40.8h-1.71zM513.7 1307.4h1.71v40.8h-1.71zM529.2 1307.4h1.71v40.8h-1.71zM921.5 1307.4h1.71v40.8h-1.71zM1111.7 1307.4h1.71v40.8h-1.71zM959.2 1348.2h1.71v40.8h-1.71zM1156.2 1348.2h1.71v40.8h-1.71zM165.9 1389.0h1.71v40.8h-1.71zM1219.6 1389.0h1.71v40.8h-1.71z"/>
<path fill="#dbf0f6" d="M428.1 409.8h1.71v40.8h-1.71zM496.6 409.8h1.71v40.8h-1.71zM207.0 573.0h1.71v40.8h-1.71zM650.8 573.0h1.71v40.8h-1.71zM659.4 573.0h1.71v40.8h-1.71zM729.6 573.0h1.71v40.8h-1.71zM918.1 654.6h1.71v40.8h-1.71zM1226.5 695.4h1.71v40.8h-1.71zM1301.9 736.2h1.71v40.8h-1.71zM912.9 817.8h1.71v40.8h-1.71zM141.9 858.6h1.71v40.8h-1.71zM462.3 858.6h1.71v40.8h-1.71zM681.6 858.6h1.71v40.8h-1.71zM774.2 858.6h1.71v40.8h-1.71zM188.2 899.4h1.71v40.8h-1.71zM289.3 899.4h1.71v40.8h-1.71zM553.1 899.4h1.71v40.8h-1.71zM647.4 899.4h1.71v40.8h-1.71zM685.1 899.4h1.71v40.8h-1.71zM705.6 899.4h1.71v40.8h-1.71zM715.9 899.4h1.71v40.8h-1.71zM853.0 940.2h1.71v40.8h-1.71zM1199.1 940.2h1.71v40.8h-1.71zM409.2 1225.8h1.71v40.8h-1.71zM1183.6 1225.8h1.71v40.8h-1.71zM78.5 1266.6h1.71v40.8h-1.71zM464.0 1266.6h1.71v40.8h-1.71zM501.7 1266.6h1.71v40.8h-1.71zM817.0 1266.6h1.71v40.8h-1.71zM856.4 1266.6h1.71v40.8h-1.71zM882.1 1266.6h1.71v40.8h-1.71zM909.5 1266.6h1.71v40.8h-1.71zM914.6 1266.6h1.71v40.8h-1.71zM993.5 1266.6h1.71v40.8h-1.71zM1002.0 1266.6h1.71v40.8h-1.71zM1053.4 1266.6h1.71v40.8h-1.71zM1070.6 1266.6h1.71v40.8h-1.71zM1247.0 1266.6h1.71v40.8h-1.71zM1281.3 1266.6h1.71v40.8h-1.71zM191.6 1307.4h1.71v40.8h-1.71zM229.3 1307.4h1.71v40.8h-1.71zM393.8 1307.4h1.71v40.8h-1.71zM417.8 1307.4h1.71v40.8h-1.71zM476.0 1307.4h1.71v40.8h-1.71zM505.2 1307.4h1.71v40.8h-1.71zM524.0 1307.4h1.71v40.8h-1.71zM880.4 1307.4h1.71v40.8h-1.71zM906.1 1307.4h1.71v40.8h-1.71zM935.2 1307.4h1.71v40.8h-1.71zM943.8 1307.4h1.71v40.8h-1.71zM1014.0 1307.4h1.71v40.8h-1.71zM1060.3 1307.4h1.71v40.8h-1.71zM1070.6 1307.4h1.71v40.8h-1.71zM1084.3 1307.4h1.71v40.8h-1.71zM1183.6 1307.4h1.71v40.8h-1.71zM1221.3 1307.4h1.71v40.8h-1.71zM943.8 1348.2h1.71v40.8h-1.71zM1293.3 1348.2h1.71v40.8h-1.71zM1303.6 1348.2h1.71v40.8h-1.71zM1063.7 1389.0h1.71v40.8h-1.71zM1293.3 1389.0h1.71v40.8h-1.71z"/>
<path fill="#e0f3f8" d="M13.4 409.8h1.71v40.8h-1.71zM597.7 491.4h1.71v40.8h-1.71zM721.0 491.4h1.71v40.8h-1.71zM789.6 491.4h1.71v40.8h-1.71zM655.9 573.0h1.71v40.8h-1.71zM928.4 654.6h1.71v40.8h-1.71zM140.2 858.6h1.71v40.8h-1.71zM455.5 858.6h1.71v40.8h-1.71zM772.4 858.6h1.71v40.8h-1.71zM73.4 899.4h1.71v40.8h-1.71zM87.1 899.4h1.71v40.8h-1.71zM695.3 899.4h1.71v40.8h-1.71zM822.1 899.4h1.71v40.8h-1.71zM1193.9 940.2h1.71v40.8h-1.71zM484.6 1021.8h1.71v40.8h-1.71zM402.4 1225.8h1.71v40.8h-1.71zM1041.4 1225.8h1.71v40.8h-1.71zM1050.0 1225.8h1.71v40.8h-1.71zM1118.5 1225.8h1.71v40.8h-1.71zM1163.1 1225.8h1.71v40.8h-1.71zM73.4 1266.6h1.71v40.8h-1.71zM877.0 1266.6h1.71v40.8h-1.71zM1286.4 1266.6h1.71v40.8h-1.71zM78.5 1307.4h1.71v40.8h-1.71zM135.1 1307.4h1.71v40.8h-1.71zM409.2 1307.4h1.71v40.8h-1.71zM474.3 1307.4h1.71v40.8h-1.71zM955.8 1307.4h1.71v40.8h-1.71zM1044.9 1307.4h3.43v40.8h-3.43zM1075.7 1307.4h1.71v40.8h-1.71zM1072.3 1348.2h1.71v40.8h-1.71zM1128.8 1348.2h1.71v40.8h-1.71zM1305.3 1348.2h1.71v40.8h-1.71zM960.9 1389.0h1.71v40.8h-1.71zM1134.0 1389.0h1.71v40.8h-1.71zM1144.2 1389.0h1.71v40.8h-1.71zM1175.1 1389.0h1.71v40.8h-1.71z"/>
<path fill="#e2f4f5" d="M601.1 491.4h1.71v40.8h-1.71zM640.5 573.0h1.71v40.8h-1.71zM818.7 573.0h1.71v40.8h-1.71zM981.5 695.4h1.71v40.8h-1.71zM1298.4 736.2h3.43v40.8h-3.43zM659.4 858.6h1.71v40.8h-1.71zM135.1 899.4h1.71v40.8h-1.71zM143.7 899.4h1.71v40.8h-1.71zM167.6 899.4h1.71v40.8h-1.71zM332.1 899.4h1.71v40.8h-1.71zM542.9 899.4h1.71v40.8h-1.71zM697.1 899.4h1.71v40.8h-1.71zM781.0 899.4h1.71v40.8h-1.71zM911.2 940.2h1.71v40.8h-1.71zM457.2 1225.8h1.71v40.8h-1.71zM1098.0 1225.8h1.71v40.8h-1.71zM1168.2 1225.8h1.71v40.8h-1.71zM1178.5 1225.8h1.71v40.8h-1.71zM76.8 1266.6h1.71v40.8h-1.71zM409.2 1266.6h1.71v40.8h-1.71zM907.8 1266.6h1.71v40.8h-1.71zM940.3 1266.6h1.71v40.8h-1.71zM1128.8 1266.6h1.71v40.8h-1.71zM1231.6 1266.6h1.71v40.8h-1.71zM265.3 1307.4h1.71v40.8h-1.71zM373.2 1307.4h1.71v40.8h-1.71zM407.5 1307.4h1.71v40.8h-1.71zM462.3 1307.4h1.71v40.8h-1.71zM930.1 1307.4h1.71v40.8h-1.71zM948.9 1307.4h1.71v40.8h-1.71zM976.3 1307.4h1.71v40.8h-1.71zM1031.2 1307.4h1.71v40.8h-1.71zM1103.1 1307.4h1.71v40.8h-1.71zM1134.0 1307.4h1.71v40.8h-1.71zM1145.9 1307.4h3.43v40.8h-3.43zM1199.1 1307.4h1.71v40.8h-1.71zM1243.6 1307.4h1.71v40.8h-1.71zM1274.4 1307.4h1.71v40.8h-1.71zM1283.0 1307.4h1.71v40.8h-1.71zM1303.6 1307.4h1.71v40.8h-1.71zM883.8 1348.2h1.71v40.8h-1.71zM1187.1 1348.2h1.71v40.8h-1.71zM1301.9 1348.2h1.71v40.8h-1.71zM861.5 1389.0h1.71v40.8h-1.71zM957.5 1389.0h1.71v40.8h-1.71zM1094.5 1389.0h1.71v40.8h-1.71zM1149.4 1389.0h1.71v40.8h-1.71z"/>
<path fill="#e4f4f1" d="M493.2 409.8h1.71v40.8h-1.71zM928.4 409.8h1.71v40.8h-1.71zM811.8 491.4h1.71v40.8h-1.71zM354.4 573.0h1.71v40.8h-1.71zM573.7 573.0h1.71v40.8h-1.71zM601.1 573.0h1.71v40.8h-1.71zM623.4 573.0h1.71v40.8h-1.71zM834.1 573.0h3.43v40.8h-3.43zM1303.6 736.2h1.71v40.8h-1.71zM140.2 817.8h1.71v40.8h-1.71zM657.6 858.6h1.71v40.8h-1.71zM64.8 899.4h1.71v40.8h-1.71zM80.3 899.4h1.71v40.8h-1.71zM116.2 899.4h1.71v40.8h-1.71zM201.9 899.4h1.71v40.8h-1.71zM536.0 899.4h1.71v40.8h-1.71zM599.4 899.4h1.71v40.8h-1.71zM649.1 899.4h1.71v40.8h-1.71zM693.6 899.4h1.71v40.8h-1.71zM727.9 899.4h1.71v40.8h-1.71zM1264.2 899.4h1.71v40.8h-1.71zM1288.2 899.4h1.71v40.8h-1.71zM866.7 940.2h1.71v40.8h-1.71zM882.1 940.2h1.71v40.8h-1.71zM414.4 1225.8h1.71v40.8h-1.71zM1020.9 1225.8h1.71v40.8h-1.71zM1031.2 1225.8h1.71v40.8h-1.71zM1113.4 1225.8h1.71v40.8h-1.71zM1272.7 1225.8h1.71v40.8h-1.71zM8.3 1266.6h1.71v40.8h-1.71zM11.7 1266.6h3.43v40.8h-3.43zM80.3 1266.6h1.71v40.8h-1.71zM429.8 1266.6h1.71v40.8h-1.71zM861.5 1266.6h3.43v40.8h-3.43zM870.1 1266.6h1.71v40.8h-1.71zM930.1 1266.6h1.71v40.8h-1.71zM988.3 1266.6h1.71v40.8h-1.71zM1075.7 1266.6h1.71v40.8h-1.71zM1145.9 1266.6h1.71v40.8h-1.71zM1151.1 1266.6h1.71v40.8h-1.71zM1157.9 1266.6h1.71v40.8h-1.71zM46.0 1307.4h1.71v40.8h-1.71zM153.9 1307.4h1.71v40.8h-1.71zM157.4 1307.4h1.71v40.8h-1.71zM188.2 1307.4h1.71v40.8h-1.71zM412.6 1307.4h1.71v40.8h-1.71zM448.6 1307.4h1.71v40.8h-1.71zM522.3 1307.4h1.71v40.8h-1.71zM878.7 1307.4h1.71v40.8h-1.71zM894.1 1307.4h1.71v40.8h-1.71zM942.1 1307.4h1.71v40.8h-1.71zM1077.4 1307.4h1.71v40.8h-1.71zM1163.1 1307.4h1.71v40.8h-1.71zM858.1 1389.0h1.71v40.8h-1.71zM885.5 1389.0h1.71v40.8h-1.71zM897.5 1389.0h1.71v40.8h-1.71zM1204.2 1389.0h1.71v40.8h-1.71z"/>
<path fill="#e6f5ee" d="M18.6 409.8h1.71v40.8h-1.71zM1108.3 409.8h1.71v40.8h-1.71zM124.8 491.4h1.71v40.8h-1.71zM810.1 491.4h1.71v40.8h-1.71zM566.8 573.0h1.71v40.8h-1.71zM822.1 573.0h1.71v40.8h-1.71zM464.0 858.6h1.71v40.8h-1.71zM467.5 858.6h3.43v40.8h-3.43zM585.7 858.6h1.71v40.8h-1.71zM726.2 858.6h1.71v40.8h-1.71zM750.2 858.6h1.71v40.8h-1.71zM118.0 899.4h1.71v40.8h-1.71zM181.3 899.4h1.71v40.8h-1.71zM551.4 899.4h1.71v40.8h-1.71zM702.2 899.4h1.71v40.8h-1.71zM770.7 899.4h1.71v40.8h-1.71zM789.6 899.4h1.71v40.8h-1.71zM798.1 899.4h1.71v40.8h-1.71zM885.5 940.2h1.71v40.8h-1.71zM1185.4 940.2h1.71v40.8h-1.71zM1188.8 940.2h1.71v40.8h-1.71zM1067.1 1021.8h1.71v40.8h-1.71zM551.4 1185.0h1.71v40.8h-1.71zM1091.1 1225.8h1.71v40.8h-1.71zM1103.1 1225.8h1.71v40.8h-1.71zM1176.8 1225.8h1.71v40.8h-1.71zM1197.3 1225.8h1.71v40.8h-1.71zM1204.2 1225.8h1.71v40.8h-1.71zM1034.6 1266.6h1.71v40.8h-1.71zM1079.1 1266.6h1.71v40.8h-1.71zM1190.5 1266.6h1.71v40.8h-1.71zM1212.8 1266.6h1.71v40.8h-1.71zM1245.3 1266.6h1.71v40.8h-1.71zM1255.6 1266.6h1.71v40.8h-1.71zM421.2 1307.4h1.71v40.8h-1.71zM429.8 1307.4h1.71v40.8h-1.71zM477.8 1307.4h1.71v40.8h-1.71zM501.7 1307.4h1.71v40.8h-1.71zM532.6 1307.4h1.71v40.8h-1.71zM847.8 1307.4h1.71v40.8h-1.71zM969.5 1307.4h1.71v40.8h-1.71zM991.7 1307.4h1.71v40.8h-1.71zM1008.9 1307.4h1.71v40.8h-1.71zM1050.0 1307.4h1.71v40.8h-1.71zM1062.0 1307.4h1.71v40.8h-1.71zM1154.5 1307.4h1.71v40.8h-1.71zM1205.9 1307.4h1.71v40.8h-1.71zM1264.2 1307.4h3.43v40.8h-3.43zM1079.1 1348.2h1.71v40.8h-1.71zM1099.7 1348.2h1.71v40.8h-1.71zM1276.2 1348.2h1.71v40.8h-1.71zM92.3 1389.0h1.71v40.8h-1.71zM179.6 1389.0h1.71v40.8h-1.71zM1231.6 1389.0h1.71v40.8h-1.71zM1248.7 1389.0h1.71v40.8h-1.71zM1296.7 1389.0h1.71v40.8h-1.71z"/>
<path fill="#e8f6ea" d="M573.7 491.4h1.71v40.8h-1.71zM297.9 573.0h1.71v40.8h-1.71zM806.7 573.0h1.71v40.8h-1.71zM986.6 695.4h1.71v40.8h-1.71zM1243.6 695.4h1.71v40.8h-1.71zM536.0 858.6h1.71v40.8h-1.71zM643.9 858.6h1.71v40.8h-1.71zM674.8 858.6h1.71v40.8h-1.71zM719.3 858.6h3.43v40.8h-3.43zM769.0 899.4h1.71v40.8h-1.71zM1279.6 899.4h1.71v40.8h-1.71zM841.0 940.2h1.71v40.8h-1.71zM888.9 940.2h1.71v40.8h-1.71zM1190.5 940.2h1.71v40.8h-1.71zM481.2 1021.8h1.71v40.8h-1.71zM1019.2 1225.8h1.71v40.8h-1.71zM1055.1 1225.8h1.71v40.8h-1.71zM1087.7 1225.8h1.71v40.8h-1.71zM1092.8 1225.8h1.71v40.8h-1.71zM1101.4 1225.8h1.71v40.8h-1.71zM1187.1 1225.8h1.71v40.8h-1.71zM488.0 1266.6h1.71v40.8h-1.71zM508.6 1266.6h1.71v40.8h-1.71zM938.6 1266.6h1.71v40.8h-1.71zM1029.4 1266.6h1.71v40.8h-1.71zM1048.3 1266.6h1.71v40.8h-1.71zM1101.4 1266.6h1.71v40.8h-1.71zM1127.1 1266.6h1.71v40.8h-1.71zM1134.0 1266.6h1.71v40.8h-1.71zM1173.4 1266.6h1.71v40.8h-1.71zM1224.8 1266.6h1.71v40.8h-1.71zM1257.3 1266.6h1.71v40.8h-1.71zM18.6 1307.4h1.71v40.8h-1.71zM56.3 1307.4h1.71v40.8h-1.71zM90.5 1307.4h1.71v40.8h-1.71zM126.5 1307.4h1.71v40.8h-1.71zM159.1 1307.4h1.71v40.8h-1.71zM165.9 1307.4h1.71v40.8h-1.71zM315.0 1307.4h1.71v40.8h-1.71zM426.4 1307.4h1.71v40.8h-1.71zM457.2 1307.4h1.71v40.8h-1.71zM481.2 1307.4h1.71v40.8h-1.71zM907.8 1307.4h1.71v40.8h-1.71zM938.6 1307.4h1.71v40.8h-1.71zM996.9 1307.4h1.71v40.8h-1.71zM1118.5 1307.4h1.71v40.8h-1.71zM1157.9 1307.4h1.71v40.8h-1.71zM1216.2 1307.4h1.71v40.8h-1.71zM1224.8 1307.4h1.71v40.8h-1.71zM1247.0 1307.4h1.71v40.8h-1.71zM1111.7 1348.2h1.71v40.8h-1.71zM1288.2 1348.2h1.71v40.8h-1.71zM844.4 1389.0h1.71v40.8h-1.71zM1159.7 1389.0h1.71v40.8h-1.71zM1185.4 1389.0h1.71v40.8h-1.71z"/>
<path fill="#e9f7e7" d="M924.9 409.8h1.71v40.8h-1.71zM1029.4 450.6h1.71v40.8h-1.71zM539.4 491.4h1.71v40.8h-1.71zM815.3 573.0h1.71v40.8h-1.71zM832.4 573.0h1.71v40.8h-1.71zM143.7 817.8h1.71v40.8h-1.71zM765.6 817.8h1.71v40.8h-1.71zM1199.1 817.8h1.71v40.8h-1.71zM661.1 858.6h1.71v40.8h-1.71zM11.7 899.4h1.71v40.8h-1.71zM239.6 899.4h1.71v40.8h-1.71zM292.7 899.4h1.71v40.8h-1.71zM381.8 899.4h1.71v40.8h-1.71zM386.9 899.4h3.43v40.8h-3.43zM875.2 940.2h1.71v40.8h-1.71zM907.8 940.2h1.71v40.8h-1.71zM1202.5 940.2h1.71v40.8h-1.71zM1205.9 940.2h1.71v40.8h-1.71zM1211.1 940.2h1.71v40.8h-1.71zM446.9 1225.8h1.71v40.8h-1.71zM846.1 1225.8h1.71v40.8h-1.71zM1068.8 1225.8h3.43v40.8h-3.43zM1086.0 1225.8h1.71v40.8h-1.71zM1164.8 1225.8h1.71v40.8h-1.71zM75.1 1266.6h1.71v40.8h-1.71zM484.6 1266.6h1.71v40.8h-1.71zM1072.3 1266.6h1.71v40.8h-1.71zM1084.3 1266.6h1.71v40.8h-1.71zM1149.4 1266.6h1.71v40.8h-1.71zM1216.2 1266.6h1.71v40.8h-1.71zM1272.7 1266.6h1.71v40.8h-1.71zM1288.2 1266.6h1.71v40.8h-1.71zM37.4 1307.4h1.71v40.8h-1.71zM52.8 1307.4h1.71v40.8h-1.71zM131.7 1307.4h1.71v40.8h-1.71zM143.7 1307.4h1.71v40.8h-1.71zM208.8 1307.4h1.71v40.8h-1.71zM225.9 1307.4h1.71v40.8h-1.71zM345.8 1307.4h1.71v40.8h-1.71zM434.9 1307.4h1.71v40.8h-1.71zM445.2 1307.4h1.71v40.8h-1.71zM470.9 1307.4h1.71v40.8h-1.71zM510.3 1307.4h1.71v40.8h-1.71zM962.6 1307.4h3.43v40.8h-3.43zM1051.7 1307.4h1.71v40.8h-1.71zM1082.6 1307.4h1.71v40.8h-1.71zM1123.7 1307.4h1.71v40.8h-1.71zM1130.5 1307.4h1.71v40.8h-1.71zM1219.6 1307.4h1.71v40.8h-1.71zM1058.6 1348.2h1.71v40.8h-1.71zM1086.0 1348.2h1.71v40.8h-1.71zM171.1 1389.0h1.71v40.8h-1.71zM177.9 1389.0h1.71v40.8h-1.71zM895.8 1389.0h1.71v40.8h-1.71zM1255.6 1389.0h1.71v40.8h-1.71zM1269.3 1389.0h1.71v40.8h-1.71z"/>
<path fill="#ebf7e3" d="M657.6 491.4h1.71v40.8h-1.71zM364.7 573.0h1.71v40.8h-1.71zM575.4 573.0h1.71v40.8h-1.71zM614.8 573.0h1.71v40.8h-1.71zM839.3 573.0h1.71v40.8h-1.71zM124.8 858.6h1.71v40.8h-1.71zM143.7 858.6h1.71v40.8h-1.71zM584.0 858.6h1.71v40.8h-1.71zM145.4 899.4h1.71v40.8h-1.71zM272.2 899.4h1.71v40.8h-1.71zM397.2 899.4h1.71v40.8h-1.71zM539.4 899.4h1.71v40.8h-1.71zM683.3 899.4h1.71v40.8h-1.71zM1205.9 899.4h1.71v40.8h-1.71zM1272.7 899.4h1.71v40.8h-1.71zM1286.4 899.4h1.71v40.8h-1.71zM827.3 940.2h1.71v40.8h-1.71zM900.9 940.2h1.71v40.8h-1.71zM1017.4 1144.2h1.71v40.8h-1.71zM1014.0 1225.8h1.71v40.8h-1.71zM1173.4 1225.8h1.71v40.8h-1.71zM849.5 1266.6h1.71v40.8h-1.71zM878.7 1266.6h1.71v40.8h-1.71zM897.5 1266.6h1.71v40.8h-1.71zM906.1 1266.6h1.71v40.8h-1.71zM916.4 1266.6h1.71v40.8h-1.71zM933.5 1266.6h1.71v40.8h-1.71zM948.9 1266.6h1.71v40.8h-1.71zM1007.2 1266.6h1.71v40.8h-1.71zM1098.0 1266.6h1.71v40.8h-1.71zM318.4 1307.4h1.71v40.8h-1.71zM414.4 1307.4h1.71v40.8h-1.71zM870.1 1307.4h3.43v40.8h-3.43zM978.0 1307.4h1.71v40.8h-1.71zM1169.9 1307.4h1.71v40.8h-1.71zM1240.2 1307.4h1.71v40.8h-1.71zM474.3 1348.2h1.71v40.8h-1.71zM930.1 1348.2h1.71v40.8h-1.71zM1211.1 1348.2h1.71v40.8h-1.71zM1228.2 1348.2h1.71v40.8h-1.71zM1245.3 1348.2h1.71v40.8h-1.71zM1250.5 1348.2h1.71v40.8h-1.71zM1169.9 1389.0h1.71v40.8h-1.71z"/>
<path fill="#f7fccf" d="M1161.4 409.8h1.71v40.8h-1.71zM450.3 695.4h1.71v40.8h-1.71zM962.6 817.8h1.71v40.8h-1.71zM150.5 899.4h1.71v40.8h-1.71zM1300.1 1185.0h1.71v40.8h-1.71zM1015.7 1225.8h3.43v40.8h-3.43zM1116.8 1307.4h1.71v40.8h-1.71zM942.1 1348.2h1.71v40.8h-1.71zM969.5 1348.2h1.71v40.8h-1.71zM1233.3 1389.0h1.71v40.8h-1.71z"/>
<path fill="#f8fccb" d="M261.9 573.0h1.71v40.8h-1.71zM131.7 899.4h1.71v40.8h-1.71zM853.0 1144.2h1.71v40.8h-1.71zM422.9 1225.8h1.71v40.8h-1.71zM1022.6 1225.8h1.71v40.8h-1.71zM899.2 1266.6h1.71v40.8h-1.71zM904.4 1266.6h1.71v40.8h-1.71zM967.8 1266.6h1.71v40.8h-1.71zM1142.5 1266.6h1.71v40.8h-1.71zM1233.3 1348.2h1.71v40.8h-1.71zM1296.7 1348.2h1.71v40.8h-1.71zM964.3 1389.0h1.71v40.8h-1.71zM1008.9 1389.0h1.71v40.8h-1.71z"/>
<path fill="#fafdc8" d="M1279.6 1225.8h1.71v40.8h-1.71zM472.6 1266.6h1.71v40.8h-1.71zM1056.9 1266.6h1.71v40.8h-1.71zM1260.7 1266.6h1.71v40.8h-1.71zM20.3 1307.4h1.71v40.8h-1.71zM853.0 1307.4h3.43v40.8h-3.43zM865.0 1307.4h1.71v40.8h-1.71zM1010.6 1307.4h1.71v40.8h-1.71zM1298.4 1348.2h1.71v40.8h-1.71z"/>
<path fill="#fcfec4" d="M868.4 1266.6h1.71v40.8h-1.71zM918.1 1266.6h1.71v40.8h-1.71zM962.6 1266.6h1.71v40.8h-1.71zM1284.7 1266.6h1.71v40.8h-1.71zM971.2 1307.4h1.71v40.8h-1.71zM990.0 1307.4h1.71v40.8h-1.71zM1063.7 1307.4h1.71v40.8h-1.71zM1128.8 1307.4h1.71v40.8h-1.71zM1187.1 1307.4h1.71v40.8h-1.71zM1260.7 1307.4h1.71v40.8h-1.71zM892.4 1348.2h1.71v40.8h-1.71zM978.0 1348.2h1.71v40.8h-1.71z"/>
<path fill="#feffc1" d="M138.5 899.4h1.71v40.8h-1.71zM153.9 1144.2h1.71v40.8h-1.71zM424.6 1225.8h1.71v40.8h-1.71zM1260.7 1225.8h1.71v40.8h-1.71zM971.2 1266.6h1.71v40.8h-1.71zM1065.4 1266.6h1.71v40.8h-1.71zM1132.2 1266.6h1.71v40.8h-1.71zM1139.1 1266.6h1.71v40.8h-1.71zM1223.0 1266.6h1.71v40.8h-1.71zM1277.9 1266.6h1.71v40.8h-1.71zM1132.2 1307.4h1.71v40.8h-1.71zM1226.5 1307.4h1.71v40.8h-1.71zM1248.7 1307.4h1.71v40.8h-1.71z"/>
<path fill="#fffebe" d="M1123.7 1144.2h1.71v40.8h-1.71zM1007.2 1225.8h1.71v40.8h-1.71zM1020.9 1266.6h1.71v40.8h-1.71zM1060.3 1266.6h1.71v40.8h-1.71zM1152.8 1266.6h1.71v40.8h-1.71zM863.2 1307.4h1.71v40.8h-1.71zM1003.7 1307.4h3.43v40.8h-3.43zM1151.1 1307.4h1.71v40.8h-1.71zM1211.1 1307.4h1.71v40.8h-1.71zM1217.9 1307.4h1.71v40.8h-1.71zM1156.2 1389.0h1.71v40.8h-1.71z"/>
<path fill="#fffcbb" d="M402.4 1144.2h1.71v40.8h-1.71zM405.8 1144.2h1.71v40.8h-1.71zM421.2 1225.8h1.71v40.8h-1.71zM39.1 1266.6h1.71v40.8h-1.71zM873.5 1266.6h1.71v40.8h-1.71zM1063.7 1266.6h1.71v40.8h-1.71zM1082.6 1266.6h1.71v40.8h-1.71zM1104.8 1266.6h1.71v40.8h-1.71zM1166.5 1266.6h1.71v40.8h-1.71zM1259.0 1266.6h1.71v40.8h-1.71zM1108.3 1307.4h1.71v40.8h-1.71zM1125.4 1307.4h1.71v40.8h-1.71zM1171.6 1307.4h1.71v40.8h-1.71zM976.3 1348.2h1.71v40.8h-1.71z"/>
<path fill="#fffab8" d="M1303.6 695.4h1.71v40.8h-1.71zM698.8 858.6h1.71v40.8h-1.71zM75.1 899.4h1.71v40.8h-1.71zM141.9 899.4h1.71v40.8h-1.71zM707.3 899.4h1.71v40.8h-1.71zM950.6 1266.6h1.71v40.8h-1.71zM1159.7 1266.6h1.71v40.8h-1.71zM1199.1 1266.6h1.71v40.8h-1.71zM1240.2 1266.6h1.71v40.8h-1.71zM1253.9 1266.6h1.71v40.8h-1.71zM928.4 1307.4h1.71v40.8h-1.71zM1262.5 1307.4h1.71v40.8h-1.71zM1272.7 1307.4h1.71v40.8h-1.71zM899.2 1348.2h1.71v40.8h-1.71zM849.5 1389.0h1.71v40.8h-1.71zM931.8 1389.0h1.71v40.8h-1.71z"/>
<path fill="#fff8b5" d="M404.1 1144.2h1.71v40.8h-1.71zM1125.4 1144.2h1.71v40.8h-1.71zM419.5 1225.8h1.71v40.8h-1.71zM847.8 1225.8h1.71v40.8h-1.71zM883.8 1266.6h1.71v40.8h-1.71zM887.2 1266.6h1.71v40.8h-1.71zM1000.3 1266.6h1.71v40.8h-1.71zM1185.4 1266.6h1.71v40.8h-1.71zM1205.9 1266.6h1.71v40.8h-1.71zM54.6 1307.4h1.71v40.8h-1.71zM518.9 1307.4h1.71v40.8h-1.71zM866.7 1307.4h1.71v40.8h-1.71zM888.9 1307.4h1.71v40.8h-1.71zM972.9 1307.4h1.71v40.8h-1.71zM981.5 1348.2h1.71v40.8h-1.71zM1289.9 1348.2h1.71v40.8h-1.71zM1048.3 1389.0h1.71v40.8h-1.71z"/>
<path fill="#fff7b2" d="M563.4 573.0h1.71v40.8h-1.71zM71.7 899.4h1.71v40.8h-1.71zM133.4 899.4h1.71v40.8h-1.71zM1122.0 1144.2h1.71v40.8h-1.71zM1043.1 1266.6h1.71v40.8h-1.71zM1267.6 1266.6h1.71v40.8h-1.71zM1300.1 1266.6h1.71v40.8h-1.71zM885.5 1307.4h1.71v40.8h-1.71zM890.7 1307.4h1.71v40.8h-1.71zM904.4 1307.4h1.71v40.8h-1.71zM1048.3 1307.4h1.71v40.8h-1.71z"/>
<path fill="#fed689" d="M887.2 940.2h1.71v40.8h-1.71zM1034.6 1225.8h1.71v40.8h-1.71zM919.8 1266.6h1.71v40.8h-1.71z"/>
<path fill="#fed186" d="M899.2 1225.8h1.71v40.8h-1.71zM1291.6 1266.6h1.71v40.8h-1.71z"/>
<path fill="#fecc83" d="M1008.9 1266.6h1.71v40.8h-1.71z"/>
<path fill="#fdc27c" d="M1036.3 1225.8h1.71v40.8h-1.71zM921.5 1266.6h1.71v40.8h-1.71zM1289.9 1266.6h1.71v40.8h-1.71z"/>
<path fill="#fdbd79" d="M996.9 1266.6h1.71v40.8h-1.71z"/>
<path fill="#fdb875" d="M966.0 1225.8h1.71v40.8h-1.71zM1163.1 1266.6h1.71v40.8h-1.71z"/>
<path fill="#fdb372" d="M1003.7 1266.6h1.71v40.8h-1.71zM1300.1 1348.2h1.71v40.8h-1.71z"/>
<path fill="#fdae6f" d="M940.3 1307.4h1.71v40.8h-1.71z"/>
<path fill="#fda468" d="M1032.9 1225.8h1.71v40.8h-1.71z"/>
<path fill="#fc9f65" d="M1298.4 695.4h1.71v40.8h-1.71zM923.2 1266.6h1.71v40.8h-1.71zM1164.8 1307.4h1.71v40.8h-1.71z"/>
<path fill="#e45239" d="M914.6 1307.4h1.71v40.8h-1.71z"/>
<path fill="#e04733" d="M1296.7 695.4h1.71v40.8h-1.71z"/>
<path fill="#d73027" d="M892.4 1266.6h1.71v40.8h-1.71z"/>
</g>
<defs><linearGradient id="lg" x1="0" x2="1" y1="0" y2="0"><stop offset="0.0000" stop-color="#4575B4"/><stop offset="0.1667" stop-color="#91BFDB"/><stop offset="0.3333" stop-color="#E0F3F8"/><stop offset="0.5000" stop-color="#FFFFBF"/><stop offset="0.6667" stop-color="#FEE090"/><stop offset="0.8333" stop-color="#FC8D59"/><stop offset="1.0000" stop-color="#D73027"/></linearGradient></defs>
<rect x="1322.7" y="259.8" width="416.3" height="17.7" fill="url(#lg)"/>
<text x="1323.0" y="259.8">Relative abundance</text>
<text x="1325.5" y="313.3">0</text>
<text x="1361.0" y="315.8">0.1</text>
<text x="1422.0" y="315.8">0.2</text>
<text x="1475.0" y="315.8">0.3</text>
<text x="1535.5" y="315.8">0.4</text>
<text x="1603.0" y="315.8">0.5</text>
<text x="1654.5" y="315.8">0.6</text>
<text x="1704.0" y="315.8">0.7</text>
<text x="1314.5" y="345.5">Age groups</text>
<text x="1314.5" y="372.3">Diarrhea status</text>
<text x="1312.7" y="398.2"><tspan font-style="italic">Limosilactobacillus mucosae</tspan></text>
<text x="1311.5" y="438.9">Unclassified <tspan font-style="italic">Coriobacteriaceae</tspan></text>
<text x="1312.7" y="481.5">Unclassified <tspan font-style="italic">Mitsuokella</tspan></text>
<text x="1312.5" y="519.7"><tspan font-style="italic">Phascolarctobacterium succinatutens</tspan></text>
<text x="1311.5" y="561.5"><tspan font-style="italic">Prevotella stercorea</tspan></text>
<text x="1311.5" y="602.9"><tspan font-style="italic">Succinivibrio dextrinosolvens</tspan></text>
<text x="1312.7" y="642.0">Unclassified <tspan font-style="italic">Lactobacillus</tspan></text>
<text x="1311.5" y="683.5"><tspan font-style="italic">Ruminococcus gnavus</tspan></text>
<text x="1308.9" y="724.1">Unclassified <tspan font-style="italic">Enterobacteriaceae</tspan></text>
<text x="1310.2" y="764.9">Unclassified <tspan font-style="italic">Bacteria</tspan></text>
<text x="1310.2" y="806.7"><tspan font-style="italic">Bifidobacterium bifidum</tspan></text>
<text x="1312.2" y="848.0">Unclassified <tspan font-style="italic">Campylobacter</tspan></text>
<text x="1312.7" y="890.0"><tspan font-style="italic">Dialister succinatiphilus</tspan></text>
<text x="1312.2" y="930.5"><tspan font-style="italic">Faecalibacterium prausnitzii</tspan></text>
<text x="1311.5" y="971.1"><tspan font-style="italic">Ligilactobacillus ruminis</tspan></text>
<text x="1314.5" y="1013.2"><tspan font-style="italic">Roseburia inulinivorans</tspan></text>
<text x="1310.7" y="1052.5"><tspan font-style="italic">Gemmiger formicilis</tspan></text>
<text x="1312.2" y="1095.3">Unclassified <tspan font-style="italic">Clostridium</tspan> XVIII</text>
<text x="1310.7" y="1131.8"><tspan font-style="italic">Anaerostipes hadrum</tspan></text>
<text x="1310.7" y="1173.6">Unclassified <tspan font-style="italic">Bacteroides</tspan></text>
<text x="1313.3" y="1215.7"><tspan font-style="italic">Haemophilus parainfluenzae</tspan></text>
<text x="1310.2" y="1257.0"><tspan font-style="italic">Bacteroides fragilis</tspan></text>
<text x="1311.5" y="1295.8"><tspan font-style="italic">Escherichia</tspan> spp.</text>
<text x="1313.3" y="1338.9">Unclassified <tspan font-style="italic">Bifidobacterium</tspan></text>
<text x="1311.5" y="1376.5">Unclassified <tspan font-style="italic">Streptococcus</tspan></text>
<text x="1312.7" y="1423.5"><tspan font-style="italic">Veillonella dispar</tspan></text>
</svg>
</body></html>
